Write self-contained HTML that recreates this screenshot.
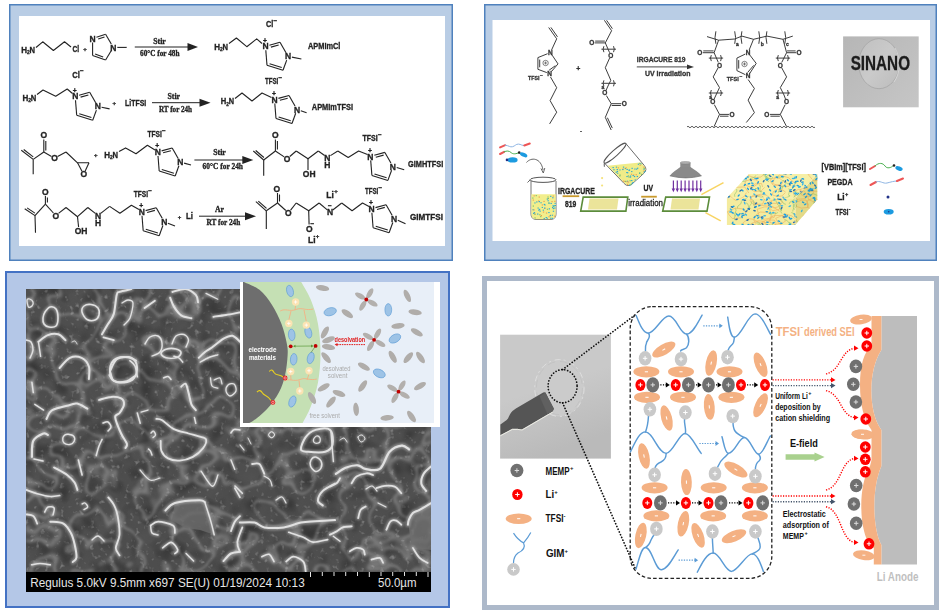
<!DOCTYPE html>
<html><head><meta charset="utf-8"><title>Figure</title>
<style>html,body{margin:0;padding:0;background:#fff;}body{width:942px;height:615px;overflow:hidden;position:relative;}svg{position:absolute;left:0;top:0;}</style>
</head><body>
<svg width="942" height="615" viewBox="0 0 942 615">
<rect x="9.75" y="4.75" width="442.5" height="255.5" fill="#b9cde5" stroke="#4f81bd" stroke-width="1.5"/>
<rect x="19" y="16" width="426" height="230" fill="#fff"/>
<rect x="484.75" y="4.75" width="451.5" height="255.5" fill="#b9cde5" stroke="#4f81bd" stroke-width="1.5"/>
<rect x="492.5" y="20" width="437.5" height="221" fill="#fff"/>
<rect x="6" y="272" width="443" height="335" fill="#b4c7e7" stroke="#4472c4" stroke-width="2"/>
<rect x="484.5" y="278.5" width="452" height="329" fill="#fff" stroke="#adb9ca" stroke-width="5"/>
<defs><filter id="soft" x="0" y="0" width="100%" height="100%" filterUnits="userSpaceOnUse"><feGaussianBlur stdDeviation="0.4"/></filter></defs>
<g filter="url(#soft)">
<text x="21.3" y="53.1" font-family='"Liberation Sans", sans-serif' font-size="8.5" font-weight="bold" fill="#222" text-anchor="start" textLength="5.8" lengthAdjust="spacingAndGlyphs" stroke="#222" stroke-width="0.3">H</text>
<text x="27.1" y="54.2" font-family='"Liberation Sans", sans-serif' font-size="5.525" font-weight="bold" fill="#222" text-anchor="start" textLength="2.7" lengthAdjust="spacingAndGlyphs" stroke="#222" stroke-width="0.3">2</text>
<text x="29.5" y="53.1" font-family='"Liberation Sans", sans-serif' font-size="8.5" font-weight="bold" fill="#222" text-anchor="start" textLength="5.5" lengthAdjust="spacingAndGlyphs" stroke="#222" stroke-width="0.3">N</text>
<polyline points="36.0,47.5 42.7,41.8 53.4,50.5 64.5,41.8 71.0,47.0" fill="none" stroke="#222" stroke-width="1.1" stroke-linejoin="round" />
<text x="72.5" y="52.4" font-family='"Liberation Sans", sans-serif' font-size="8.5" font-weight="bold" fill="#222" text-anchor="start" textLength="6.7" lengthAdjust="spacingAndGlyphs" stroke="#222" stroke-width="0.3">Cl</text>
<text x="85.0" y="50.7" font-family='"Liberation Sans", sans-serif' font-size="6" font-weight="bold" fill="#222" text-anchor="middle" stroke="#222" stroke-width="0.3">+</text>
<polyline points="96.4,37.2 105.6,34.3" fill="none" stroke="#222" stroke-width="1.1" stroke-linejoin="round" />
<polyline points="98.2,39.1 104.5,37.1" fill="none" stroke="#222" stroke-width="1.1" stroke-linejoin="round" />
<polyline points="105.6,34.3 111.3,44.0" fill="none" stroke="#222" stroke-width="1.1" stroke-linejoin="round" />
<polyline points="111.2,50.8 105.6,60.0" fill="none" stroke="#222" stroke-width="1.1" stroke-linejoin="round" />
<polyline points="105.6,60.0 92.6,55.5" fill="none" stroke="#222" stroke-width="1.1" stroke-linejoin="round" />
<polyline points="103.1,57.1 95.1,54.0" fill="none" stroke="#222" stroke-width="1.1" stroke-linejoin="round" />
<polyline points="92.6,55.5 92.6,42.4" fill="none" stroke="#222" stroke-width="1.1" stroke-linejoin="round" />
<text x="92.6" y="41.5" font-family='"Liberation Sans", sans-serif' font-size="8.5" font-weight="bold" fill="#222" text-anchor="middle" stroke="#222" stroke-width="0.3">N</text>
<text x="113.3" y="50.5" font-family='"Liberation Sans", sans-serif' font-size="8.5" font-weight="bold" fill="#222" text-anchor="middle" stroke="#222" stroke-width="0.3">N</text>
<polyline points="117.3,47.4 126.7,47.4" fill="none" stroke="#222" stroke-width="1.1" stroke-linejoin="round" />
<polyline points="134.8,47.0 188.5,47.0" fill="none" stroke="#222" stroke-width="1.0" stroke-linejoin="round" />
<polygon points="187.5,43.0 198.0,47.0 187.5,51.0" fill="#222"/>
<text x="159.5" y="44.1" font-family='"Liberation Serif", serif' font-size="7.8" font-weight="bold" fill="#222" text-anchor="middle" stroke="#222" stroke-width="0.3">Stir</text>
<text x="140.0" y="55.5" font-family='"Liberation Serif", serif' font-size="7.8" font-weight="bold" fill="#222" text-anchor="start" textLength="39.5" lengthAdjust="spacingAndGlyphs" stroke="#222" stroke-width="0.3">60°C for 48h</text>
<text x="266.0" y="26.9" font-family='"Liberation Sans", sans-serif' font-size="8.5" font-weight="bold" fill="#222" text-anchor="start" textLength="7.3" lengthAdjust="spacingAndGlyphs" stroke="#222" stroke-width="0.3">Cl</text>
<text x="273.5" y="22.6" font-family='"Liberation Sans", sans-serif' font-size="6.375" font-weight="bold" fill="#222" text-anchor="start" stroke="#222" stroke-width="0.3">−</text>
<text x="214.3" y="49.8" font-family='"Liberation Sans", sans-serif' font-size="8.5" font-weight="bold" fill="#222" text-anchor="start" textLength="5.8" lengthAdjust="spacingAndGlyphs" stroke="#222" stroke-width="0.3">H</text>
<text x="220.1" y="50.9" font-family='"Liberation Sans", sans-serif' font-size="5.525" font-weight="bold" fill="#222" text-anchor="start" textLength="2.7" lengthAdjust="spacingAndGlyphs" stroke="#222" stroke-width="0.3">2</text>
<text x="222.5" y="49.8" font-family='"Liberation Sans", sans-serif' font-size="8.5" font-weight="bold" fill="#222" text-anchor="start" textLength="5.5" lengthAdjust="spacingAndGlyphs" stroke="#222" stroke-width="0.3">N</text>
<polyline points="229.0,43.5 236.4,38.0 246.8,46.7 256.7,38.9 262.0,43.5" fill="none" stroke="#222" stroke-width="1.1" stroke-linejoin="round" />
<polyline points="269.4,45.2 280.0,42.3" fill="none" stroke="#222" stroke-width="1.1" stroke-linejoin="round" />
<polyline points="270.9,47.1 278.7,45.0" fill="none" stroke="#222" stroke-width="1.1" stroke-linejoin="round" />
<polyline points="280.0,42.3 286.0,52.8" fill="none" stroke="#222" stroke-width="1.1" stroke-linejoin="round" />
<polyline points="286.7,60.1 283.0,70.3" fill="none" stroke="#222" stroke-width="1.1" stroke-linejoin="round" />
<polyline points="283.0,70.3 267.0,65.3" fill="none" stroke="#222" stroke-width="1.1" stroke-linejoin="round" />
<polyline points="281.7,67.6 269.6,63.8" fill="none" stroke="#222" stroke-width="1.1" stroke-linejoin="round" />
<polyline points="267.0,65.3 265.8,50.3" fill="none" stroke="#222" stroke-width="1.1" stroke-linejoin="round" />
<text x="265.5" y="49.4" font-family='"Liberation Sans", sans-serif' font-size="8.5" font-weight="bold" fill="#222" text-anchor="middle" stroke="#222" stroke-width="0.3">N</text>
<text x="288.0" y="59.4" font-family='"Liberation Sans", sans-serif' font-size="8.5" font-weight="bold" fill="#222" text-anchor="middle" stroke="#222" stroke-width="0.3">N</text>
<text x="265.0" y="42.7" font-family='"Liberation Sans", sans-serif' font-size="6.800000000000001" font-weight="bold" fill="#222" text-anchor="middle" stroke="#222" stroke-width="0.3">+</text>
<polyline points="291.9,57.1 301.4,59.0" fill="none" stroke="#222" stroke-width="1.1" stroke-linejoin="round" />
<text x="308.0" y="49.1" font-family='"Liberation Sans", sans-serif' font-size="8.5" font-weight="bold" fill="#222" text-anchor="start" textLength="32.4" lengthAdjust="spacingAndGlyphs" stroke="#222" stroke-width="0.3">APMImCl</text>
<text x="72.2" y="77.6" font-family='"Liberation Sans", sans-serif' font-size="8.5" font-weight="bold" fill="#222" text-anchor="start" textLength="7.6" lengthAdjust="spacingAndGlyphs" stroke="#222" stroke-width="0.3">Cl</text>
<text x="80.0" y="73.3" font-family='"Liberation Sans", sans-serif' font-size="6.375" font-weight="bold" fill="#222" text-anchor="start" stroke="#222" stroke-width="0.3">−</text>
<text x="22.4" y="100.5" font-family='"Liberation Sans", sans-serif' font-size="8.5" font-weight="bold" fill="#222" text-anchor="start" textLength="5.8" lengthAdjust="spacingAndGlyphs" stroke="#222" stroke-width="0.3">H</text>
<text x="28.2" y="101.6" font-family='"Liberation Sans", sans-serif' font-size="5.525" font-weight="bold" fill="#222" text-anchor="start" textLength="2.8" lengthAdjust="spacingAndGlyphs" stroke="#222" stroke-width="0.3">2</text>
<text x="30.7" y="100.5" font-family='"Liberation Sans", sans-serif' font-size="8.5" font-weight="bold" fill="#222" text-anchor="start" textLength="5.5" lengthAdjust="spacingAndGlyphs" stroke="#222" stroke-width="0.3">N</text>
<polyline points="37.0,94.5 43.0,90.0 55.7,96.3 67.2,89.0 72.5,93.5" fill="none" stroke="#222" stroke-width="1.1" stroke-linejoin="round" />
<polyline points="79.1,95.2 89.7,92.3" fill="none" stroke="#222" stroke-width="1.1" stroke-linejoin="round" />
<polyline points="80.6,97.1 88.4,95.0" fill="none" stroke="#222" stroke-width="1.1" stroke-linejoin="round" />
<polyline points="89.7,92.3 95.7,102.8" fill="none" stroke="#222" stroke-width="1.1" stroke-linejoin="round" />
<polyline points="96.4,110.1 92.7,120.3" fill="none" stroke="#222" stroke-width="1.1" stroke-linejoin="round" />
<polyline points="92.7,120.3 76.7,115.3" fill="none" stroke="#222" stroke-width="1.1" stroke-linejoin="round" />
<polyline points="91.4,117.6 79.3,113.8" fill="none" stroke="#222" stroke-width="1.1" stroke-linejoin="round" />
<polyline points="76.7,115.3 75.5,100.3" fill="none" stroke="#222" stroke-width="1.1" stroke-linejoin="round" />
<text x="75.2" y="99.4" font-family='"Liberation Sans", sans-serif' font-size="8.5" font-weight="bold" fill="#222" text-anchor="middle" stroke="#222" stroke-width="0.3">N</text>
<text x="97.7" y="109.4" font-family='"Liberation Sans", sans-serif' font-size="8.5" font-weight="bold" fill="#222" text-anchor="middle" stroke="#222" stroke-width="0.3">N</text>
<text x="74.7" y="92.7" font-family='"Liberation Sans", sans-serif' font-size="6.800000000000001" font-weight="bold" fill="#222" text-anchor="middle" stroke="#222" stroke-width="0.3">+</text>
<polyline points="101.6,107.2 109.6,108.9" fill="none" stroke="#222" stroke-width="1.1" stroke-linejoin="round" />
<text x="114.2" y="105.3" font-family='"Liberation Sans", sans-serif' font-size="6" font-weight="bold" fill="#222" text-anchor="middle" stroke="#222" stroke-width="0.3">+</text>
<text x="125.0" y="106.2" font-family='"Liberation Sans", sans-serif' font-size="8.5" font-weight="bold" fill="#222" text-anchor="start" textLength="21.3" lengthAdjust="spacingAndGlyphs" stroke="#222" stroke-width="0.3">LiTFSI</text>
<polyline points="152.0,102.7 200.5,102.7" fill="none" stroke="#222" stroke-width="1.0" stroke-linejoin="round" />
<polygon points="199.5,98.7 210.5,102.7 199.5,106.7" fill="#222"/>
<text x="173.8" y="99.1" font-family='"Liberation Serif", serif' font-size="7.8" font-weight="bold" fill="#222" text-anchor="middle" stroke="#222" stroke-width="0.3">Stir</text>
<text x="158.9" y="112.4" font-family='"Liberation Serif", serif' font-size="7.8" font-weight="bold" fill="#222" text-anchor="start" textLength="33.2" lengthAdjust="spacingAndGlyphs" stroke="#222" stroke-width="0.3">RT for 24h</text>
<text x="265.0" y="84.1" font-family='"Liberation Sans", sans-serif' font-size="8.5" font-weight="bold" fill="#222" text-anchor="start" textLength="13.3" lengthAdjust="spacingAndGlyphs" stroke="#222" stroke-width="0.3">TFSI</text>
<text x="278.6" y="79.8" font-family='"Liberation Sans", sans-serif' font-size="6.375" font-weight="bold" fill="#222" text-anchor="start" stroke="#222" stroke-width="0.3">−</text>
<text x="220.8" y="104.4" font-family='"Liberation Sans", sans-serif' font-size="8.5" font-weight="bold" fill="#222" text-anchor="start" textLength="5.5" lengthAdjust="spacingAndGlyphs" stroke="#222" stroke-width="0.3">H</text>
<text x="226.3" y="105.5" font-family='"Liberation Sans", sans-serif' font-size="5.525" font-weight="bold" fill="#222" text-anchor="start" textLength="2.6" lengthAdjust="spacingAndGlyphs" stroke="#222" stroke-width="0.3">2</text>
<text x="228.7" y="104.4" font-family='"Liberation Sans", sans-serif' font-size="8.5" font-weight="bold" fill="#222" text-anchor="start" textLength="5.3" lengthAdjust="spacingAndGlyphs" stroke="#222" stroke-width="0.3">N</text>
<polyline points="235.0,98.5 242.0,93.0 252.0,101.0 262.0,93.0 271.5,97.5" fill="none" stroke="#222" stroke-width="1.1" stroke-linejoin="round" />
<polyline points="278.4,98.4 289.0,95.5" fill="none" stroke="#222" stroke-width="1.1" stroke-linejoin="round" />
<polyline points="279.9,100.3 287.7,98.2" fill="none" stroke="#222" stroke-width="1.1" stroke-linejoin="round" />
<polyline points="289.0,95.5 295.0,106.0" fill="none" stroke="#222" stroke-width="1.1" stroke-linejoin="round" />
<polyline points="295.7,113.3 292.0,123.5" fill="none" stroke="#222" stroke-width="1.1" stroke-linejoin="round" />
<polyline points="292.0,123.5 276.0,118.5" fill="none" stroke="#222" stroke-width="1.1" stroke-linejoin="round" />
<polyline points="290.7,120.8 278.6,117.0" fill="none" stroke="#222" stroke-width="1.1" stroke-linejoin="round" />
<polyline points="276.0,118.5 274.8,103.5" fill="none" stroke="#222" stroke-width="1.1" stroke-linejoin="round" />
<text x="274.5" y="102.6" font-family='"Liberation Sans", sans-serif' font-size="8.5" font-weight="bold" fill="#222" text-anchor="middle" stroke="#222" stroke-width="0.3">N</text>
<text x="297.0" y="112.6" font-family='"Liberation Sans", sans-serif' font-size="8.5" font-weight="bold" fill="#222" text-anchor="middle" stroke="#222" stroke-width="0.3">N</text>
<text x="274.0" y="95.9" font-family='"Liberation Sans", sans-serif' font-size="6.800000000000001" font-weight="bold" fill="#222" text-anchor="middle" stroke="#222" stroke-width="0.3">+</text>
<polyline points="300.8,110.8 306.6,112.7" fill="none" stroke="#222" stroke-width="1.1" stroke-linejoin="round" />
<text x="311.8" y="109.6" font-family='"Liberation Sans", sans-serif' font-size="8.5" font-weight="bold" fill="#222" text-anchor="start" textLength="41.2" lengthAdjust="spacingAndGlyphs" stroke="#222" stroke-width="0.3">APMImTFSI</text>
<polyline points="21.3,150.2 33.2,159.4" fill="none" stroke="#222" stroke-width="1.1" stroke-linejoin="round" />
<polyline points="23.7,149.5 33.2,156.9" fill="none" stroke="#222" stroke-width="1.1" stroke-linejoin="round" />
<polyline points="33.2,159.4 33.2,174.3" fill="none" stroke="#222" stroke-width="1.1" stroke-linejoin="round" />
<polyline points="33.2,159.4 43.8,152.0" fill="none" stroke="#222" stroke-width="1.1" stroke-linejoin="round" />
<polyline points="43.8,152.0 43.8,139.5" fill="none" stroke="#222" stroke-width="1.1" stroke-linejoin="round" />
<polyline points="45.8,150.5 45.8,141.0" fill="none" stroke="#222" stroke-width="1.1" stroke-linejoin="round" />
<text x="43.8" y="138.1" font-family='"Liberation Sans", sans-serif' font-size="8.5" font-weight="bold" fill="#222" text-anchor="middle" stroke="#222" stroke-width="0.3">O</text>
<polyline points="43.8,152.0 51.5,156.4" fill="none" stroke="#222" stroke-width="1.1" stroke-linejoin="round" />
<text x="54.5" y="161.3" font-family='"Liberation Sans", sans-serif' font-size="8.5" font-weight="bold" fill="#222" text-anchor="middle" stroke="#222" stroke-width="0.3">O</text>
<polyline points="57.6,156.5 66.0,152.0" fill="none" stroke="#222" stroke-width="1.1" stroke-linejoin="round" />
<polyline points="66.0,152.0 77.5,162.8 89.0,162.8" fill="none" stroke="#222" stroke-width="1.1" stroke-linejoin="round" />
<polyline points="77.5,162.8 82.0,171.2" fill="none" stroke="#222" stroke-width="1.1" stroke-linejoin="round" />
<polyline points="89.0,162.8 85.2,171.1" fill="none" stroke="#222" stroke-width="1.1" stroke-linejoin="round" />
<text x="83.7" y="177.4" font-family='"Liberation Sans", sans-serif' font-size="8.5" font-weight="bold" fill="#222" text-anchor="middle" stroke="#222" stroke-width="0.3">O</text>
<text x="95.8" y="157.0" font-family='"Liberation Sans", sans-serif' font-size="6" font-weight="bold" fill="#222" text-anchor="middle" stroke="#222" stroke-width="0.3">+</text>
<text x="104.3" y="157.5" font-family='"Liberation Sans", sans-serif' font-size="8.5" font-weight="bold" fill="#222" text-anchor="start" textLength="5.8" lengthAdjust="spacingAndGlyphs" stroke="#222" stroke-width="0.3">H</text>
<text x="110.1" y="158.6" font-family='"Liberation Sans", sans-serif' font-size="5.525" font-weight="bold" fill="#222" text-anchor="start" textLength="2.7" lengthAdjust="spacingAndGlyphs" stroke="#222" stroke-width="0.3">2</text>
<text x="112.5" y="157.5" font-family='"Liberation Sans", sans-serif' font-size="8.5" font-weight="bold" fill="#222" text-anchor="start" textLength="5.5" lengthAdjust="spacingAndGlyphs" stroke="#222" stroke-width="0.3">N</text>
<polyline points="119.0,151.5 125.6,147.9 136.0,153.7 147.4,145.2 155.0,150.0" fill="none" stroke="#222" stroke-width="1.1" stroke-linejoin="round" />
<polyline points="161.6,150.9 172.2,148.0" fill="none" stroke="#222" stroke-width="1.1" stroke-linejoin="round" />
<polyline points="163.1,152.8 170.9,150.7" fill="none" stroke="#222" stroke-width="1.1" stroke-linejoin="round" />
<polyline points="172.2,148.0 178.2,158.5" fill="none" stroke="#222" stroke-width="1.1" stroke-linejoin="round" />
<polyline points="178.9,165.8 175.2,176.0" fill="none" stroke="#222" stroke-width="1.1" stroke-linejoin="round" />
<polyline points="175.2,176.0 159.2,171.0" fill="none" stroke="#222" stroke-width="1.1" stroke-linejoin="round" />
<polyline points="173.9,173.3 161.8,169.5" fill="none" stroke="#222" stroke-width="1.1" stroke-linejoin="round" />
<polyline points="159.2,171.0 158.0,156.0" fill="none" stroke="#222" stroke-width="1.1" stroke-linejoin="round" />
<text x="157.7" y="155.1" font-family='"Liberation Sans", sans-serif' font-size="8.5" font-weight="bold" fill="#222" text-anchor="middle" stroke="#222" stroke-width="0.3">N</text>
<text x="180.2" y="165.1" font-family='"Liberation Sans", sans-serif' font-size="8.5" font-weight="bold" fill="#222" text-anchor="middle" stroke="#222" stroke-width="0.3">N</text>
<text x="157.2" y="148.4" font-family='"Liberation Sans", sans-serif' font-size="6.800000000000001" font-weight="bold" fill="#222" text-anchor="middle" stroke="#222" stroke-width="0.3">+</text>
<polyline points="184.1,163.1 191.0,165.0" fill="none" stroke="#222" stroke-width="1.1" stroke-linejoin="round" />
<text x="147.4" y="136.8" font-family='"Liberation Sans", sans-serif' font-size="8.5" font-weight="bold" fill="#222" text-anchor="start" textLength="14.4" lengthAdjust="spacingAndGlyphs" stroke="#222" stroke-width="0.3">TFSI</text>
<text x="162.1" y="132.5" font-family='"Liberation Sans", sans-serif' font-size="6.375" font-weight="bold" fill="#222" text-anchor="start" stroke="#222" stroke-width="0.3">−</text>
<polyline points="194.4,160.0 243.3,160.0" fill="none" stroke="#222" stroke-width="1.0" stroke-linejoin="round" />
<polygon points="242.3,156.0 253.3,160.0 242.3,164.0" fill="#222"/>
<text x="219.5" y="155.1" font-family='"Liberation Serif", serif' font-size="7.8" font-weight="bold" fill="#222" text-anchor="middle" stroke="#222" stroke-width="0.3">Stir</text>
<text x="202.6" y="168.8" font-family='"Liberation Serif", serif' font-size="7.8" font-weight="bold" fill="#222" text-anchor="start" textLength="40.4" lengthAdjust="spacingAndGlyphs" stroke="#222" stroke-width="0.3">60°C for 24h</text>
<polyline points="253.3,151.0 263.7,160.0" fill="none" stroke="#222" stroke-width="1.1" stroke-linejoin="round" />
<polyline points="255.7,150.5 263.9,157.5" fill="none" stroke="#222" stroke-width="1.1" stroke-linejoin="round" />
<polyline points="263.7,160.0 263.7,175.7" fill="none" stroke="#222" stroke-width="1.1" stroke-linejoin="round" />
<polyline points="263.7,160.0 275.4,151.0" fill="none" stroke="#222" stroke-width="1.1" stroke-linejoin="round" />
<polyline points="275.4,151.0 275.4,139.5" fill="none" stroke="#222" stroke-width="1.1" stroke-linejoin="round" />
<polyline points="277.4,149.5 277.4,141.0" fill="none" stroke="#222" stroke-width="1.1" stroke-linejoin="round" />
<text x="275.4" y="138.0" font-family='"Liberation Sans", sans-serif' font-size="8.5" font-weight="bold" fill="#222" text-anchor="middle" stroke="#222" stroke-width="0.3">O</text>
<polyline points="275.4,151.0 284.2,156.9" fill="none" stroke="#222" stroke-width="1.1" stroke-linejoin="round" />
<text x="287.1" y="161.9" font-family='"Liberation Sans", sans-serif' font-size="8.5" font-weight="bold" fill="#222" text-anchor="middle" stroke="#222" stroke-width="0.3">O</text>
<polyline points="289.8,156.5 296.2,151.0" fill="none" stroke="#222" stroke-width="1.1" stroke-linejoin="round" />
<polyline points="296.2,151.0 308.0,158.8 318.3,151.0" fill="none" stroke="#222" stroke-width="1.1" stroke-linejoin="round" />
<polyline points="308.0,158.8 308.0,169.9" fill="none" stroke="#222" stroke-width="1.1" stroke-linejoin="round" />
<text x="309.2" y="177.0" font-family='"Liberation Sans", sans-serif' font-size="8.5" font-weight="bold" fill="#222" text-anchor="middle" stroke="#222" stroke-width="0.3">OH</text>
<polyline points="318.3,151.0 324.6,155.5" fill="none" stroke="#222" stroke-width="1.1" stroke-linejoin="round" />
<text x="327.4" y="160.6" font-family='"Liberation Sans", sans-serif' font-size="8.5" font-weight="bold" fill="#222" text-anchor="middle" stroke="#222" stroke-width="0.3">N</text>
<text x="327.4" y="168.4" font-family='"Liberation Sans", sans-serif' font-size="8.5" font-weight="bold" fill="#222" text-anchor="middle" stroke="#222" stroke-width="0.3">H</text>
<polyline points="330.4,155.6 337.8,151.0" fill="none" stroke="#222" stroke-width="1.1" stroke-linejoin="round" />
<polyline points="337.8,151.0 348.2,157.5 358.6,151.0 367.5,154.5" fill="none" stroke="#222" stroke-width="1.1" stroke-linejoin="round" />
<polyline points="374.3,155.3 384.9,152.4" fill="none" stroke="#222" stroke-width="1.1" stroke-linejoin="round" />
<polyline points="375.8,157.2 383.6,155.1" fill="none" stroke="#222" stroke-width="1.1" stroke-linejoin="round" />
<polyline points="384.9,152.4 390.9,162.9" fill="none" stroke="#222" stroke-width="1.1" stroke-linejoin="round" />
<polyline points="391.6,170.2 387.9,180.4" fill="none" stroke="#222" stroke-width="1.1" stroke-linejoin="round" />
<polyline points="387.9,180.4 371.9,175.4" fill="none" stroke="#222" stroke-width="1.1" stroke-linejoin="round" />
<polyline points="386.6,177.7 374.5,173.9" fill="none" stroke="#222" stroke-width="1.1" stroke-linejoin="round" />
<polyline points="371.9,175.4 370.7,160.4" fill="none" stroke="#222" stroke-width="1.1" stroke-linejoin="round" />
<text x="370.4" y="159.5" font-family='"Liberation Sans", sans-serif' font-size="8.5" font-weight="bold" fill="#222" text-anchor="middle" stroke="#222" stroke-width="0.3">N</text>
<text x="392.9" y="169.5" font-family='"Liberation Sans", sans-serif' font-size="8.5" font-weight="bold" fill="#222" text-anchor="middle" stroke="#222" stroke-width="0.3">N</text>
<text x="369.9" y="152.8" font-family='"Liberation Sans", sans-serif' font-size="6.800000000000001" font-weight="bold" fill="#222" text-anchor="middle" stroke="#222" stroke-width="0.3">+</text>
<polyline points="396.7,167.5 404.2,169.7" fill="none" stroke="#222" stroke-width="1.1" stroke-linejoin="round" />
<text x="362.5" y="141.1" font-family='"Liberation Sans", sans-serif' font-size="8.5" font-weight="bold" fill="#222" text-anchor="start" textLength="15.2" lengthAdjust="spacingAndGlyphs" stroke="#222" stroke-width="0.3">TFSI</text>
<text x="378.1" y="136.8" font-family='"Liberation Sans", sans-serif' font-size="6.375" font-weight="bold" fill="#222" text-anchor="start" stroke="#222" stroke-width="0.3">−</text>
<text x="408.0" y="166.6" font-family='"Liberation Sans", sans-serif' font-size="8.5" font-weight="bold" fill="#222" text-anchor="start" textLength="35.2" lengthAdjust="spacingAndGlyphs" stroke="#222" stroke-width="0.3">GIMHTFSI</text>
<polyline points="24.7,208.7 35.0,215.6" fill="none" stroke="#222" stroke-width="1.1" stroke-linejoin="round" />
<polyline points="27.1,207.9 34.9,213.1" fill="none" stroke="#222" stroke-width="1.1" stroke-linejoin="round" />
<polyline points="35.0,215.6 35.5,232.8" fill="none" stroke="#222" stroke-width="1.1" stroke-linejoin="round" />
<polyline points="35.0,215.6 45.4,204.1" fill="none" stroke="#222" stroke-width="1.1" stroke-linejoin="round" />
<polyline points="45.4,204.1 45.4,196.0" fill="none" stroke="#222" stroke-width="1.1" stroke-linejoin="round" />
<polyline points="47.4,202.6 47.4,197.5" fill="none" stroke="#222" stroke-width="1.1" stroke-linejoin="round" />
<text x="45.4" y="194.6" font-family='"Liberation Sans", sans-serif' font-size="8.5" font-weight="bold" fill="#222" text-anchor="middle" stroke="#222" stroke-width="0.3">O</text>
<polyline points="45.4,204.1 53.4,213.0" fill="none" stroke="#222" stroke-width="1.1" stroke-linejoin="round" />
<text x="55.7" y="218.7" font-family='"Liberation Sans", sans-serif' font-size="8.5" font-weight="bold" fill="#222" text-anchor="middle" stroke="#222" stroke-width="0.3">O</text>
<polyline points="58.5,213.4 66.0,207.5" fill="none" stroke="#222" stroke-width="1.1" stroke-linejoin="round" />
<polyline points="66.0,207.5 77.5,216.7 87.8,207.5" fill="none" stroke="#222" stroke-width="1.1" stroke-linejoin="round" />
<polyline points="77.5,216.7 78.6,227.0" fill="none" stroke="#222" stroke-width="1.1" stroke-linejoin="round" />
<text x="81.0" y="234.1" font-family='"Liberation Sans", sans-serif' font-size="8.5" font-weight="bold" fill="#222" text-anchor="middle" stroke="#222" stroke-width="0.3">OH</text>
<polyline points="87.8,207.5 95.3,213.4" fill="none" stroke="#222" stroke-width="1.1" stroke-linejoin="round" />
<text x="98.0" y="218.7" font-family='"Liberation Sans", sans-serif' font-size="8.5" font-weight="bold" fill="#222" text-anchor="middle" stroke="#222" stroke-width="0.3">N</text>
<text x="98.0" y="225.9" font-family='"Liberation Sans", sans-serif' font-size="8.5" font-weight="bold" fill="#222" text-anchor="middle" stroke="#222" stroke-width="0.3">H</text>
<polyline points="100.7,213.4 109.6,206.4" fill="none" stroke="#222" stroke-width="1.1" stroke-linejoin="round" />
<polyline points="109.6,206.4 119.9,213.3 131.4,205.3 139.0,209.5" fill="none" stroke="#222" stroke-width="1.1" stroke-linejoin="round" />
<polyline points="145.6,210.6 156.2,207.7" fill="none" stroke="#222" stroke-width="1.1" stroke-linejoin="round" />
<polyline points="147.1,212.5 154.9,210.4" fill="none" stroke="#222" stroke-width="1.1" stroke-linejoin="round" />
<polyline points="156.2,207.7 162.2,218.2" fill="none" stroke="#222" stroke-width="1.1" stroke-linejoin="round" />
<polyline points="162.9,225.5 159.2,235.7" fill="none" stroke="#222" stroke-width="1.1" stroke-linejoin="round" />
<polyline points="159.2,235.7 143.2,230.7" fill="none" stroke="#222" stroke-width="1.1" stroke-linejoin="round" />
<polyline points="157.9,233.0 145.8,229.2" fill="none" stroke="#222" stroke-width="1.1" stroke-linejoin="round" />
<polyline points="143.2,230.7 142.0,215.7" fill="none" stroke="#222" stroke-width="1.1" stroke-linejoin="round" />
<text x="141.7" y="214.8" font-family='"Liberation Sans", sans-serif' font-size="8.5" font-weight="bold" fill="#222" text-anchor="middle" stroke="#222" stroke-width="0.3">N</text>
<text x="164.2" y="224.8" font-family='"Liberation Sans", sans-serif' font-size="8.5" font-weight="bold" fill="#222" text-anchor="middle" stroke="#222" stroke-width="0.3">N</text>
<text x="141.2" y="208.1" font-family='"Liberation Sans", sans-serif' font-size="6.800000000000001" font-weight="bold" fill="#222" text-anchor="middle" stroke="#222" stroke-width="0.3">+</text>
<polyline points="167.9,223.2 175.0,226.0" fill="none" stroke="#222" stroke-width="1.1" stroke-linejoin="round" />
<text x="133.7" y="196.9" font-family='"Liberation Sans", sans-serif' font-size="8.5" font-weight="bold" fill="#222" text-anchor="start" textLength="14.3" lengthAdjust="spacingAndGlyphs" stroke="#222" stroke-width="0.3">TFSI</text>
<text x="148.3" y="192.6" font-family='"Liberation Sans", sans-serif' font-size="6.375" font-weight="bold" fill="#222" text-anchor="start" stroke="#222" stroke-width="0.3">−</text>
<text x="179.5" y="218.5" font-family='"Liberation Sans", sans-serif' font-size="6" font-weight="bold" fill="#222" text-anchor="middle" stroke="#222" stroke-width="0.3">+</text>
<text x="186.0" y="218.7" font-family='"Liberation Sans", sans-serif' font-size="8.5" font-weight="bold" fill="#222" text-anchor="start" textLength="7.0" lengthAdjust="spacingAndGlyphs" stroke="#222" stroke-width="0.3">Li</text>
<polyline points="199.0,216.2 246.0,216.2" fill="none" stroke="#222" stroke-width="1.0" stroke-linejoin="round" />
<polygon points="245.0,212.2 256.0,216.2 245.0,220.2" fill="#222"/>
<text x="219.5" y="211.5" font-family='"Liberation Serif", serif' font-size="7.8" font-weight="bold" fill="#222" text-anchor="middle" stroke="#222" stroke-width="0.3">Ar</text>
<text x="206.5" y="224.5" font-family='"Liberation Serif", serif' font-size="7.8" font-weight="bold" fill="#222" text-anchor="start" textLength="33.8" lengthAdjust="spacingAndGlyphs" stroke="#222" stroke-width="0.3">RT for 24h</text>
<polyline points="255.9,201.7 266.3,210.8" fill="none" stroke="#222" stroke-width="1.1" stroke-linejoin="round" />
<polyline points="258.3,201.2 266.5,208.3" fill="none" stroke="#222" stroke-width="1.1" stroke-linejoin="round" />
<polyline points="266.3,210.8 266.3,229.0" fill="none" stroke="#222" stroke-width="1.1" stroke-linejoin="round" />
<polyline points="266.3,210.8 277.5,203.0" fill="none" stroke="#222" stroke-width="1.1" stroke-linejoin="round" />
<polyline points="277.5,203.0 277.5,193.0" fill="none" stroke="#222" stroke-width="1.1" stroke-linejoin="round" />
<polyline points="279.5,201.5 279.5,194.5" fill="none" stroke="#222" stroke-width="1.1" stroke-linejoin="round" />
<text x="276.7" y="191.8" font-family='"Liberation Sans", sans-serif' font-size="8.5" font-weight="bold" fill="#222" text-anchor="middle" stroke="#222" stroke-width="0.3">O</text>
<polyline points="277.5,203.0 285.8,210.5" fill="none" stroke="#222" stroke-width="1.1" stroke-linejoin="round" />
<text x="288.4" y="216.0" font-family='"Liberation Sans", sans-serif' font-size="8.5" font-weight="bold" fill="#222" text-anchor="middle" stroke="#222" stroke-width="0.3">O</text>
<polyline points="290.6,210.2 296.2,203.0" fill="none" stroke="#222" stroke-width="1.1" stroke-linejoin="round" />
<polyline points="296.2,203.0 308.7,210.8 319.1,203.0" fill="none" stroke="#222" stroke-width="1.1" stroke-linejoin="round" />
<polyline points="308.7,210.8 309.1,224.5" fill="none" stroke="#222" stroke-width="1.1" stroke-linejoin="round" />
<text x="309.2" y="231.6" font-family='"Liberation Sans", sans-serif' font-size="8.5" font-weight="bold" fill="#222" text-anchor="middle" stroke="#222" stroke-width="0.3">O</text>
<text x="312.5" y="225.8" font-family='"Liberation Sans", sans-serif' font-size="6.5" font-weight="bold" fill="#222" text-anchor="middle" stroke="#222" stroke-width="0.3">−</text>
<text x="311.8" y="242.5" font-family='"Liberation Sans", sans-serif' font-size="8.5" font-weight="bold" fill="#222" text-anchor="middle" stroke="#222" stroke-width="0.3">Li</text>
<text x="317.5" y="237.7" font-family='"Liberation Sans", sans-serif' font-size="6" font-weight="bold" fill="#222" text-anchor="middle" stroke="#222" stroke-width="0.3">+</text>
<polyline points="319.1,203.0 327.3,209.9" fill="none" stroke="#222" stroke-width="1.1" stroke-linejoin="round" />
<text x="330.0" y="215.2" font-family='"Liberation Sans", sans-serif' font-size="8.5" font-weight="bold" fill="#222" text-anchor="middle" stroke="#222" stroke-width="0.3">N</text>
<text x="330.0" y="208.3" font-family='"Liberation Sans", sans-serif' font-size="6.5" font-weight="bold" fill="#222" text-anchor="middle" stroke="#222" stroke-width="0.3">−</text>
<text x="330.0" y="197.8" font-family='"Liberation Sans", sans-serif' font-size="8.5" font-weight="bold" fill="#222" text-anchor="middle" stroke="#222" stroke-width="0.3">Li</text>
<text x="336.0" y="192.7" font-family='"Liberation Sans", sans-serif' font-size="6" font-weight="bold" fill="#222" text-anchor="middle" stroke="#222" stroke-width="0.3">+</text>
<polyline points="332.8,210.0 341.7,203.0" fill="none" stroke="#222" stroke-width="1.1" stroke-linejoin="round" />
<polyline points="341.7,203.0 352.1,210.8 362.5,203.0 369.0,206.5" fill="none" stroke="#222" stroke-width="1.1" stroke-linejoin="round" />
<polyline points="375.5,207.6 386.1,204.7" fill="none" stroke="#222" stroke-width="1.1" stroke-linejoin="round" />
<polyline points="377.0,209.5 384.8,207.4" fill="none" stroke="#222" stroke-width="1.1" stroke-linejoin="round" />
<polyline points="386.1,204.7 392.1,215.2" fill="none" stroke="#222" stroke-width="1.1" stroke-linejoin="round" />
<polyline points="392.8,222.5 389.1,232.7" fill="none" stroke="#222" stroke-width="1.1" stroke-linejoin="round" />
<polyline points="389.1,232.7 373.1,227.7" fill="none" stroke="#222" stroke-width="1.1" stroke-linejoin="round" />
<polyline points="387.8,230.0 375.7,226.2" fill="none" stroke="#222" stroke-width="1.1" stroke-linejoin="round" />
<polyline points="373.1,227.7 371.9,212.7" fill="none" stroke="#222" stroke-width="1.1" stroke-linejoin="round" />
<text x="371.6" y="211.8" font-family='"Liberation Sans", sans-serif' font-size="8.5" font-weight="bold" fill="#222" text-anchor="middle" stroke="#222" stroke-width="0.3">N</text>
<text x="394.1" y="221.8" font-family='"Liberation Sans", sans-serif' font-size="8.5" font-weight="bold" fill="#222" text-anchor="middle" stroke="#222" stroke-width="0.3">N</text>
<text x="371.1" y="205.1" font-family='"Liberation Sans", sans-serif' font-size="6.800000000000001" font-weight="bold" fill="#222" text-anchor="middle" stroke="#222" stroke-width="0.3">+</text>
<polyline points="397.8,220.3 405.5,223.8" fill="none" stroke="#222" stroke-width="1.1" stroke-linejoin="round" />
<text x="365.0" y="194.4" font-family='"Liberation Sans", sans-serif' font-size="8.5" font-weight="bold" fill="#222" text-anchor="start" textLength="13.3" lengthAdjust="spacingAndGlyphs" stroke="#222" stroke-width="0.3">TFSI</text>
<text x="378.6" y="190.1" font-family='"Liberation Sans", sans-serif' font-size="6.375" font-weight="bold" fill="#222" text-anchor="start" stroke="#222" stroke-width="0.3">−</text>
<text x="410.0" y="220.4" font-family='"Liberation Sans", sans-serif' font-size="8.5" font-weight="bold" fill="#222" text-anchor="start" textLength="33.0" lengthAdjust="spacingAndGlyphs" stroke="#222" stroke-width="0.3">GIMTFSI</text>
</g>
<g filter="url(#soft)">
<polyline points="548.7,27.5 556.7,38.8" fill="none" stroke="#333" stroke-width="0.95" stroke-linejoin="round" />
<polyline points="550.9,27.4 557.5,36.8" fill="none" stroke="#333" stroke-width="0.95" stroke-linejoin="round" />
<polyline points="556.7,38.8 551.6,49.9" fill="none" stroke="#333" stroke-width="0.95" stroke-linejoin="round" />
<polyline points="552.1,55.1 558.0,63.9" fill="none" stroke="#333" stroke-width="0.95" stroke-linejoin="round" />
<polyline points="558.0,63.9 551.6,71.4" fill="none" stroke="#333" stroke-width="0.95" stroke-linejoin="round" />
<polyline points="555.4,65.7 549.1,70.2" fill="none" stroke="#333" stroke-width="0.95" stroke-linejoin="round" />
<polyline points="546.8,72.6 537.9,69.3" fill="none" stroke="#333" stroke-width="0.95" stroke-linejoin="round" />
<polyline points="537.9,69.3 537.9,57.6" fill="none" stroke="#333" stroke-width="0.95" stroke-linejoin="round" />
<polyline points="539.7,67.3 539.7,59.6" fill="none" stroke="#333" stroke-width="0.95" stroke-linejoin="round" />
<polyline points="537.9,57.6 547.6,53.7" fill="none" stroke="#333" stroke-width="0.95" stroke-linejoin="round" />
<text x="550.4" y="54.9" font-family='"Liberation Sans", sans-serif' font-size="6.5" font-weight="bold" fill="#333" text-anchor="middle" stroke="#333" stroke-width="0.3">N</text>
<text x="549.6" y="76.0" font-family='"Liberation Sans", sans-serif' font-size="6.5" font-weight="bold" fill="#333" text-anchor="middle" stroke="#333" stroke-width="0.3">N</text>
<circle cx="545.6" cy="63" r="2.7" fill="none" stroke="#333" stroke-width="0.6"/>
<path d="M544.1,63 h3 M545.6,61.5 v3" stroke="#333" stroke-width="0.6"/>
<text x="528.0" y="80.4" font-family='"Liberation Sans", sans-serif' font-size="6" font-weight="bold" fill="#333" text-anchor="start" textLength="11.5" lengthAdjust="spacingAndGlyphs" stroke="#333" stroke-width="0.3">TFSI</text>
<text x="540.0" y="77.3" font-family='"Liberation Sans", sans-serif' font-size="5" font-weight="bold" fill="#333" text-anchor="start" stroke="#333" stroke-width="0.3">−</text>
<polyline points="550.5,77.0 556.7,87.7 550.1,100.6 556.7,112.2 549.6,123.9" fill="none" stroke="#333" stroke-width="0.95" stroke-linejoin="round" />
<text x="578.2" y="70.5" font-family='"Liberation Sans", sans-serif' font-size="7" font-weight="bold" fill="#333" text-anchor="middle" stroke="#333" stroke-width="0.3">+</text>
<polyline points="604.4,20.3 611.6,30.7" fill="none" stroke="#333" stroke-width="0.95" stroke-linejoin="round" />
<polyline points="606.6,20.3 612.4,28.7" fill="none" stroke="#333" stroke-width="0.95" stroke-linejoin="round" />
<polyline points="611.6,30.7 605.3,42.9" fill="none" stroke="#333" stroke-width="0.95" stroke-linejoin="round" />
<polyline points="605.3,42.9 594.7,42.9" fill="none" stroke="#333" stroke-width="0.95" stroke-linejoin="round" />
<polyline points="604.8,41.1 595.2,41.1" fill="none" stroke="#333" stroke-width="0.95" stroke-linejoin="round" />
<text x="591.7" y="45.2" font-family='"Liberation Sans", sans-serif' font-size="6.5" font-weight="bold" fill="#333" text-anchor="middle" stroke="#333" stroke-width="0.3">O</text>
<polyline points="601.4,49.2 616.0,49.2" fill="none" stroke="#333" stroke-width="0.95" stroke-linejoin="round" />
<path d="M603.9,46.2 q-1.6,3 0,6 M613.5,46.2 q1.6,3 0,6" fill="none" stroke="#333" stroke-width="0.95"/>
<polyline points="605.3,42.9 609.6,52.7" fill="none" stroke="#333" stroke-width="0.95" stroke-linejoin="round" />
<text x="610.8" y="57.7" font-family='"Liberation Sans", sans-serif' font-size="6.5" font-weight="bold" fill="#333" text-anchor="middle" stroke="#333" stroke-width="0.3">O</text>
<polyline points="609.6,58.1 605.3,67.7" fill="none" stroke="#333" stroke-width="0.95" stroke-linejoin="round" />
<polyline points="605.3,67.7 610.8,80.3 608.0,86.0" fill="none" stroke="#333" stroke-width="0.95" stroke-linejoin="round" />
<polyline points="601.4,83.3 616.0,83.3" fill="none" stroke="#333" stroke-width="0.95" stroke-linejoin="round" />
<path d="M603.9,80.3 q-1.6,3 0,6 M613.5,80.3 q1.6,3 0,6" fill="none" stroke="#333" stroke-width="0.95"/>
<text x="603.0" y="89.1" font-family='"Liberation Sans", sans-serif' font-size="5" font-weight="bold" fill="#333" text-anchor="middle" stroke="#333" stroke-width="0.3">a</text>
<polyline points="608.0,86.0 605.9,90.7" fill="none" stroke="#333" stroke-width="0.95" stroke-linejoin="round" />
<text x="604.9" y="95.3" font-family='"Liberation Sans", sans-serif' font-size="6.5" font-weight="bold" fill="#333" text-anchor="middle" stroke="#333" stroke-width="0.3">O</text>
<polyline points="606.4,95.6 611.2,103.7" fill="none" stroke="#333" stroke-width="0.95" stroke-linejoin="round" />
<polyline points="611.2,103.7 621.4,103.7" fill="none" stroke="#333" stroke-width="0.95" stroke-linejoin="round" />
<polyline points="611.7,105.5 620.9,105.5" fill="none" stroke="#333" stroke-width="0.95" stroke-linejoin="round" />
<text x="624.4" y="106.0" font-family='"Liberation Sans", sans-serif' font-size="6.5" font-weight="bold" fill="#333" text-anchor="middle" stroke="#333" stroke-width="0.3">O</text>
<polyline points="611.2,103.7 605.3,117.4" fill="none" stroke="#333" stroke-width="0.95" stroke-linejoin="round" />
<polyline points="605.3,117.4 611.2,130.0" fill="none" stroke="#333" stroke-width="0.95" stroke-linejoin="round" />
<polyline points="607.4,117.7 612.3,128.1" fill="none" stroke="#333" stroke-width="0.95" stroke-linejoin="round" />
<text x="581.0" y="133.2" font-family='"Liberation Sans", sans-serif' font-size="6" font-weight="bold" fill="#333" text-anchor="middle" stroke="#333" stroke-width="0.3">-</text>
<polyline points="636.8,66.9 688.0,66.9" fill="none" stroke="#333" stroke-width="0.9" stroke-linejoin="round" />
<polygon points="687.0,64.5 694.0,66.9 687.0,69.3" fill="#333"/>
<text x="636.8" y="62.2" font-family='"Liberation Sans", sans-serif' font-size="7" font-weight="bold" fill="#333" text-anchor="start" textLength="48.6" lengthAdjust="spacingAndGlyphs" stroke="#333" stroke-width="0.3">IRGACURE 819</text>
<text x="645.0" y="75.7" font-family='"Liberation Sans", sans-serif' font-size="7" font-weight="bold" fill="#333" text-anchor="start" textLength="45.5" lengthAdjust="spacingAndGlyphs" stroke="#333" stroke-width="0.3">UV irradiation</text>
<polyline points="707.0,36.6 718.6,40.2 734.7,39.0 741.9,36.1 753.5,39.3 766.9,36.1 783.0,39.3 792.8,36.1" fill="none" stroke="#333" stroke-width="0.95" stroke-linejoin="round" />
<path d="M715.9,31.3 q-1.8,6.249999999999998 0,12.499999999999996" fill="none" stroke="#333" stroke-width="0.95"/>
<path d="M734.7,31.3 q1.8,6.249999999999998 0,12.499999999999996" fill="none" stroke="#333" stroke-width="0.95"/>
<path d="M741.9,31.3 q-1.8,6.249999999999998 0,12.499999999999996" fill="none" stroke="#333" stroke-width="0.95"/>
<path d="M758.8,31.3 q1.8,6.249999999999998 0,12.499999999999996" fill="none" stroke="#333" stroke-width="0.95"/>
<path d="M766.9,31.3 q-1.8,6.249999999999998 0,12.499999999999996" fill="none" stroke="#333" stroke-width="0.95"/>
<path d="M784.8,31.3 q1.8,6.249999999999998 0,12.499999999999996" fill="none" stroke="#333" stroke-width="0.95"/>
<text x="737.4" y="46.3" font-family='"Liberation Sans", sans-serif' font-size="5" font-weight="bold" fill="#333" text-anchor="middle" stroke="#333" stroke-width="0.3">a</text>
<text x="762.4" y="46.3" font-family='"Liberation Sans", sans-serif' font-size="5" font-weight="bold" fill="#333" text-anchor="middle" stroke="#333" stroke-width="0.3">b</text>
<text x="787.5" y="46.3" font-family='"Liberation Sans", sans-serif' font-size="5" font-weight="bold" fill="#333" text-anchor="middle" stroke="#333" stroke-width="0.3">c</text>
<polyline points="718.6,40.2 714.1,52.7" fill="none" stroke="#333" stroke-width="0.95" stroke-linejoin="round" />
<polyline points="714.1,52.7 702.8,52.7" fill="none" stroke="#333" stroke-width="0.95" stroke-linejoin="round" />
<polyline points="713.6,50.9 703.3,50.9" fill="none" stroke="#333" stroke-width="0.95" stroke-linejoin="round" />
<text x="699.8" y="55.0" font-family='"Liberation Sans", sans-serif' font-size="6.5" font-weight="bold" fill="#333" text-anchor="middle" stroke="#333" stroke-width="0.3">O</text>
<polyline points="708.8,58.1 723.1,58.1" fill="none" stroke="#333" stroke-width="0.95" stroke-linejoin="round" />
<path d="M711.3,55.1 q-1.6,3 0,6 M720.6,55.1 q1.6,3 0,6" fill="none" stroke="#333" stroke-width="0.95"/>
<polyline points="714.1,52.7 718.3,62.4" fill="none" stroke="#333" stroke-width="0.95" stroke-linejoin="round" />
<text x="719.5" y="67.5" font-family='"Liberation Sans", sans-serif' font-size="6.5" font-weight="bold" fill="#333" text-anchor="middle" stroke="#333" stroke-width="0.3">O</text>
<polyline points="718.1,67.8 713.2,76.9" fill="none" stroke="#333" stroke-width="0.95" stroke-linejoin="round" />
<polyline points="713.2,76.9 719.5,87.6 716.0,95.0" fill="none" stroke="#333" stroke-width="0.95" stroke-linejoin="round" />
<polyline points="708.8,93.0 723.1,93.0" fill="none" stroke="#333" stroke-width="0.95" stroke-linejoin="round" />
<path d="M711.3,90 q-1.6,3 0,6 M720.6,90 q1.6,3 0,6" fill="none" stroke="#333" stroke-width="0.95"/>
<text x="710.6" y="98.8" font-family='"Liberation Sans", sans-serif' font-size="5" font-weight="bold" fill="#333" text-anchor="middle" stroke="#333" stroke-width="0.3">a</text>
<polyline points="716.0,95.0 713.9,99.6" fill="none" stroke="#333" stroke-width="0.95" stroke-linejoin="round" />
<text x="712.9" y="104.2" font-family='"Liberation Sans", sans-serif' font-size="6.5" font-weight="bold" fill="#333" text-anchor="middle" stroke="#333" stroke-width="0.3">O</text>
<polyline points="714.3,104.6 719.5,114.4" fill="none" stroke="#333" stroke-width="0.95" stroke-linejoin="round" />
<polyline points="719.5,114.4 729.0,114.4" fill="none" stroke="#333" stroke-width="0.95" stroke-linejoin="round" />
<polyline points="720.0,116.2 728.5,116.2" fill="none" stroke="#333" stroke-width="0.95" stroke-linejoin="round" />
<text x="732.0" y="116.7" font-family='"Liberation Sans", sans-serif' font-size="6.5" font-weight="bold" fill="#333" text-anchor="middle" stroke="#333" stroke-width="0.3">O</text>
<polyline points="719.5,114.4 714.1,126.6" fill="none" stroke="#333" stroke-width="0.95" stroke-linejoin="round" />
<polyline points="753.5,39.3 749.2,49.9" fill="none" stroke="#333" stroke-width="0.95" stroke-linejoin="round" />
<polyline points="749.9,55.1 756.2,63.4" fill="none" stroke="#333" stroke-width="0.95" stroke-linejoin="round" />
<polyline points="756.2,63.4 749.7,73.5" fill="none" stroke="#333" stroke-width="0.95" stroke-linejoin="round" />
<polyline points="753.7,65.4 747.6,72.5" fill="none" stroke="#333" stroke-width="0.95" stroke-linejoin="round" />
<polyline points="745.4,74.7 736.9,70.6" fill="none" stroke="#333" stroke-width="0.95" stroke-linejoin="round" />
<polyline points="736.9,70.6 736.9,58.1" fill="none" stroke="#333" stroke-width="0.95" stroke-linejoin="round" />
<polyline points="738.7,68.6 738.7,60.1" fill="none" stroke="#333" stroke-width="0.95" stroke-linejoin="round" />
<polyline points="736.9,58.1 745.4,54.0" fill="none" stroke="#333" stroke-width="0.95" stroke-linejoin="round" />
<text x="748.1" y="55.0" font-family='"Liberation Sans", sans-serif' font-size="6.5" font-weight="bold" fill="#333" text-anchor="middle" stroke="#333" stroke-width="0.3">N</text>
<text x="748.1" y="78.3" font-family='"Liberation Sans", sans-serif' font-size="6.5" font-weight="bold" fill="#333" text-anchor="middle" stroke="#333" stroke-width="0.3">N</text>
<circle cx="744.5" cy="64" r="2.7" fill="none" stroke="#333" stroke-width="0.6"/>
<path d="M743.0,64 h3 M744.5,62.5 v3" stroke="#333" stroke-width="0.6"/>
<text x="726.7" y="80.8" font-family='"Liberation Sans", sans-serif' font-size="6" font-weight="bold" fill="#333" text-anchor="start" textLength="12.0" lengthAdjust="spacingAndGlyphs" stroke="#333" stroke-width="0.3">TFSI</text>
<text x="739.5" y="77.8" font-family='"Liberation Sans", sans-serif' font-size="5" font-weight="bold" fill="#333" text-anchor="start" stroke="#333" stroke-width="0.3">−</text>
<polyline points="748.1,79.5 754.4,88.5 748.1,100.1 754.4,112.6 746.3,122.5" fill="none" stroke="#333" stroke-width="0.95" stroke-linejoin="round" />
<polyline points="783.0,39.3 786.6,52.7" fill="none" stroke="#333" stroke-width="0.95" stroke-linejoin="round" />
<polyline points="786.6,52.7 796.1,52.7" fill="none" stroke="#333" stroke-width="0.95" stroke-linejoin="round" />
<polyline points="787.1,50.9 795.6,50.9" fill="none" stroke="#333" stroke-width="0.95" stroke-linejoin="round" />
<text x="799.1" y="55.0" font-family='"Liberation Sans", sans-serif' font-size="6.5" font-weight="bold" fill="#333" text-anchor="middle" stroke="#333" stroke-width="0.3">O</text>
<polyline points="775.8,58.1 790.1,58.1" fill="none" stroke="#333" stroke-width="0.95" stroke-linejoin="round" />
<path d="M778.3,55.1 q-1.6,3 0,6 M787.6,55.1 q1.6,3 0,6" fill="none" stroke="#333" stroke-width="0.95"/>
<polyline points="786.6,52.7 781.7,62.5" fill="none" stroke="#333" stroke-width="0.95" stroke-linejoin="round" />
<text x="780.3" y="67.5" font-family='"Liberation Sans", sans-serif' font-size="6.5" font-weight="bold" fill="#333" text-anchor="middle" stroke="#333" stroke-width="0.3">O</text>
<polyline points="781.7,67.8 786.6,76.9" fill="none" stroke="#333" stroke-width="0.95" stroke-linejoin="round" />
<polyline points="786.6,76.9 780.3,87.6 784.0,95.0" fill="none" stroke="#333" stroke-width="0.95" stroke-linejoin="round" />
<polyline points="775.8,93.0 790.1,93.0" fill="none" stroke="#333" stroke-width="0.95" stroke-linejoin="round" />
<path d="M778.3,90 q-1.6,3 0,6 M787.6,90 q1.6,3 0,6" fill="none" stroke="#333" stroke-width="0.95"/>
<text x="777.6" y="98.8" font-family='"Liberation Sans", sans-serif' font-size="5" font-weight="bold" fill="#333" text-anchor="middle" stroke="#333" stroke-width="0.3">a</text>
<polyline points="784.0,95.0 785.7,99.6" fill="none" stroke="#333" stroke-width="0.95" stroke-linejoin="round" />
<text x="786.6" y="104.2" font-family='"Liberation Sans", sans-serif' font-size="6.5" font-weight="bold" fill="#333" text-anchor="middle" stroke="#333" stroke-width="0.3">O</text>
<polyline points="785.2,104.6 780.3,114.4" fill="none" stroke="#333" stroke-width="0.95" stroke-linejoin="round" />
<polyline points="780.3,114.4 769.9,114.4" fill="none" stroke="#333" stroke-width="0.95" stroke-linejoin="round" />
<polyline points="779.8,116.2 770.4,116.2" fill="none" stroke="#333" stroke-width="0.95" stroke-linejoin="round" />
<text x="766.9" y="116.7" font-family='"Liberation Sans", sans-serif' font-size="6.5" font-weight="bold" fill="#333" text-anchor="middle" stroke="#333" stroke-width="0.3">O</text>
<polyline points="780.3,114.4 786.6,126.6" fill="none" stroke="#333" stroke-width="0.95" stroke-linejoin="round" />
<path d="M687,127 q1,-1.6 2,0 q1,1.6 2,0 q1,-1.6 2,0 q1,1.6 2,0 q1,-1.6 2,0 q1,1.6 2,0 q1,-1.6 2,0 q1,1.6 2,0 q1,-1.6 2,0 q1,1.6 2,0 q1,-1.6 2,0 q1,1.6 2,0 q1,-1.6 2,0 q1,1.6 2,0 q1,-1.6 2,0 q1,1.6 2,0 q1,-1.6 2,0 q1,1.6 2,0 q1,-1.6 2,0 q1,1.6 2,0 q1,-1.6 2,0 q1,1.6 2,0 q1,-1.6 2,0 q1,1.6 2,0 q1,-1.6 2,0 q1,1.6 2,0 q1,-1.6 2,0 q1,1.6 2,0 q1,-1.6 2,0 q1,1.6 2,0 q1,-1.6 2,0 q1,1.6 2,0 q1,-1.6 2,0 q1,1.6 2,0 q1,-1.6 2,0 q1,1.6 2,0 q1,-1.6 2,0 q1,1.6 2,0 q1,-1.6 2,0 q1,1.6 2,0 q1,-1.6 2,0 q1,1.6 2,0 q1,-1.6 2,0 q1,1.6 2,0 q1,-1.6 2,0 q1,1.6 2,0 q1,-1.6 2,0 q1,1.6 2,0 q1,-1.6 2,0 q1,1.6 2,0 q1,-1.6 2,0 q1,1.6 2,0 q1,-1.6 2,0 q1,1.6 2,0 q1,-1.6 2,0 q1,1.6 2,0 q1,-1.6 2,0 q1,1.6 2,0 q1,-1.6 2,0 q1,1.6 2,0 q1,-1.6 2,0 q1,1.6 2,0 q1,-1.6 2,0 q1,1.6 2,0" fill="none" stroke="#333" stroke-width="0.8"/>
<defs><linearGradient id="sg" x1="0" y1="0" x2="1" y2="1"><stop offset="0" stop-color="#b6b6b6"/><stop offset="1" stop-color="#c6c6c6"/></linearGradient><linearGradient id="sd" x1="0" y1="0" x2="1" y2="1"><stop offset="0" stop-color="#c0c0c0"/><stop offset="0.5" stop-color="#cacaca"/><stop offset="1" stop-color="#bcbcbc"/></linearGradient></defs>
<rect x="843.1" y="36.4" width="75.6" height="70.9" fill="url(#sg)"/>
<ellipse cx="879" cy="63.7" rx="20.3" ry="25" fill="url(#sd)" stroke="#a2a2a2" stroke-width="0.7"/>
<path d="M895,48 C901,58 901,72 894,82" fill="none" stroke="#dcdcdc" stroke-width="0.8"/>
<text x="850.7" y="70.0" font-family='"Liberation Sans", sans-serif' font-size="19.5" font-weight="bold" fill="#1c1c1c" text-anchor="start" textLength="59.3" lengthAdjust="spacingAndGlyphs" stroke="#1c1c1c" stroke-width="0.3">SINANO</text>
<g stroke-linecap="round" fill="none">
<path d="M500.1,147.4 L505.2,145.2" stroke="#ee5555" stroke-width="2"/>
<path d="M505.2,145.2 C509,145.5 510,147.5 512.6,146.7 C515,146 516,144 518.4,144.1 C521,144.2 522,145.8 524.3,145.5" stroke="#8db4e2" stroke-width="1"/>
<path d="M524.3,145.5 L529.8,143.5" stroke="#ee5555" stroke-width="2"/>
<path d="M500.1,154 L504.1,151.8" stroke="#ee5555" stroke-width="2"/>
<path d="M504.1,151.8 C507,150.5 509,150.8 511,152.5 C513,154.5 516,154 519.2,152.6" stroke="#4caf50" stroke-width="1"/>
</g>
<circle cx="519.2" cy="152.6" r="1.3" fill="#222"/>
<ellipse cx="523.6" cy="154.8" rx="4" ry="2" fill="#1e9be0" transform="rotate(25 523.6 154.8)"/>
<ellipse cx="512.6" cy="159.9" rx="5" ry="2.6" fill="#1e9be0"/>
<circle cx="507" cy="159.9" r="1.3" fill="#223388"/>
<path d="M526.5,162.5 C531,157 541,157.5 543,170" fill="none" stroke="#555" stroke-width="0.9"/>
<path d="M541,168.5 L543.3,173 L544.8,168" fill="none" stroke="#555" stroke-width="0.9"/>
<path d="M531,181 L531,214 Q531,219 536,219.5 L551,219.5 Q556,219 556,214 L556,181" fill="#fff" stroke="#666" stroke-width="0.9"/>
<path d="M531.3,194.3 L555.7,194.3 L555.7,214 Q555.7,219 551,219.2 L536,219.2 Q531.3,219 531.3,214 Z" fill="#f2ee8c"/>
<ellipse cx="543" cy="179.8" rx="13" ry="2.6" fill="#fff" stroke="#555" stroke-width="1"/>
<path d="M530,180 L527.5,182.5" stroke="#555" stroke-width="0.9"/>
<rect x="537.5" y="207.5" width="1.3" height="1.1" fill="#3bb0c8"/>
<rect x="553.1" y="205.9" width="1.3" height="1.1" fill="#7cc070"/>
<rect x="533.5" y="195.3" width="1.3" height="1.1" fill="#f0a050"/>
<rect x="538.0" y="200.4" width="1.3" height="1.1" fill="#f0a050"/>
<rect x="544.4" y="207.6" width="1.3" height="1.1" fill="#f0a050"/>
<rect x="546.7" y="198.5" width="1.3" height="1.1" fill="#29a8d8"/>
<rect x="552.0" y="207.0" width="1.3" height="1.1" fill="#29a8d8"/>
<rect x="547.4" y="196.5" width="1.3" height="1.1" fill="#7cc070"/>
<rect x="533.0" y="212.9" width="1.3" height="1.1" fill="#3bb0c8"/>
<rect x="542.9" y="211.5" width="1.3" height="1.1" fill="#f0a050"/>
<rect x="548.4" y="216.2" width="1.3" height="1.1" fill="#f0a050"/>
<rect x="548.7" y="208.3" width="1.3" height="1.1" fill="#29a8d8"/>
<rect x="552.2" y="197.2" width="1.3" height="1.1" fill="#29a8d8"/>
<rect x="543.4" y="200.9" width="1.3" height="1.1" fill="#f0a050"/>
<rect x="549.9" y="214.7" width="1.3" height="1.1" fill="#f0a050"/>
<rect x="543.7" y="203.9" width="1.3" height="1.1" fill="#3bb0c8"/>
<rect x="544.3" y="204.4" width="1.3" height="1.1" fill="#29a8d8"/>
<rect x="552.8" y="210.7" width="1.3" height="1.1" fill="#29a8d8"/>
<rect x="551.7" y="217.8" width="1.3" height="1.1" fill="#29a8d8"/>
<rect x="548.1" y="202.5" width="1.3" height="1.1" fill="#7cc070"/>
<rect x="552.8" y="208.1" width="1.3" height="1.1" fill="#29a8d8"/>
<rect x="546.6" y="217.7" width="1.3" height="1.1" fill="#3bb0c8"/>
<rect x="538.6" y="196.5" width="1.3" height="1.1" fill="#f0a050"/>
<rect x="534.0" y="213.4" width="1.3" height="1.1" fill="#f0a050"/>
<rect x="552.6" y="195.5" width="1.3" height="1.1" fill="#f0a050"/>
<rect x="549.7" y="215.1" width="1.3" height="1.1" fill="#29a8d8"/>
<rect x="545.9" y="212.5" width="1.3" height="1.1" fill="#f0a050"/>
<rect x="548.5" y="202.6" width="1.3" height="1.1" fill="#3bb0c8"/>
<rect x="543.6" y="218.0" width="1.3" height="1.1" fill="#3bb0c8"/>
<rect x="532.2" y="197.5" width="1.3" height="1.1" fill="#7cc070"/>
<rect x="532.7" y="199.5" width="1.3" height="1.1" fill="#f0a050"/>
<rect x="538.7" y="201.1" width="1.3" height="1.1" fill="#29a8d8"/>
<rect x="554.5" y="202.8" width="1.3" height="1.1" fill="#3bb0c8"/>
<rect x="554.0" y="215.6" width="1.3" height="1.1" fill="#f0a050"/>
<rect x="540.7" y="215.0" width="1.3" height="1.1" fill="#f0a050"/>
<rect x="546.8" y="208.7" width="1.3" height="1.1" fill="#7cc070"/>
<rect x="534.4" y="217.4" width="1.3" height="1.1" fill="#7cc070"/>
<rect x="538.2" y="209.6" width="1.3" height="1.1" fill="#29a8d8"/>
<rect x="553.5" y="205.1" width="1.3" height="1.1" fill="#3bb0c8"/>
<rect x="544.0" y="207.6" width="1.3" height="1.1" fill="#29a8d8"/>
<rect x="550.1" y="217.7" width="1.3" height="1.1" fill="#3bb0c8"/>
<rect x="532.5" y="209.2" width="1.3" height="1.1" fill="#29a8d8"/>
<rect x="533.4" y="209.4" width="1.3" height="1.1" fill="#f0a050"/>
<rect x="540.1" y="216.1" width="1.3" height="1.1" fill="#7cc070"/>
<rect x="548.3" y="212.0" width="1.3" height="1.1" fill="#29a8d8"/>
<rect x="545.6" y="217.0" width="1.3" height="1.1" fill="#29a8d8"/>
<rect x="554.2" y="200.8" width="1.3" height="1.1" fill="#f0a050"/>
<rect x="538.9" y="208.8" width="1.3" height="1.1" fill="#29a8d8"/>
<rect x="540.4" y="202.2" width="1.3" height="1.1" fill="#3bb0c8"/>
<rect x="551.4" y="201.1" width="1.3" height="1.1" fill="#f0a050"/>
<rect x="534.4" y="213.7" width="1.3" height="1.1" fill="#7cc070"/>
<rect x="547.7" y="198.0" width="1.3" height="1.1" fill="#7cc070"/>
<rect x="537.1" y="213.5" width="1.3" height="1.1" fill="#29a8d8"/>
<rect x="539.5" y="210.6" width="1.3" height="1.1" fill="#29a8d8"/>
<rect x="534.3" y="202.4" width="1.3" height="1.1" fill="#3bb0c8"/>
<rect x="547.5" y="200.2" width="1.3" height="1.1" fill="#29a8d8"/>
<rect x="533.8" y="212.1" width="1.3" height="1.1" fill="#29a8d8"/>
<rect x="552.4" y="205.4" width="1.3" height="1.1" fill="#29a8d8"/>
<rect x="550.1" y="195.8" width="1.3" height="1.1" fill="#29a8d8"/>
<rect x="539.2" y="214.2" width="1.3" height="1.1" fill="#7cc070"/>
<rect x="536.2" y="201.4" width="1.3" height="1.1" fill="#29a8d8"/>
<rect x="550.5" y="202.9" width="1.3" height="1.1" fill="#29a8d8"/>
<rect x="541.7" y="206.9" width="1.3" height="1.1" fill="#3bb0c8"/>
<rect x="542.7" y="209.6" width="1.3" height="1.1" fill="#3bb0c8"/>
<rect x="541.7" y="204.4" width="1.3" height="1.1" fill="#f0a050"/>
<rect x="535.6" y="195.1" width="1.3" height="1.1" fill="#7cc070"/>
<rect x="554.7" y="205.0" width="1.3" height="1.1" fill="#29a8d8"/>
<rect x="532.7" y="205.5" width="1.3" height="1.1" fill="#7cc070"/>
<rect x="554.2" y="207.5" width="1.3" height="1.1" fill="#29a8d8"/>
<rect x="551.8" y="214.7" width="1.3" height="1.1" fill="#3bb0c8"/>
<text x="558.0" y="193.5" font-family='"Liberation Sans", sans-serif' font-size="9" font-weight="bold" fill="#222" text-anchor="start" textLength="37.0" lengthAdjust="spacingAndGlyphs" stroke="#222" stroke-width="0.3">IRGACURE</text>
<rect x="562.6" y="195.3" width="16.6" height="1.8" fill="#c99a2e"/>
<text x="565.0" y="206.7" font-family='"Liberation Sans", sans-serif' font-size="9" font-weight="bold" fill="#222" text-anchor="start" textLength="11.3" lengthAdjust="spacingAndGlyphs" stroke="#222" stroke-width="0.3">819</text>
<polygon points="583.2,197.1 627.8,197.1 625.9,211.1 580.7,211.1" fill="#fff" stroke="#5b8c3a" stroke-width="1.6"/>
<polygon points="589.5,198.6 618.5,198.6 617,209.6 588,209.6" fill="#ebe49a"/>
<clipPath id="liqclip"><polygon points="600,166.5 650,161.5 650,200 600,200"/></clipPath>
<g transform="rotate(-42 625 165)">
<path d="M611,149.5 L612,178 Q612,183.5 617.5,183.8 L633.5,183.8 Q639,183.5 639,178 L640,149.5" fill="#fff" stroke="#666" stroke-width="0.9"/>
</g>
<g clip-path="url(#liqclip)"><g transform="rotate(-42 625 165)">
<path d="M611.5,149.5 L612.5,178 Q612.5,183.2 617.5,183.4 L633.5,183.4 Q638.5,183.2 638.5,178 L639.5,149.5 Z" fill="#f0ec88"/>
</g></g>
<g transform="rotate(-42 625 165)">
<ellipse cx="625.5" cy="149.5" rx="14.5" ry="2.9" fill="none" stroke="#555" stroke-width="1"/>
<path d="M610.5,150 L608.5,152.5" stroke="#555" stroke-width="0.9"/>
</g>
<rect x="644.2" y="170.9" width="1.3" height="1.1" fill="#29a8d8"/>
<rect x="633.1" y="174.4" width="1.3" height="1.1" fill="#f0a050"/>
<rect x="628.5" y="169.8" width="1.3" height="1.1" fill="#3bb0c8"/>
<rect x="635.6" y="174.1" width="1.3" height="1.1" fill="#f0a050"/>
<rect x="615.8" y="166.6" width="1.3" height="1.1" fill="#3bb0c8"/>
<rect x="619.3" y="169.4" width="1.3" height="1.1" fill="#3bb0c8"/>
<rect x="627.8" y="181.5" width="1.3" height="1.1" fill="#f0a050"/>
<rect x="632.5" y="175.0" width="1.3" height="1.1" fill="#29a8d8"/>
<rect x="631.1" y="171.0" width="1.3" height="1.1" fill="#3bb0c8"/>
<rect x="631.4" y="183.1" width="1.3" height="1.1" fill="#3bb0c8"/>
<rect x="626.8" y="180.7" width="1.3" height="1.1" fill="#29a8d8"/>
<rect x="640.2" y="163.3" width="1.3" height="1.1" fill="#29a8d8"/>
<rect x="639.5" y="164.7" width="1.3" height="1.1" fill="#f0a050"/>
<rect x="626.5" y="168.9" width="1.3" height="1.1" fill="#29a8d8"/>
<rect x="636.7" y="175.9" width="1.3" height="1.1" fill="#29a8d8"/>
<rect x="619.4" y="174.5" width="1.3" height="1.1" fill="#7cc070"/>
<rect x="629.0" y="184.6" width="1.3" height="1.1" fill="#29a8d8"/>
<rect x="627.7" y="175.4" width="1.3" height="1.1" fill="#7cc070"/>
<rect x="628.4" y="176.5" width="1.3" height="1.1" fill="#7cc070"/>
<rect x="624.2" y="180.8" width="1.3" height="1.1" fill="#f0a050"/>
<rect x="626.9" y="183.8" width="1.3" height="1.1" fill="#f0a050"/>
<rect x="629.8" y="176.6" width="1.3" height="1.1" fill="#3bb0c8"/>
<rect x="643.2" y="170.5" width="1.3" height="1.1" fill="#f0a050"/>
<rect x="631.1" y="180.0" width="1.3" height="1.1" fill="#29a8d8"/>
<rect x="643.3" y="166.6" width="1.3" height="1.1" fill="#f0a050"/>
<rect x="616.6" y="169.0" width="1.3" height="1.1" fill="#29a8d8"/>
<rect x="624.7" y="168.0" width="1.3" height="1.1" fill="#3bb0c8"/>
<rect x="633.9" y="176.0" width="1.3" height="1.1" fill="#29a8d8"/>
<rect x="632.3" y="182.0" width="1.3" height="1.1" fill="#29a8d8"/>
<rect x="629.9" y="175.5" width="1.3" height="1.1" fill="#29a8d8"/>
<rect x="622.9" y="166.6" width="1.3" height="1.1" fill="#29a8d8"/>
<rect x="628.8" y="169.5" width="1.3" height="1.1" fill="#29a8d8"/>
<rect x="613.3" y="169.2" width="1.3" height="1.1" fill="#29a8d8"/>
<rect x="617.7" y="167.3" width="1.3" height="1.1" fill="#f0a050"/>
<rect x="629.5" y="180.2" width="1.3" height="1.1" fill="#7cc070"/>
<rect x="626.4" y="176.0" width="1.3" height="1.1" fill="#29a8d8"/>
<rect x="643.4" y="168.7" width="1.3" height="1.1" fill="#3bb0c8"/>
<rect x="619.2" y="175.4" width="1.3" height="1.1" fill="#7cc070"/>
<rect x="626.5" y="181.2" width="1.3" height="1.1" fill="#f0a050"/>
<rect x="637.8" y="163.7" width="1.3" height="1.1" fill="#29a8d8"/>
<rect x="626.2" y="172.0" width="1.3" height="1.1" fill="#29a8d8"/>
<rect x="639.1" y="162.8" width="1.3" height="1.1" fill="#7cc070"/>
<rect x="630.9" y="173.7" width="1.3" height="1.1" fill="#f0a050"/>
<rect x="637.0" y="167.7" width="1.3" height="1.1" fill="#29a8d8"/>
<rect x="624.9" y="180.9" width="1.3" height="1.1" fill="#7cc070"/>
<rect x="622.9" y="180.6" width="1.3" height="1.1" fill="#f0a050"/>
<rect x="636.0" y="168.6" width="1.3" height="1.1" fill="#3bb0c8"/>
<rect x="622.4" y="168.4" width="1.3" height="1.1" fill="#f0a050"/>
<rect x="631.5" y="167.8" width="1.3" height="1.1" fill="#29a8d8"/>
<rect x="625.5" y="167.3" width="1.3" height="1.1" fill="#f0a050"/>
<rect x="617.0" y="172.7" width="1.3" height="1.1" fill="#3bb0c8"/>
<rect x="639.0" y="172.8" width="1.3" height="1.1" fill="#3bb0c8"/>
<rect x="641.0" y="173.8" width="1.3" height="1.1" fill="#7cc070"/>
<rect x="634.6" y="179.4" width="1.3" height="1.1" fill="#3bb0c8"/>
<rect x="643.6" y="171.6" width="1.3" height="1.1" fill="#3bb0c8"/>
<rect x="615.6" y="171.7" width="1.3" height="1.1" fill="#29a8d8"/>
<rect x="630.2" y="184.2" width="1.3" height="1.1" fill="#7cc070"/>
<rect x="639.1" y="172.3" width="1.3" height="1.1" fill="#7cc070"/>
<rect x="643.6" y="167.8" width="1.3" height="1.1" fill="#7cc070"/>
<rect x="622.2" y="169.0" width="1.3" height="1.1" fill="#29a8d8"/>
<rect x="627.0" y="172.2" width="1.3" height="1.1" fill="#29a8d8"/>
<rect x="634.3" y="168.5" width="1.3" height="1.1" fill="#29a8d8"/>
<rect x="616.8" y="170.9" width="1.3" height="1.1" fill="#29a8d8"/>
<rect x="612.5" y="167.0" width="1.3" height="1.1" fill="#29a8d8"/>
<circle cx="602.1" cy="178.1" r="1.1" fill="#f5e27a"/><circle cx="602.1" cy="185.5" r="1.1" fill="#f5e27a"/>
<text x="643.4" y="191.0" font-family='"Liberation Sans", sans-serif' font-size="9" font-weight="bold" fill="#222" text-anchor="start" textLength="9.6" lengthAdjust="spacingAndGlyphs" stroke="#222" stroke-width="0.3">UV</text>
<rect x="641.2" y="195.8" width="15.6" height="1.8" fill="#c99a2e"/>
<text x="628.2" y="206.3" font-family='"Liberation Sans", sans-serif' font-size="9" font-weight="normal" fill="#222" text-anchor="start" textLength="34.8" lengthAdjust="spacingAndGlyphs" stroke="#222" stroke-width="0.3">irradiation</text>
<polygon points="665.7,197.1 709.5,197.1 707,211.1 662.7,211.1" fill="#fff" stroke="#5b8c3a" stroke-width="1.6"/>
<polygon points="672,198.6 700,198.6 698.5,209.6 670.5,209.6" fill="#ebe49a"/>
<rect x="680.3" y="162.8" width="10.2" height="5" fill="#8c8c8c"/>
<ellipse cx="685.4" cy="162.8" rx="5.1" ry="1.3" fill="#b0b0b0" stroke="#777" stroke-width="0.4"/>
<path d="M680.3,167 L690.5,167 C694,169.5 699,172 701.6,175.8 Q685.7,180 669.8,175.8 C672.4,172 677,169.5 680.3,167 Z" fill="#8a8a8a"/>
<path d="M669.8,175.8 Q685.7,180 701.6,175.8" fill="none" stroke="#6a6a6a" stroke-width="0.7"/>
<line x1="673.4" y1="180.6" x2="673.4" y2="189.5" stroke="#7030a0" stroke-width="1.2"/>
<polygon points="671.7,188.6 675.1,188.6 673.4,192.2" fill="#7030a0"/>
<line x1="677.3" y1="180.6" x2="677.3" y2="189.5" stroke="#7030a0" stroke-width="1.2"/>
<polygon points="675.6,188.6 679.0,188.6 677.3,192.2" fill="#7030a0"/>
<line x1="681.2" y1="180.6" x2="681.2" y2="189.5" stroke="#7030a0" stroke-width="1.2"/>
<polygon points="679.5,188.6 682.9,188.6 681.2,192.2" fill="#7030a0"/>
<line x1="685.1" y1="180.6" x2="685.1" y2="189.5" stroke="#7030a0" stroke-width="1.2"/>
<polygon points="683.4,188.6 686.8,188.6 685.1,192.2" fill="#7030a0"/>
<line x1="689.0" y1="180.6" x2="689.0" y2="189.5" stroke="#7030a0" stroke-width="1.2"/>
<polygon points="687.3,188.6 690.7,188.6 689.0,192.2" fill="#7030a0"/>
<line x1="692.9" y1="180.6" x2="692.9" y2="189.5" stroke="#7030a0" stroke-width="1.2"/>
<polygon points="691.2,188.6 694.6,188.6 692.9,192.2" fill="#7030a0"/>
<line x1="696.8" y1="180.6" x2="696.8" y2="189.5" stroke="#7030a0" stroke-width="1.2"/>
<polygon points="695.1,188.6 698.5,188.6 696.8,192.2" fill="#7030a0"/>
<line x1="700.7" y1="180.6" x2="700.7" y2="189.5" stroke="#7030a0" stroke-width="1.2"/>
<polygon points="699.0,188.6 702.4,188.6 700.7,192.2" fill="#7030a0"/>
<line x1="701.4" y1="194.7" x2="723.5" y2="182.7" stroke="#f8d462" stroke-width="1.5"/>
<line x1="705.5" y1="212.6" x2="720.7" y2="220.9" stroke="#f8d462" stroke-width="1.5"/>
<polygon points="749,174 817.3,174 795.2,198.1 726.9,198.1" fill="#f6efa6"/>
<polygon points="726.9,198.1 795.2,198.1 795.2,225 726.9,225" fill="#f4eb9e"/>
<polygon points="795.2,198.1 817.3,174 817.3,199.5 795.2,225" fill="#ebe293"/>
<clipPath id="boxclip"><polygon points="749,174 817.3,174 817.3,199.5 795.2,225 726.9,225 726.9,198.1"/></clipPath>
<g clip-path="url(#boxclip)">
<polyline points="826.6,205.1 822.4,211.4 812.8,210.8 807.6,207.1 807.4,200.7 813.2,198.1 821.2,200.6 826.1,205.6" fill="none" stroke="#eeb060" stroke-width="0.6"/>
<polyline points="780.8,206.9 778.8,209.5 772.4,210.8 769.9,208.3 768.8,205.1 772.6,203.3 779.8,203.4 782.5,207.4" fill="none" stroke="#eeb060" stroke-width="0.6"/>
<polyline points="813.9,191.8 811.3,195.6 805.5,197.1 800.8,194.3 800.3,189.3 804.9,188.4 810.9,189.7 814.0,191.5" fill="none" stroke="#eeb060" stroke-width="0.6"/>
<polyline points="783.6,180.4 781.3,184.7 773.6,185.6 771.5,183.1 769.9,179.9 774.7,177.7 779.8,178.3 782.2,180.7" fill="none" stroke="#eeb060" stroke-width="0.6"/>
<polyline points="807.4,193.8 804.9,198.6 797.0,199.4 794.7,196.6 793.1,191.9 798.3,189.5 804.6,191.3 806.2,194.1" fill="none" stroke="#eeb060" stroke-width="0.6"/>
<polyline points="796.6,220.4 791.3,226.5 783.3,226.2 778.0,222.7 775.7,218.3 785.6,214.1 791.5,215.8 797.1,220.3" fill="none" stroke="#eeb060" stroke-width="0.6"/>
<polyline points="775.9,223.5 774.0,227.6 765.8,228.6 763.4,225.2 762.3,221.7 767.3,219.9 774.4,220.1 776.2,223.1" fill="none" stroke="#eeb060" stroke-width="0.6"/>
<polyline points="771.8,201.0 769.8,204.8 760.5,205.6 752.6,201.6 750.4,197.3 761.0,194.1 766.8,195.3 770.3,199.0" fill="none" stroke="#eeb060" stroke-width="0.6"/>
<polyline points="822.3,175.8 821.2,180.2 813.5,180.8 810.6,177.4 808.0,174.4 813.6,172.5 820.4,173.0 822.3,176.3" fill="none" stroke="#eeb060" stroke-width="0.6"/>
<polyline points="755.3,224.3 752.7,227.8 747.5,227.3 742.9,226.5 743.4,222.5 748.5,218.7 753.2,219.2 756.0,223.8" fill="none" stroke="#eeb060" stroke-width="0.6"/>
<polyline points="746.4,192.6 744.0,196.8 735.6,200.4 730.2,196.3 727.6,188.6 737.3,187.3 744.7,186.9 748.8,193.0" fill="none" stroke="#eeb060" stroke-width="0.6"/>
<polyline points="764.9,173.7 760.8,177.0 754.4,177.7 748.1,175.5 748.5,171.5 755.7,167.7 761.0,168.3 762.9,173.7" fill="none" stroke="#eeb060" stroke-width="0.6"/>
<polyline points="758.3,183.7 754.8,185.9 751.7,187.7 744.3,184.5 746.1,180.8 751.3,179.5 756.1,179.8 758.8,182.3" fill="none" stroke="#eeb060" stroke-width="0.6"/>
<polyline points="764.6,199.0 762.7,204.1 753.5,204.5 750.2,200.7 751.3,196.7 754.2,194.8 762.3,196.0 764.3,199.6" fill="none" stroke="#eeb060" stroke-width="0.6"/>
<polyline points="824.6,196.5 818.9,201.1 813.3,201.7 808.4,199.4 807.3,193.3 811.3,191.0 820.9,191.5 822.4,196.2" fill="none" stroke="#eeb060" stroke-width="0.6"/>
<polyline points="786.2,220.5 782.4,223.2 775.6,224.4 769.8,222.3 770.4,216.8 774.8,215.6 782.4,215.4 784.1,219.1" fill="none" stroke="#eeb060" stroke-width="0.6"/>
<polyline points="764.6,187.4 761.3,190.8 754.2,191.6 750.7,188.4 752.0,185.6 756.4,183.4 761.6,183.6 762.6,187.0" fill="none" stroke="#eeb060" stroke-width="0.6"/>
<polyline points="808.4,203.6 808.0,207.4 801.5,208.1 796.1,206.3 795.6,202.5 801.1,200.3 806.1,200.0 807.8,204.6" fill="none" stroke="#eeb060" stroke-width="0.6"/>
<polyline points="776.0,211.8 774.1,217.5 763.4,219.4 759.0,215.7 757.2,209.3 764.4,206.9 773.1,206.8 779.7,211.3" fill="none" stroke="#eeb060" stroke-width="0.6"/>
<polyline points="781.8,202.5 778.6,206.7 774.0,208.0 768.7,204.6 769.2,201.7 774.8,199.4 779.7,199.6 782.7,202.7" fill="none" stroke="#eeb060" stroke-width="0.6"/>
<polyline points="817.6,217.7 815.5,222.4 808.8,224.9 800.9,221.8 803.4,215.4 809.4,212.8 814.2,214.0 819.1,217.2" fill="none" stroke="#eeb060" stroke-width="0.6"/>
<polyline points="771.8,217.0 768.2,221.9 761.5,223.4 754.1,220.0 754.3,216.4 760.1,212.0 768.3,212.5 772.9,217.2" fill="none" stroke="#eeb060" stroke-width="0.6"/>
<polyline points="792.4,181.2 788.7,186.4 781.3,186.2 772.7,183.7 774.1,178.9 779.4,175.1 788.5,177.7 794.0,182.4" fill="none" stroke="#eeb060" stroke-width="0.6"/>
<polyline points="768.2,225.0 765.3,229.9 757.3,230.0 750.5,228.3 751.4,223.5 758.5,220.7 764.5,221.6 766.5,226.3" fill="none" stroke="#eeb060" stroke-width="0.6"/>
<polyline points="746.4,212.6 740.8,217.8 732.4,218.6 729.0,214.8 727.4,211.7 735.4,208.1 741.9,208.8 745.7,212.5" fill="none" stroke="#eeb060" stroke-width="0.6"/>
<polyline points="785.1,192.9 781.9,195.9 777.5,196.5 772.3,194.9 773.2,191.8 777.2,189.2 782.4,189.9 785.6,192.1" fill="none" stroke="#eeb060" stroke-width="0.6"/>
<path d="M811.1,218.9 q2,-1.5 4,0 t4,0" transform="rotate(93 811.1 218.9)" fill="none" stroke="#86c06a" stroke-width="0.5"/>
<path d="M763.8,175.6 q2,-1.5 4,0 t4,0" transform="rotate(50 763.8 175.6)" fill="none" stroke="#86c06a" stroke-width="0.5"/>
<path d="M756.3,222.8 q2,-1.5 4,0 t4,0" transform="rotate(21 756.3 222.8)" fill="none" stroke="#86c06a" stroke-width="0.5"/>
<path d="M813.3,197.7 q2,-1.5 4,0 t4,0" transform="rotate(78 813.3 197.7)" fill="none" stroke="#86c06a" stroke-width="0.5"/>
<path d="M751.6,224.0 q2,-1.5 4,0 t4,0" transform="rotate(33 751.6 224.0)" fill="none" stroke="#86c06a" stroke-width="0.5"/>
<path d="M779.4,199.6 q2,-1.5 4,0 t4,0" transform="rotate(36 779.4 199.6)" fill="none" stroke="#86c06a" stroke-width="0.5"/>
<path d="M748.1,225.2 q2,-1.5 4,0 t4,0" transform="rotate(142 748.1 225.2)" fill="none" stroke="#86c06a" stroke-width="0.5"/>
<path d="M794.0,220.8 q2,-1.5 4,0 t4,0" transform="rotate(18 794.0 220.8)" fill="none" stroke="#86c06a" stroke-width="0.5"/>
<path d="M791.3,212.5 q2,-1.5 4,0 t4,0" transform="rotate(41 791.3 212.5)" fill="none" stroke="#86c06a" stroke-width="0.5"/>
<path d="M769.1,224.6 q2,-1.5 4,0 t4,0" transform="rotate(59 769.1 224.6)" fill="none" stroke="#86c06a" stroke-width="0.5"/>
<path d="M796.6,180.9 q2,-1.5 4,0 t4,0" transform="rotate(120 796.6 180.9)" fill="none" stroke="#86c06a" stroke-width="0.5"/>
<path d="M752.3,199.5 q2,-1.5 4,0 t4,0" transform="rotate(67 752.3 199.5)" fill="none" stroke="#86c06a" stroke-width="0.5"/>
<path d="M806.3,212.2 q2,-1.5 4,0 t4,0" transform="rotate(91 806.3 212.2)" fill="none" stroke="#86c06a" stroke-width="0.5"/>
<path d="M789.9,195.1 q2,-1.5 4,0 t4,0" transform="rotate(145 789.9 195.1)" fill="none" stroke="#86c06a" stroke-width="0.5"/>
<path d="M751.2,201.4 q2,-1.5 4,0 t4,0" transform="rotate(105 751.2 201.4)" fill="none" stroke="#86c06a" stroke-width="0.5"/>
<path d="M762.9,174.5 q2,-1.5 4,0 t4,0" transform="rotate(31 762.9 174.5)" fill="none" stroke="#86c06a" stroke-width="0.5"/>
<path d="M785.6,183.4 q2,-1.5 4,0 t4,0" transform="rotate(136 785.6 183.4)" fill="none" stroke="#86c06a" stroke-width="0.5"/>
<path d="M773.4,223.5 q2,-1.5 4,0 t4,0" transform="rotate(153 773.4 223.5)" fill="none" stroke="#86c06a" stroke-width="0.5"/>
<path d="M793.5,192.1 q2,-1.5 4,0 t4,0" transform="rotate(8 793.5 192.1)" fill="none" stroke="#86c06a" stroke-width="0.5"/>
<path d="M778.1,212.3 q2,-1.5 4,0 t4,0" transform="rotate(166 778.1 212.3)" fill="none" stroke="#86c06a" stroke-width="0.5"/>
<path d="M746.2,180.6 q2,-1.5 4,0 t4,0" transform="rotate(176 746.2 180.6)" fill="none" stroke="#86c06a" stroke-width="0.5"/>
<path d="M794.6,198.2 q2,-1.5 4,0 t4,0" transform="rotate(133 794.6 198.2)" fill="none" stroke="#86c06a" stroke-width="0.5"/>
<path d="M741.4,201.4 q2,-1.5 4,0 t4,0" transform="rotate(120 741.4 201.4)" fill="none" stroke="#86c06a" stroke-width="0.5"/>
<path d="M782.3,180.7 q2,-1.5 4,0 t4,0" transform="rotate(25 782.3 180.7)" fill="none" stroke="#86c06a" stroke-width="0.5"/>
<path d="M784.2,219.8 q2,-1.5 4,0 t4,0" transform="rotate(25 784.2 219.8)" fill="none" stroke="#86c06a" stroke-width="0.5"/>
<path d="M728.6,176.5 q2,-1.5 4,0 t4,0" transform="rotate(141 728.6 176.5)" fill="none" stroke="#86c06a" stroke-width="0.5"/>
<path d="M763.2,196.6 q2,-1.5 4,0 t4,0" transform="rotate(179 763.2 196.6)" fill="none" stroke="#86c06a" stroke-width="0.5"/>
<path d="M783.0,186.2 q2,-1.5 4,0 t4,0" transform="rotate(126 783.0 186.2)" fill="none" stroke="#86c06a" stroke-width="0.5"/>
<path d="M728.2,187.2 q2,-1.5 4,0 t4,0" transform="rotate(126 728.2 187.2)" fill="none" stroke="#86c06a" stroke-width="0.5"/>
<path d="M743.4,173.8 q2,-1.5 4,0 t4,0" transform="rotate(93 743.4 173.8)" fill="none" stroke="#86c06a" stroke-width="0.5"/>
<path d="M757.5,224.4 q2,-1.5 4,0 t4,0" transform="rotate(18 757.5 224.4)" fill="none" stroke="#86c06a" stroke-width="0.5"/>
<path d="M800.2,193.0 q2,-1.5 4,0 t4,0" transform="rotate(145 800.2 193.0)" fill="none" stroke="#86c06a" stroke-width="0.5"/>
<path d="M768.1,208.0 q2,-1.5 4,0 t4,0" transform="rotate(59 768.1 208.0)" fill="none" stroke="#86c06a" stroke-width="0.5"/>
<path d="M748.2,196.4 q2,-1.5 4,0 t4,0" transform="rotate(144 748.2 196.4)" fill="none" stroke="#86c06a" stroke-width="0.5"/>
<path d="M759.1,184.4 q2,-1.5 4,0 t4,0" transform="rotate(75 759.1 184.4)" fill="none" stroke="#86c06a" stroke-width="0.5"/>
<path d="M736.6,189.0 q2,-1.5 4,0 t4,0" transform="rotate(103 736.6 189.0)" fill="none" stroke="#86c06a" stroke-width="0.5"/>
<path d="M777.1,204.3 q2,-1.5 4,0 t4,0" transform="rotate(52 777.1 204.3)" fill="none" stroke="#86c06a" stroke-width="0.5"/>
<path d="M730.2,173.4 q2,-1.5 4,0 t4,0" transform="rotate(61 730.2 173.4)" fill="none" stroke="#86c06a" stroke-width="0.5"/>
<path d="M745.7,202.7 q2,-1.5 4,0 t4,0" transform="rotate(48 745.7 202.7)" fill="none" stroke="#86c06a" stroke-width="0.5"/>
<path d="M796.6,204.5 q2,-1.5 4,0 t4,0" transform="rotate(119 796.6 204.5)" fill="none" stroke="#86c06a" stroke-width="0.5"/>
<path d="M794.2,200.2 q2,-1.5 4,0 t4,0" transform="rotate(77 794.2 200.2)" fill="none" stroke="#86c06a" stroke-width="0.5"/>
<path d="M755.8,175.4 q2,-1.5 4,0 t4,0" transform="rotate(143 755.8 175.4)" fill="none" stroke="#86c06a" stroke-width="0.5"/>
<path d="M773.0,177.4 q2,-1.5 4,0 t4,0" transform="rotate(167 773.0 177.4)" fill="none" stroke="#86c06a" stroke-width="0.5"/>
<path d="M780.4,205.7 q2,-1.5 4,0 t4,0" transform="rotate(79 780.4 205.7)" fill="none" stroke="#86c06a" stroke-width="0.5"/>
<path d="M739.4,226.0 q2,-1.5 4,0 t4,0" transform="rotate(30 739.4 226.0)" fill="none" stroke="#86c06a" stroke-width="0.5"/>
<path d="M761.0,226.0 q2,-1.5 4,0 t4,0" transform="rotate(22 761.0 226.0)" fill="none" stroke="#86c06a" stroke-width="0.5"/>
<path d="M773.0,197.9 q2,-1.5 4,0 t4,0" transform="rotate(45 773.0 197.9)" fill="none" stroke="#86c06a" stroke-width="0.5"/>
<path d="M811.2,194.4 q2,-1.5 4,0 t4,0" transform="rotate(2 811.2 194.4)" fill="none" stroke="#86c06a" stroke-width="0.5"/>
<path d="M770.6,172.3 q2,-1.5 4,0 t4,0" transform="rotate(128 770.6 172.3)" fill="none" stroke="#86c06a" stroke-width="0.5"/>
<path d="M806.2,220.9 q2,-1.5 4,0 t4,0" transform="rotate(9 806.2 220.9)" fill="none" stroke="#86c06a" stroke-width="0.5"/>
<path d="M788.8,188.5 q2,-1.5 4,0 t4,0" transform="rotate(85 788.8 188.5)" fill="none" stroke="#86c06a" stroke-width="0.5"/>
<path d="M755.0,188.5 q2,-1.5 4,0 t4,0" transform="rotate(24 755.0 188.5)" fill="none" stroke="#86c06a" stroke-width="0.5"/>
<path d="M784.3,176.8 q2,-1.5 4,0 t4,0" transform="rotate(174 784.3 176.8)" fill="none" stroke="#86c06a" stroke-width="0.5"/>
<path d="M731.9,224.1 q2,-1.5 4,0 t4,0" transform="rotate(34 731.9 224.1)" fill="none" stroke="#86c06a" stroke-width="0.5"/>
<path d="M735.5,212.2 q2,-1.5 4,0 t4,0" transform="rotate(96 735.5 212.2)" fill="none" stroke="#86c06a" stroke-width="0.5"/>
<path d="M797.2,199.5 q2,-1.5 4,0 t4,0" transform="rotate(113 797.2 199.5)" fill="none" stroke="#86c06a" stroke-width="0.5"/>
<path d="M735.4,208.4 q2,-1.5 4,0 t4,0" transform="rotate(92 735.4 208.4)" fill="none" stroke="#86c06a" stroke-width="0.5"/>
<path d="M814.6,172.3 q2,-1.5 4,0 t4,0" transform="rotate(12 814.6 172.3)" fill="none" stroke="#86c06a" stroke-width="0.5"/>
<path d="M788.9,222.0 q2,-1.5 4,0 t4,0" transform="rotate(76 788.9 222.0)" fill="none" stroke="#86c06a" stroke-width="0.5"/>
<path d="M792.0,202.3 q2,-1.5 4,0 t4,0" transform="rotate(70 792.0 202.3)" fill="none" stroke="#86c06a" stroke-width="0.5"/>
<ellipse cx="769.4" cy="204.9" rx="1.5" ry="0.75" fill="#1e9fe0" transform="rotate(-25 769.4 204.9)"/>
<ellipse cx="770.8" cy="206.7" rx="1.5" ry="0.75" fill="#38b6e8" transform="rotate(35 770.8 206.7)"/>
<ellipse cx="745.7" cy="178.2" rx="1.5" ry="0.75" fill="#1e9fe0" transform="rotate(34 745.7 178.2)"/>
<ellipse cx="814.1" cy="198.3" rx="1.5" ry="0.75" fill="#1e9fe0" transform="rotate(31 814.1 198.3)"/>
<ellipse cx="781.6" cy="208.2" rx="1.5" ry="0.75" fill="#2a6fb0" transform="rotate(-63 781.6 208.2)"/>
<ellipse cx="763.6" cy="193.4" rx="1.5" ry="0.75" fill="#1e9fe0" transform="rotate(-56 763.6 193.4)"/>
<ellipse cx="743.3" cy="199.6" rx="1.5" ry="0.75" fill="#1e9fe0" transform="rotate(-10 743.3 199.6)"/>
<ellipse cx="765.4" cy="203.6" rx="1.5" ry="0.75" fill="#38b6e8" transform="rotate(-10 765.4 203.6)"/>
<ellipse cx="730.6" cy="211.8" rx="1.5" ry="0.75" fill="#38b6e8" transform="rotate(-19 730.6 211.8)"/>
<ellipse cx="793.0" cy="187.4" rx="1.5" ry="0.75" fill="#1e9fe0" transform="rotate(-51 793.0 187.4)"/>
<ellipse cx="807.0" cy="213.6" rx="1.5" ry="0.75" fill="#1e9fe0" transform="rotate(20 807.0 213.6)"/>
<ellipse cx="793.2" cy="178.5" rx="1.5" ry="0.75" fill="#38b6e8" transform="rotate(-3 793.2 178.5)"/>
<ellipse cx="761.4" cy="199.7" rx="1.5" ry="0.75" fill="#38b6e8" transform="rotate(16 761.4 199.7)"/>
<ellipse cx="770.2" cy="176.1" rx="1.5" ry="0.75" fill="#2a6fb0" transform="rotate(30 770.2 176.1)"/>
<ellipse cx="810.3" cy="183.3" rx="1.5" ry="0.75" fill="#1e9fe0" transform="rotate(67 810.3 183.3)"/>
<ellipse cx="739.5" cy="214.2" rx="1.5" ry="0.75" fill="#1e9fe0" transform="rotate(-53 739.5 214.2)"/>
<ellipse cx="781.1" cy="223.2" rx="1.5" ry="0.75" fill="#1e9fe0" transform="rotate(7 781.1 223.2)"/>
<ellipse cx="738.7" cy="195.4" rx="1.5" ry="0.75" fill="#1e9fe0" transform="rotate(-48 738.7 195.4)"/>
<ellipse cx="789.8" cy="206.2" rx="1.5" ry="0.75" fill="#38b6e8" transform="rotate(-26 789.8 206.2)"/>
<ellipse cx="767.3" cy="222.2" rx="1.5" ry="0.75" fill="#1e9fe0" transform="rotate(7 767.3 222.2)"/>
<ellipse cx="780.8" cy="191.2" rx="1.5" ry="0.75" fill="#2a6fb0" transform="rotate(-16 780.8 191.2)"/>
<ellipse cx="815.8" cy="187.9" rx="1.5" ry="0.75" fill="#1e9fe0" transform="rotate(-41 815.8 187.9)"/>
<ellipse cx="762.4" cy="218.3" rx="1.5" ry="0.75" fill="#1e9fe0" transform="rotate(-38 762.4 218.3)"/>
<ellipse cx="809.0" cy="190.7" rx="1.5" ry="0.75" fill="#1e9fe0" transform="rotate(38 809.0 190.7)"/>
<ellipse cx="802.8" cy="184.0" rx="1.5" ry="0.75" fill="#38b6e8" transform="rotate(-70 802.8 184.0)"/>
<ellipse cx="785.6" cy="216.3" rx="1.5" ry="0.75" fill="#1e9fe0" transform="rotate(61 785.6 216.3)"/>
<ellipse cx="795.5" cy="216.4" rx="1.5" ry="0.75" fill="#1e9fe0" transform="rotate(41 795.5 216.4)"/>
<ellipse cx="758.3" cy="188.4" rx="1.5" ry="0.75" fill="#1e9fe0" transform="rotate(66 758.3 188.4)"/>
<ellipse cx="809.4" cy="221.5" rx="1.5" ry="0.75" fill="#2a6fb0" transform="rotate(39 809.4 221.5)"/>
<ellipse cx="768.3" cy="186.3" rx="1.5" ry="0.75" fill="#2a6fb0" transform="rotate(57 768.3 186.3)"/>
<ellipse cx="751.2" cy="188.3" rx="1.5" ry="0.75" fill="#2a6fb0" transform="rotate(-42 751.2 188.3)"/>
<ellipse cx="811.0" cy="189.5" rx="1.5" ry="0.75" fill="#1e9fe0" transform="rotate(-55 811.0 189.5)"/>
<ellipse cx="808.8" cy="194.1" rx="1.5" ry="0.75" fill="#1e9fe0" transform="rotate(41 808.8 194.1)"/>
<ellipse cx="797.9" cy="185.6" rx="1.5" ry="0.75" fill="#1e9fe0" transform="rotate(15 797.9 185.6)"/>
<ellipse cx="738.1" cy="182.2" rx="1.5" ry="0.75" fill="#1e9fe0" transform="rotate(-22 738.1 182.2)"/>
<ellipse cx="742.4" cy="190.4" rx="1.5" ry="0.75" fill="#1e9fe0" transform="rotate(39 742.4 190.4)"/>
<ellipse cx="782.3" cy="176.6" rx="1.5" ry="0.75" fill="#1e9fe0" transform="rotate(8 782.3 176.6)"/>
<ellipse cx="728.8" cy="196.4" rx="1.5" ry="0.75" fill="#38b6e8" transform="rotate(70 728.8 196.4)"/>
<ellipse cx="742.3" cy="173.0" rx="1.5" ry="0.75" fill="#1e9fe0" transform="rotate(-18 742.3 173.0)"/>
<ellipse cx="804.7" cy="187.7" rx="1.5" ry="0.75" fill="#2a6fb0" transform="rotate(-42 804.7 187.7)"/>
<ellipse cx="768.9" cy="198.1" rx="1.5" ry="0.75" fill="#1e9fe0" transform="rotate(32 768.9 198.1)"/>
<ellipse cx="812.0" cy="190.5" rx="1.5" ry="0.75" fill="#2a6fb0" transform="rotate(-1 812.0 190.5)"/>
<ellipse cx="768.1" cy="198.0" rx="1.5" ry="0.75" fill="#1e9fe0" transform="rotate(-44 768.1 198.0)"/>
<ellipse cx="816.3" cy="179.1" rx="1.5" ry="0.75" fill="#1e9fe0" transform="rotate(-45 816.3 179.1)"/>
<ellipse cx="799.4" cy="186.8" rx="1.5" ry="0.75" fill="#1e9fe0" transform="rotate(-19 799.4 186.8)"/>
<ellipse cx="727.4" cy="184.7" rx="1.5" ry="0.75" fill="#1e9fe0" transform="rotate(53 727.4 184.7)"/>
<ellipse cx="816.2" cy="175.8" rx="1.5" ry="0.75" fill="#38b6e8" transform="rotate(-47 816.2 175.8)"/>
<ellipse cx="785.3" cy="199.6" rx="1.5" ry="0.75" fill="#1e9fe0" transform="rotate(34 785.3 199.6)"/>
<ellipse cx="799.4" cy="225.9" rx="1.5" ry="0.75" fill="#38b6e8" transform="rotate(53 799.4 225.9)"/>
<ellipse cx="776.9" cy="177.3" rx="1.5" ry="0.75" fill="#1e9fe0" transform="rotate(23 776.9 177.3)"/>
<ellipse cx="745.3" cy="178.5" rx="1.5" ry="0.75" fill="#1e9fe0" transform="rotate(23 745.3 178.5)"/>
<ellipse cx="729.6" cy="184.2" rx="1.5" ry="0.75" fill="#38b6e8" transform="rotate(-65 729.6 184.2)"/>
<ellipse cx="773.5" cy="222.7" rx="1.5" ry="0.75" fill="#1e9fe0" transform="rotate(-24 773.5 222.7)"/>
<ellipse cx="767.5" cy="224.9" rx="1.5" ry="0.75" fill="#1e9fe0" transform="rotate(37 767.5 224.9)"/>
<ellipse cx="790.5" cy="173.8" rx="1.5" ry="0.75" fill="#1e9fe0" transform="rotate(28 790.5 173.8)"/>
<ellipse cx="785.8" cy="173.8" rx="1.5" ry="0.75" fill="#2a6fb0" transform="rotate(-9 785.8 173.8)"/>
<ellipse cx="790.8" cy="191.5" rx="1.5" ry="0.75" fill="#2a6fb0" transform="rotate(3 790.8 191.5)"/>
<ellipse cx="787.9" cy="180.2" rx="1.5" ry="0.75" fill="#1e9fe0" transform="rotate(50 787.9 180.2)"/>
<ellipse cx="752.6" cy="185.4" rx="1.5" ry="0.75" fill="#1e9fe0" transform="rotate(6 752.6 185.4)"/>
<ellipse cx="757.4" cy="215.7" rx="1.5" ry="0.75" fill="#1e9fe0" transform="rotate(3 757.4 215.7)"/>
<ellipse cx="790.6" cy="189.9" rx="1.5" ry="0.75" fill="#1e9fe0" transform="rotate(-22 790.6 189.9)"/>
<ellipse cx="795.3" cy="182.1" rx="1.5" ry="0.75" fill="#1e9fe0" transform="rotate(-60 795.3 182.1)"/>
<ellipse cx="811.5" cy="211.7" rx="1.5" ry="0.75" fill="#2a6fb0" transform="rotate(-6 811.5 211.7)"/>
<ellipse cx="814.9" cy="200.0" rx="1.5" ry="0.75" fill="#1e9fe0" transform="rotate(59 814.9 200.0)"/>
<ellipse cx="784.0" cy="173.4" rx="1.5" ry="0.75" fill="#1e9fe0" transform="rotate(-8 784.0 173.4)"/>
<ellipse cx="732.0" cy="207.0" rx="1.5" ry="0.75" fill="#2a6fb0" transform="rotate(22 732.0 207.0)"/>
<ellipse cx="781.8" cy="205.7" rx="1.5" ry="0.75" fill="#38b6e8" transform="rotate(5 781.8 205.7)"/>
<ellipse cx="794.7" cy="214.2" rx="1.5" ry="0.75" fill="#1e9fe0" transform="rotate(49 794.7 214.2)"/>
<ellipse cx="817.9" cy="177.6" rx="1.5" ry="0.75" fill="#1e9fe0" transform="rotate(44 817.9 177.6)"/>
<ellipse cx="798.2" cy="194.0" rx="1.5" ry="0.75" fill="#1e9fe0" transform="rotate(-42 798.2 194.0)"/>
<ellipse cx="750.9" cy="180.0" rx="1.5" ry="0.75" fill="#2a6fb0" transform="rotate(57 750.9 180.0)"/>
<ellipse cx="750.8" cy="225.5" rx="1.5" ry="0.75" fill="#1e9fe0" transform="rotate(18 750.8 225.5)"/>
<ellipse cx="748.6" cy="208.8" rx="1.5" ry="0.75" fill="#1e9fe0" transform="rotate(-29 748.6 208.8)"/>
<ellipse cx="787.0" cy="216.1" rx="1.5" ry="0.75" fill="#1e9fe0" transform="rotate(-70 787.0 216.1)"/>
<ellipse cx="767.0" cy="198.9" rx="1.5" ry="0.75" fill="#1e9fe0" transform="rotate(58 767.0 198.9)"/>
<ellipse cx="784.9" cy="214.5" rx="1.5" ry="0.75" fill="#1e9fe0" transform="rotate(18 784.9 214.5)"/>
<ellipse cx="780.2" cy="199.3" rx="1.5" ry="0.75" fill="#2a6fb0" transform="rotate(-3 780.2 199.3)"/>
<ellipse cx="748.9" cy="183.7" rx="1.5" ry="0.75" fill="#1e9fe0" transform="rotate(-19 748.9 183.7)"/>
<ellipse cx="775.8" cy="191.4" rx="1.5" ry="0.75" fill="#1e9fe0" transform="rotate(-45 775.8 191.4)"/>
<ellipse cx="770.1" cy="190.3" rx="1.5" ry="0.75" fill="#1e9fe0" transform="rotate(49 770.1 190.3)"/>
<ellipse cx="779.8" cy="185.6" rx="1.5" ry="0.75" fill="#2a6fb0" transform="rotate(19 779.8 185.6)"/>
<ellipse cx="732.6" cy="212.8" rx="1.5" ry="0.75" fill="#1e9fe0" transform="rotate(25 732.6 212.8)"/>
<ellipse cx="756.0" cy="203.3" rx="1.5" ry="0.75" fill="#2a6fb0" transform="rotate(-35 756.0 203.3)"/>
<ellipse cx="805.5" cy="216.4" rx="1.5" ry="0.75" fill="#2a6fb0" transform="rotate(-17 805.5 216.4)"/>
<ellipse cx="768.3" cy="208.5" rx="1.5" ry="0.75" fill="#38b6e8" transform="rotate(-62 768.3 208.5)"/>
<ellipse cx="810.8" cy="217.6" rx="1.5" ry="0.75" fill="#2a6fb0" transform="rotate(-59 810.8 217.6)"/>
<ellipse cx="810.6" cy="195.2" rx="1.5" ry="0.75" fill="#1e9fe0" transform="rotate(-53 810.6 195.2)"/>
<ellipse cx="743.4" cy="215.3" rx="1.5" ry="0.75" fill="#1e9fe0" transform="rotate(-13 743.4 215.3)"/>
<ellipse cx="731.0" cy="209.5" rx="1.5" ry="0.75" fill="#38b6e8" transform="rotate(36 731.0 209.5)"/>
<ellipse cx="789.5" cy="217.8" rx="1.5" ry="0.75" fill="#1e9fe0" transform="rotate(63 789.5 217.8)"/>
<ellipse cx="812.7" cy="182.7" rx="1.5" ry="0.75" fill="#1e9fe0" transform="rotate(53 812.7 182.7)"/>
<ellipse cx="794.3" cy="222.2" rx="1.5" ry="0.75" fill="#2a6fb0" transform="rotate(-20 794.3 222.2)"/>
<ellipse cx="773.2" cy="212.7" rx="1.5" ry="0.75" fill="#38b6e8" transform="rotate(-18 773.2 212.7)"/>
<ellipse cx="759.3" cy="205.6" rx="1.5" ry="0.75" fill="#1e9fe0" transform="rotate(-19 759.3 205.6)"/>
<ellipse cx="794.0" cy="186.0" rx="1.5" ry="0.75" fill="#1e9fe0" transform="rotate(-2 794.0 186.0)"/>
<ellipse cx="744.7" cy="203.2" rx="1.5" ry="0.75" fill="#38b6e8" transform="rotate(67 744.7 203.2)"/>
<ellipse cx="796.1" cy="201.0" rx="1.5" ry="0.75" fill="#38b6e8" transform="rotate(54 796.1 201.0)"/>
<ellipse cx="742.0" cy="216.9" rx="1.5" ry="0.75" fill="#1e9fe0" transform="rotate(69 742.0 216.9)"/>
<ellipse cx="796.1" cy="193.8" rx="1.5" ry="0.75" fill="#1e9fe0" transform="rotate(-17 796.1 193.8)"/>
<ellipse cx="736.6" cy="219.3" rx="1.5" ry="0.75" fill="#2a6fb0" transform="rotate(-19 736.6 219.3)"/>
<ellipse cx="799.1" cy="186.7" rx="1.5" ry="0.75" fill="#38b6e8" transform="rotate(20 799.1 186.7)"/>
<ellipse cx="797.4" cy="181.2" rx="1.5" ry="0.75" fill="#1e9fe0" transform="rotate(2 797.4 181.2)"/>
<ellipse cx="753.0" cy="224.9" rx="1.5" ry="0.75" fill="#2a6fb0" transform="rotate(36 753.0 224.9)"/>
<ellipse cx="752.3" cy="183.3" rx="1.5" ry="0.75" fill="#38b6e8" transform="rotate(21 752.3 183.3)"/>
<ellipse cx="746.4" cy="211.2" rx="1.5" ry="0.75" fill="#2a6fb0" transform="rotate(-37 746.4 211.2)"/>
<ellipse cx="806.2" cy="187.0" rx="1.5" ry="0.75" fill="#1e9fe0" transform="rotate(21 806.2 187.0)"/>
<ellipse cx="795.4" cy="225.1" rx="1.5" ry="0.75" fill="#1e9fe0" transform="rotate(2 795.4 225.1)"/>
<ellipse cx="814.1" cy="174.0" rx="1.5" ry="0.75" fill="#2a6fb0" transform="rotate(-12 814.1 174.0)"/>
<ellipse cx="804.2" cy="223.6" rx="1.5" ry="0.75" fill="#2a6fb0" transform="rotate(7 804.2 223.6)"/>
<ellipse cx="812.4" cy="189.5" rx="1.5" ry="0.75" fill="#1e9fe0" transform="rotate(-52 812.4 189.5)"/>
<ellipse cx="774.8" cy="186.7" rx="1.5" ry="0.75" fill="#1e9fe0" transform="rotate(43 774.8 186.7)"/>
<ellipse cx="770.0" cy="213.0" rx="1.5" ry="0.75" fill="#38b6e8" transform="rotate(-33 770.0 213.0)"/>
<ellipse cx="748.8" cy="208.8" rx="1.5" ry="0.75" fill="#2a6fb0" transform="rotate(37 748.8 208.8)"/>
<ellipse cx="796.2" cy="177.4" rx="1.5" ry="0.75" fill="#1e9fe0" transform="rotate(-68 796.2 177.4)"/>
<ellipse cx="778.4" cy="198.9" rx="1.5" ry="0.75" fill="#1e9fe0" transform="rotate(8 778.4 198.9)"/>
<ellipse cx="766.4" cy="179.1" rx="1.5" ry="0.75" fill="#38b6e8" transform="rotate(-26 766.4 179.1)"/>
<ellipse cx="801.1" cy="191.8" rx="1.5" ry="0.75" fill="#2a6fb0" transform="rotate(-14 801.1 191.8)"/>
<ellipse cx="734.1" cy="224.5" rx="1.5" ry="0.75" fill="#1e9fe0" transform="rotate(25 734.1 224.5)"/>
<ellipse cx="766.8" cy="211.7" rx="1.5" ry="0.75" fill="#1e9fe0" transform="rotate(6 766.8 211.7)"/>
<ellipse cx="805.2" cy="204.3" rx="1.5" ry="0.75" fill="#1e9fe0" transform="rotate(-31 805.2 204.3)"/>
<ellipse cx="785.2" cy="186.1" rx="1.5" ry="0.75" fill="#1e9fe0" transform="rotate(51 785.2 186.1)"/>
<ellipse cx="731.5" cy="177.0" rx="1.5" ry="0.75" fill="#2a6fb0" transform="rotate(-70 731.5 177.0)"/>
<ellipse cx="744.9" cy="184.9" rx="1.5" ry="0.75" fill="#1e9fe0" transform="rotate(-42 744.9 184.9)"/>
<ellipse cx="742.4" cy="213.6" rx="1.5" ry="0.75" fill="#1e9fe0" transform="rotate(-15 742.4 213.6)"/>
<ellipse cx="772.8" cy="174.2" rx="1.5" ry="0.75" fill="#1e9fe0" transform="rotate(45 772.8 174.2)"/>
<ellipse cx="745.9" cy="214.6" rx="1.5" ry="0.75" fill="#38b6e8" transform="rotate(39 745.9 214.6)"/>
<ellipse cx="736.9" cy="177.7" rx="1.5" ry="0.75" fill="#1e9fe0" transform="rotate(9 736.9 177.7)"/>
<ellipse cx="754.6" cy="217.1" rx="1.5" ry="0.75" fill="#1e9fe0" transform="rotate(-44 754.6 217.1)"/>
<ellipse cx="743.7" cy="209.5" rx="1.5" ry="0.75" fill="#1e9fe0" transform="rotate(54 743.7 209.5)"/>
<ellipse cx="772.5" cy="181.1" rx="1.5" ry="0.75" fill="#1e9fe0" transform="rotate(-38 772.5 181.1)"/>
<ellipse cx="771.1" cy="194.4" rx="1.5" ry="0.75" fill="#1e9fe0" transform="rotate(54 771.1 194.4)"/>
<ellipse cx="748.0" cy="188.9" rx="1.5" ry="0.75" fill="#1e9fe0" transform="rotate(53 748.0 188.9)"/>
<ellipse cx="785.3" cy="181.5" rx="1.5" ry="0.75" fill="#2a6fb0" transform="rotate(-66 785.3 181.5)"/>
<ellipse cx="737.0" cy="214.5" rx="1.5" ry="0.75" fill="#1e9fe0" transform="rotate(50 737.0 214.5)"/>
<ellipse cx="803.2" cy="202.4" rx="1.5" ry="0.75" fill="#1e9fe0" transform="rotate(28 803.2 202.4)"/>
<ellipse cx="777.7" cy="195.6" rx="1.5" ry="0.75" fill="#1e9fe0" transform="rotate(-29 777.7 195.6)"/>
<ellipse cx="766.8" cy="199.6" rx="1.5" ry="0.75" fill="#1e9fe0" transform="rotate(-53 766.8 199.6)"/>
<ellipse cx="815.3" cy="203.6" rx="1.5" ry="0.75" fill="#2a6fb0" transform="rotate(55 815.3 203.6)"/>
<ellipse cx="747.6" cy="220.0" rx="1.5" ry="0.75" fill="#2a6fb0" transform="rotate(-33 747.6 220.0)"/>
<ellipse cx="738.4" cy="215.4" rx="1.5" ry="0.75" fill="#38b6e8" transform="rotate(-66 738.4 215.4)"/>
<ellipse cx="762.1" cy="217.1" rx="1.5" ry="0.75" fill="#2a6fb0" transform="rotate(-11 762.1 217.1)"/>
<ellipse cx="794.8" cy="177.7" rx="1.5" ry="0.75" fill="#38b6e8" transform="rotate(-66 794.8 177.7)"/>
<ellipse cx="815.2" cy="185.6" rx="1.5" ry="0.75" fill="#2a6fb0" transform="rotate(45 815.2 185.6)"/>
<ellipse cx="813.9" cy="197.9" rx="1.5" ry="0.75" fill="#38b6e8" transform="rotate(-29 813.9 197.9)"/>
<ellipse cx="802.8" cy="178.8" rx="1.5" ry="0.75" fill="#1e9fe0" transform="rotate(13 802.8 178.8)"/>
<ellipse cx="732.6" cy="222.9" rx="1.5" ry="0.75" fill="#1e9fe0" transform="rotate(-65 732.6 222.9)"/>
<ellipse cx="743.3" cy="179.3" rx="1.5" ry="0.75" fill="#1e9fe0" transform="rotate(26 743.3 179.3)"/>
<ellipse cx="783.5" cy="197.9" rx="1.5" ry="0.75" fill="#1e9fe0" transform="rotate(50 783.5 197.9)"/>
<ellipse cx="801.8" cy="210.9" rx="1.5" ry="0.75" fill="#38b6e8" transform="rotate(-63 801.8 210.9)"/>
<ellipse cx="758.3" cy="217.7" rx="1.5" ry="0.75" fill="#1e9fe0" transform="rotate(-41 758.3 217.7)"/>
<ellipse cx="794.3" cy="190.0" rx="1.5" ry="0.75" fill="#2a6fb0" transform="rotate(-28 794.3 190.0)"/>
<ellipse cx="795.0" cy="193.1" rx="1.5" ry="0.75" fill="#38b6e8" transform="rotate(-34 795.0 193.1)"/>
<ellipse cx="789.7" cy="184.3" rx="1.5" ry="0.75" fill="#2a6fb0" transform="rotate(65 789.7 184.3)"/>
<ellipse cx="762.4" cy="224.0" rx="1.5" ry="0.75" fill="#2a6fb0" transform="rotate(52 762.4 224.0)"/>
<ellipse cx="793.3" cy="202.0" rx="1.5" ry="0.75" fill="#1e9fe0" transform="rotate(26 793.3 202.0)"/>
<ellipse cx="744.8" cy="200.4" rx="1.5" ry="0.75" fill="#2a6fb0" transform="rotate(-15 744.8 200.4)"/>
<ellipse cx="813.8" cy="206.6" rx="1.5" ry="0.75" fill="#1e9fe0" transform="rotate(41 813.8 206.6)"/>
<ellipse cx="800.9" cy="180.6" rx="1.5" ry="0.75" fill="#2a6fb0" transform="rotate(-70 800.9 180.6)"/>
<ellipse cx="742.7" cy="224.7" rx="1.5" ry="0.75" fill="#1e9fe0" transform="rotate(33 742.7 224.7)"/>
<ellipse cx="764.7" cy="215.8" rx="1.5" ry="0.75" fill="#38b6e8" transform="rotate(2 764.7 215.8)"/>
<ellipse cx="754.5" cy="194.5" rx="1.5" ry="0.75" fill="#38b6e8" transform="rotate(41 754.5 194.5)"/>
<ellipse cx="754.6" cy="210.7" rx="1.5" ry="0.75" fill="#2a6fb0" transform="rotate(16 754.6 210.7)"/>
<ellipse cx="755.7" cy="178.6" rx="1.5" ry="0.75" fill="#38b6e8" transform="rotate(15 755.7 178.6)"/>
<ellipse cx="750.6" cy="197.6" rx="1.5" ry="0.75" fill="#1e9fe0" transform="rotate(70 750.6 197.6)"/>
<ellipse cx="768.3" cy="203.2" rx="1.5" ry="0.75" fill="#2a6fb0" transform="rotate(51 768.3 203.2)"/>
<ellipse cx="741.8" cy="178.7" rx="1.5" ry="0.75" fill="#38b6e8" transform="rotate(30 741.8 178.7)"/>
<ellipse cx="746.2" cy="196.2" rx="1.5" ry="0.75" fill="#1e9fe0" transform="rotate(33 746.2 196.2)"/>
<ellipse cx="780.2" cy="188.3" rx="1.5" ry="0.75" fill="#1e9fe0" transform="rotate(-60 780.2 188.3)"/>
<ellipse cx="780.9" cy="183.0" rx="1.5" ry="0.75" fill="#1e9fe0" transform="rotate(-64 780.9 183.0)"/>
<ellipse cx="764.4" cy="193.6" rx="1.5" ry="0.75" fill="#38b6e8" transform="rotate(51 764.4 193.6)"/>
<ellipse cx="766.2" cy="173.8" rx="1.5" ry="0.75" fill="#1e9fe0" transform="rotate(-17 766.2 173.8)"/>
<ellipse cx="806.0" cy="196.9" rx="1.5" ry="0.75" fill="#1e9fe0" transform="rotate(-45 806.0 196.9)"/>
<ellipse cx="790.7" cy="182.4" rx="1.5" ry="0.75" fill="#1e9fe0" transform="rotate(-54 790.7 182.4)"/>
<ellipse cx="778.9" cy="221.1" rx="1.5" ry="0.75" fill="#1e9fe0" transform="rotate(18 778.9 221.1)"/>
<ellipse cx="755.2" cy="206.9" rx="1.5" ry="0.75" fill="#2a6fb0" transform="rotate(-31 755.2 206.9)"/>
<ellipse cx="757.0" cy="173.1" rx="1.5" ry="0.75" fill="#38b6e8" transform="rotate(30 757.0 173.1)"/>
<ellipse cx="816.0" cy="174.9" rx="1.5" ry="0.75" fill="#1e9fe0" transform="rotate(62 816.0 174.9)"/>
<ellipse cx="727.7" cy="186.2" rx="1.5" ry="0.75" fill="#1e9fe0" transform="rotate(11 727.7 186.2)"/>
<ellipse cx="733.3" cy="206.4" rx="1.5" ry="0.75" fill="#1e9fe0" transform="rotate(-17 733.3 206.4)"/>
<ellipse cx="728.7" cy="197.0" rx="1.5" ry="0.75" fill="#2a6fb0" transform="rotate(-51 728.7 197.0)"/>
<ellipse cx="763.7" cy="181.1" rx="1.5" ry="0.75" fill="#2a6fb0" transform="rotate(-57 763.7 181.1)"/>
<ellipse cx="733.7" cy="179.2" rx="1.5" ry="0.75" fill="#1e9fe0" transform="rotate(-35 733.7 179.2)"/>
<ellipse cx="756.4" cy="196.6" rx="1.5" ry="0.75" fill="#2a6fb0" transform="rotate(-63 756.4 196.6)"/>
<ellipse cx="747.6" cy="177.0" rx="1.5" ry="0.75" fill="#1e9fe0" transform="rotate(-3 747.6 177.0)"/>
<ellipse cx="805.5" cy="185.9" rx="1.5" ry="0.75" fill="#1e9fe0" transform="rotate(47 805.5 185.9)"/>
<ellipse cx="802.4" cy="182.1" rx="1.5" ry="0.75" fill="#1e9fe0" transform="rotate(-18 802.4 182.1)"/>
<ellipse cx="757.3" cy="178.4" rx="1.5" ry="0.75" fill="#1e9fe0" transform="rotate(-8 757.3 178.4)"/>
<ellipse cx="758.1" cy="182.4" rx="1.5" ry="0.75" fill="#1e9fe0" transform="rotate(-57 758.1 182.4)"/>
<ellipse cx="814.2" cy="197.9" rx="1.5" ry="0.75" fill="#1e9fe0" transform="rotate(17 814.2 197.9)"/>
<ellipse cx="774.4" cy="199.6" rx="1.5" ry="0.75" fill="#38b6e8" transform="rotate(-61 774.4 199.6)"/>
<ellipse cx="736.4" cy="176.9" rx="1.5" ry="0.75" fill="#2a6fb0" transform="rotate(-36 736.4 176.9)"/>
<ellipse cx="755.8" cy="207.1" rx="1.5" ry="0.75" fill="#1e9fe0" transform="rotate(-46 755.8 207.1)"/>
<ellipse cx="784.0" cy="217.1" rx="1.5" ry="0.75" fill="#2a6fb0" transform="rotate(4 784.0 217.1)"/>
<ellipse cx="791.0" cy="218.7" rx="1.5" ry="0.75" fill="#1e9fe0" transform="rotate(-22 791.0 218.7)"/>
<ellipse cx="816.9" cy="215.0" rx="1.5" ry="0.75" fill="#1e9fe0" transform="rotate(-59 816.9 215.0)"/>
<ellipse cx="804.5" cy="194.2" rx="1.5" ry="0.75" fill="#1e9fe0" transform="rotate(-36 804.5 194.2)"/>
<ellipse cx="752.6" cy="189.4" rx="1.5" ry="0.75" fill="#1e9fe0" transform="rotate(-6 752.6 189.4)"/>
<ellipse cx="809.0" cy="190.6" rx="1.5" ry="0.75" fill="#1e9fe0" transform="rotate(-23 809.0 190.6)"/>
<ellipse cx="779.3" cy="203.1" rx="1.5" ry="0.75" fill="#1e9fe0" transform="rotate(50 779.3 203.1)"/>
<ellipse cx="791.3" cy="183.3" rx="1.5" ry="0.75" fill="#1e9fe0" transform="rotate(11 791.3 183.3)"/>
<ellipse cx="770.9" cy="203.0" rx="1.5" ry="0.75" fill="#1e9fe0" transform="rotate(30 770.9 203.0)"/>
<ellipse cx="790.0" cy="224.3" rx="1.5" ry="0.75" fill="#1e9fe0" transform="rotate(-3 790.0 224.3)"/>
<ellipse cx="737.6" cy="199.4" rx="1.5" ry="0.75" fill="#1e9fe0" transform="rotate(-23 737.6 199.4)"/>
<ellipse cx="740.6" cy="190.6" rx="1.5" ry="0.75" fill="#2a6fb0" transform="rotate(-32 740.6 190.6)"/>
<ellipse cx="810.0" cy="189.1" rx="1.5" ry="0.75" fill="#1e9fe0" transform="rotate(-45 810.0 189.1)"/>
<ellipse cx="767.4" cy="179.8" rx="1.5" ry="0.75" fill="#1e9fe0" transform="rotate(-26 767.4 179.8)"/>
<ellipse cx="816.7" cy="204.5" rx="1.5" ry="0.75" fill="#2a6fb0" transform="rotate(-40 816.7 204.5)"/>
<ellipse cx="755.3" cy="190.1" rx="1.5" ry="0.75" fill="#1e9fe0" transform="rotate(41 755.3 190.1)"/>
<ellipse cx="748.2" cy="224.9" rx="1.5" ry="0.75" fill="#1e9fe0" transform="rotate(-34 748.2 224.9)"/>
<ellipse cx="817.7" cy="178.7" rx="1.5" ry="0.75" fill="#1e9fe0" transform="rotate(2 817.7 178.7)"/>
</g>
<polygon points="795.2,198.1 817.3,174 817.3,199.5 795.2,225" fill="#8a7a00" opacity="0.08"/>
<polyline points="726.9,198.1 795.2,198.1 817.3,174" fill="none" stroke="#fff6c0" stroke-width="0.6"/>
<polyline points="795.2,198.1 795.2,225" fill="none" stroke="#fff6c0" stroke-width="0.6"/>
<text x="821.6" y="169.7" font-family='"Liberation Sans", sans-serif' font-size="8.5" font-weight="bold" fill="#222" text-anchor="start" textLength="44.4" lengthAdjust="spacingAndGlyphs" stroke="#222" stroke-width="0.3">[VBIm][TFSI]</text>
<text x="827.4" y="185.1" font-family='"Liberation Sans", sans-serif' font-size="8.5" font-weight="bold" fill="#222" text-anchor="start" textLength="25.2" lengthAdjust="spacingAndGlyphs" stroke="#222" stroke-width="0.3">PEGDA</text>
<text x="837.2" y="200.2" font-family='"Liberation Sans", sans-serif' font-size="8.5" font-weight="bold" fill="#222" text-anchor="start" textLength="7.5" lengthAdjust="spacingAndGlyphs" stroke="#222" stroke-width="0.3">Li</text>
<text x="845.2" y="196.3" font-family='"Liberation Sans", sans-serif' font-size="5" font-weight="bold" fill="#222" text-anchor="start" stroke="#222" stroke-width="0.3">+</text>
<text x="835.5" y="214.9" font-family='"Liberation Sans", sans-serif' font-size="8.5" font-weight="bold" fill="#222" text-anchor="start" textLength="13.0" lengthAdjust="spacingAndGlyphs" stroke="#222" stroke-width="0.3">TFSI</text>
<text x="848.8" y="211.0" font-family='"Liberation Sans", sans-serif' font-size="5" font-weight="bold" fill="#222" text-anchor="start" stroke="#222" stroke-width="0.3">-</text>
<g stroke-linecap="round" fill="none">
<path d="M870,169 L875,166" stroke="#ee5555" stroke-width="2"/>
<path d="M875,166 C879,162 883,163 885,166 C887,169 891,168 893.5,165.5" stroke="#4caf50" stroke-width="1"/>
<path d="M870.5,185 L876,182" stroke="#ee5555" stroke-width="2"/>
<path d="M876,182 C880,180 883,184 887,183 C891,182 894,181 897,181" stroke="#8db4e2" stroke-width="1"/>
<path d="M897,181 L903,178.5" stroke="#ee5555" stroke-width="2"/>
</g>
<circle cx="894" cy="165.5" r="1.3" fill="#222"/>
<ellipse cx="899" cy="168.5" rx="3.8" ry="2" fill="#1e9be0" transform="rotate(20 899 168.5)"/>
<circle cx="888" cy="197.1" r="1.5" fill="#223388"/>
<ellipse cx="888.7" cy="211.8" rx="5" ry="2.8" fill="#1e9be0"/>
<circle cx="888.7" cy="211.8" r="0.8" fill="#223388"/>
</g>
<defs>
<clipPath id="semclip"><rect x="26" y="289" width="405" height="283"/></clipPath>
<filter id="semnoise" x="0" y="0" width="1" height="1" color-interpolation-filters="sRGB">
 <feTurbulence type="fractalNoise" baseFrequency="0.045" numOctaves="3" seed="7" result="n"/>
 <feColorMatrix in="n" type="matrix" values="0 0 0 0 0.34  0 0 0 0 0.34  0 0 0 0 0.34  0.9 0 0 0 -0.28" result="m"/>
 <feComposite in="m" in2="SourceGraphic" operator="in"/>
</filter>
<filter id="semfine" x="0" y="0" width="1" height="1" color-interpolation-filters="sRGB">
 <feTurbulence type="fractalNoise" baseFrequency="0.2" numOctaves="2" seed="3" result="n"/>
 <feColorMatrix in="n" type="matrix" values="0 0 0 0 0.75  0 0 0 0 0.75  0 0 0 0 0.75  4 0 0 0 -2.45" result="m0"/>
 <feGaussianBlur in="m0" stdDeviation="0.5" result="m"/>
 <feComposite in="m" in2="SourceGraphic" operator="in"/>
</filter>
<filter id="semcont" x="0" y="0" width="1" height="1" color-interpolation-filters="sRGB">
 <feTurbulence type="fractalNoise" baseFrequency="0.035" numOctaves="2" seed="11" result="n"/>
 <feColorMatrix in="n" type="matrix" values="0 0 0 0 1  0 0 0 0 1  0 0 0 0 1  1 0 0 0 0" result="a"/>
 <feComponentTransfer in="a" result="c"><feFuncA type="table" tableValues="0 0 0 0 0 0 0 0 0 0 0 0 0 0.5 1 0.5 0 0 0 0 0 0 0 0 0 0 0 0 0 0 0"/></feComponentTransfer>
 <feGaussianBlur in="c" stdDeviation="0.9" result="b"/>
 <feComposite in="b" in2="SourceGraphic" operator="in"/>
</filter>
<filter id="semdark" x="0" y="0" width="1" height="1" color-interpolation-filters="sRGB">
 <feTurbulence type="fractalNoise" baseFrequency="0.05" numOctaves="2" seed="23" result="n"/>
 <feColorMatrix in="n" type="matrix" values="0 0 0 0 0  0 0 0 0 0  0 0 0 0 0  2.2 0 0 0 -1.05" result="m"/>
 <feComposite in="m" in2="SourceGraphic" operator="in"/>
</filter>
<filter id="semrelief" x="0" y="0" width="1" height="1" color-interpolation-filters="sRGB">
 <feTurbulence type="fractalNoise" baseFrequency="0.06" numOctaves="3" seed="19" result="n"/>
 <feColorMatrix in="n" type="matrix" values="0 0 0 0 0  0 0 0 0 0  0 0 0 0 0  1 0 0 0 0" result="h"/>
 <feDiffuseLighting in="h" surfaceScale="3" diffuseConstant="1" lighting-color="#fff" result="l"><feDistantLight azimuth="235" elevation="50"/></feDiffuseLighting>
 <feComposite in="l" in2="SourceGraphic" operator="in"/>
</filter>
<filter id="glow" x="-20%" y="-20%" width="140%" height="140%"><feGaussianBlur stdDeviation="0.6"/></filter>
<filter id="glow2" x="-20%" y="-20%" width="140%" height="140%"><feGaussianBlur stdDeviation="1.3"/></filter>
</defs>
<g clip-path="url(#semclip)">
<rect x="26" y="289" width="405" height="283" fill="#4d4d4d"/>
<rect x="26" y="289" width="405" height="283" fill="#000" filter="url(#semnoise)"/>
<rect x="26" y="289" width="405" height="283" fill="#000" filter="url(#semfine)" opacity="0.4"/>
<rect x="26" y="289" width="405" height="283" fill="#000" filter="url(#semdark)" opacity="0.35"/>
<rect x="26" y="289" width="405" height="283" fill="#000" filter="url(#semcont)" opacity="0.26"/>
<path d="M174.9,503 L199.2,500.2 L204.8,502.1 L212,526 L214.2,534.8 L200,530 L185,528 L172,520 Z" fill="#6a6a6a" opacity="0.8"/>
<path d="M408,522 L413,513 L431,503 L431,550 L412,548 Z" fill="#6e6e6e" opacity="0.8"/>
<g fill="#3a3a3a" opacity="0.35" filter="url(#glow2)">
<path d="M27.0,300.0 C27.2,298.7 28.7,298.7 29.7,299.0 C30.7,299.3 32.6,300.8 33.0,302.0 C33.4,303.2 32.8,305.2 32.0,306.0 C31.2,306.8 29.3,308.0 28.5,307.0 C27.7,306.0 26.8,301.3 27.0,300.0 Z"/>
<path d="M45.0,312.0 C43.8,313.8 43.2,316.0 43.0,318.0 C42.8,320.0 43.0,322.5 44.0,324.0 C45.0,325.5 47.0,326.7 49.0,327.0 C51.0,327.3 54.5,327.5 56.0,326.0 C57.5,324.5 58.0,320.8 58.0,318.0 C58.0,315.2 57.3,310.8 56.0,309.0 C54.7,307.2 51.8,306.5 50.0,307.0 C48.2,307.5 46.2,310.2 45.0,312.0 Z"/>
<path d="M82.0,312.0 C81.5,309.8 82.5,307.2 84.0,306.0 C85.5,304.8 88.7,304.2 91.0,304.5 C93.3,304.8 96.7,306.2 98.0,308.0 C99.3,309.8 99.5,313.0 99.0,315.0 C98.5,317.0 97.0,319.2 95.0,320.0 C93.0,320.8 89.2,320.8 87.0,319.5 C84.8,318.2 82.5,314.2 82.0,312.0 Z"/>
<path d="M123.0,357.0 C126.2,356.8 130.7,357.3 133.0,359.0 C135.3,360.7 136.8,363.8 137.0,367.0 C137.2,370.2 136.2,375.4 134.0,378.0 C131.8,380.6 127.5,382.2 124.0,382.5 C120.5,382.8 115.3,382.2 113.0,380.0 C110.7,377.8 109.8,372.3 110.0,369.0 C110.2,365.7 111.8,362.0 114.0,360.0 C116.2,358.0 119.8,357.2 123.0,357.0 Z"/>
<path d="M161.0,353.4 C161.0,352.0 163.5,349.9 166.0,349.2 C168.5,348.5 173.5,348.4 176.0,349.0 C178.5,349.6 180.8,351.1 181.0,352.5 C181.2,353.9 179.5,356.6 177.0,357.5 C174.5,358.4 168.7,358.5 166.0,357.8 C163.3,357.1 161.0,354.8 161.0,353.4 Z"/>
<path d="M228.0,385.0 C229.3,383.8 232.7,383.0 234.0,384.0 C235.3,385.0 236.7,389.0 236.0,391.0 C235.3,393.0 231.7,396.0 230.0,396.0 C228.3,396.0 226.3,392.8 226.0,391.0 C225.7,389.2 226.7,386.2 228.0,385.0 Z"/>
<path d="M68.4,434.3 C69.8,434.5 72.5,434.9 73.5,436.0 C74.5,437.1 74.9,439.6 74.3,441.0 C73.7,442.4 71.7,444.2 70.0,444.5 C68.3,444.8 65.2,444.1 64.0,443.0 C62.8,441.9 62.6,439.4 62.8,438.0 C63.0,436.6 64.1,435.4 65.0,434.8 C65.9,434.2 67.0,434.1 68.4,434.3 Z"/>
<path d="M300.9,449.4 C300.5,447.0 303.3,440.4 305.7,437.2 C308.1,433.9 311.4,431.1 315.5,429.9 C319.6,428.7 327.2,427.5 330.1,429.9 C333.0,432.3 333.4,440.9 332.6,444.5 C331.8,448.1 329.3,450.6 325.2,451.8 C321.1,453.0 312.2,452.2 308.2,451.8 C304.1,451.4 301.3,451.8 300.9,449.4 Z"/>
<path d="M316.7,436.0 C317.8,435.8 319.5,436.9 320.0,438.0 C320.5,439.1 320.3,441.7 319.5,442.5 C318.7,443.3 316.0,443.5 315.0,443.0 C314.0,442.5 313.2,440.7 313.5,439.5 C313.8,438.3 315.6,436.2 316.7,436.0 Z"/>
<path d="M315.5,457.0 C317.2,457.2 320.1,459.2 321.0,461.0 C321.9,462.8 321.9,466.2 321.0,468.0 C320.1,469.8 317.2,471.8 315.5,471.5 C313.8,471.2 311.2,467.9 310.5,466.0 C309.8,464.1 310.2,461.5 311.0,460.0 C311.8,458.5 313.8,456.8 315.5,457.0 Z"/>
<path d="M271.6,431.8 C272.6,431.8 274.6,433.8 274.6,434.8 C274.6,435.8 272.6,437.8 271.6,437.8 C270.6,437.8 268.6,435.8 268.6,434.8 C268.6,433.8 270.6,431.8 271.6,431.8 Z"/>
<path d="M358.0,437.0 C358.2,435.8 360.8,434.7 362.0,435.0 C363.2,435.3 365.2,437.8 365.0,439.0 C364.8,440.2 362.2,442.3 361.0,442.0 C359.8,441.7 357.8,438.2 358.0,437.0 Z"/>
</g>
<g fill="none" stroke="#c8c8c8" stroke-linecap="round" opacity="0.5" filter="url(#glow2)">
<path d="M27.0,300.0 C27.2,298.7 28.7,298.7 29.7,299.0 C30.7,299.3 32.6,300.8 33.0,302.0 C33.4,303.2 32.8,305.2 32.0,306.0 C31.2,306.8 29.3,308.0 28.5,307.0 C27.7,306.0 26.8,301.3 27.0,300.0 Z" stroke-width="3.1"/>
<path d="M45.0,312.0 C43.8,313.8 43.2,316.0 43.0,318.0 C42.8,320.0 43.0,322.5 44.0,324.0 C45.0,325.5 47.0,326.7 49.0,327.0 C51.0,327.3 54.5,327.5 56.0,326.0 C57.5,324.5 58.0,320.8 58.0,318.0 C58.0,315.2 57.3,310.8 56.0,309.0 C54.7,307.2 51.8,306.5 50.0,307.0 C48.2,307.5 46.2,310.2 45.0,312.0 Z" stroke-width="3.8"/>
<path d="M82.0,312.0 C81.5,309.8 82.5,307.2 84.0,306.0 C85.5,304.8 88.7,304.2 91.0,304.5 C93.3,304.8 96.7,306.2 98.0,308.0 C99.3,309.8 99.5,313.0 99.0,315.0 C98.5,317.0 97.0,319.2 95.0,320.0 C93.0,320.8 89.2,320.8 87.0,319.5 C84.8,318.2 82.5,314.2 82.0,312.0 Z" stroke-width="3.6"/>
<path d="M102.0,334.3 C103.0,332.6 106.0,327.4 108.0,324.0 C110.0,320.6 112.3,318.8 113.8,313.9 C115.2,309.0 115.7,298.6 116.7,294.9 C117.7,291.2 117.2,292.9 119.6,291.9 C122.0,290.9 129.4,289.5 131.3,289.0" stroke-width="4.8"/>
<path d="M103.5,337.3 L113.8,340.2" stroke-width="4.3"/>
<path d="M122.0,303.0 C123.0,302.5 126.2,300.0 128.0,300.0 C129.8,300.0 132.7,300.0 133.0,303.0 C133.3,306.0 131.5,314.3 130.0,318.0 C128.5,321.7 125.0,323.8 124.0,325.0" stroke-width="3.1"/>
<path d="M38.4,341.7 C40.0,340.6 44.6,336.3 47.9,335.1 C51.2,333.9 55.3,333.5 58.2,334.3 C61.1,335.1 64.3,339.2 65.5,340.2" stroke-width="4.8"/>
<path d="M38.4,341.7 L40.6,356.3" stroke-width="3.4"/>
<path d="M59.6,368.0 C61.3,366.3 66.2,359.5 69.9,357.8 C73.6,356.1 78.4,356.4 81.6,357.8 C84.8,359.2 87.7,363.0 88.9,366.5 C90.1,370.0 88.9,376.9 88.9,379.0" stroke-width="4.8"/>
<path d="M110.1,370.9 C111.2,368.9 113.7,361.5 116.7,359.2 C119.8,356.9 125.2,356.8 128.4,357.0 C131.6,357.2 134.7,360.1 136.0,360.7" stroke-width="4.8"/>
<path d="M110.1,370.9 L112.3,379.0" stroke-width="3.6"/>
<path d="M123.0,357.0 C126.2,356.8 130.7,357.3 133.0,359.0 C135.3,360.7 136.8,363.8 137.0,367.0 C137.2,370.2 136.2,375.4 134.0,378.0 C131.8,380.6 127.5,382.2 124.0,382.5 C120.5,382.8 115.3,382.2 113.0,380.0 C110.7,377.8 109.8,372.3 110.0,369.0 C110.2,365.7 111.8,362.0 114.0,360.0 C116.2,358.0 119.8,357.2 123.0,357.0 Z" stroke-width="4.8"/>
<path d="M26.0,340.0 C26.8,340.3 29.8,340.3 31.0,342.0 C32.2,343.7 33.2,347.3 33.0,350.0 C32.8,352.7 30.5,356.7 30.0,358.0" stroke-width="3.6"/>
<path d="M72.0,342.0 C72.5,341.8 74.2,340.7 75.0,341.0 C75.8,341.3 76.7,343.5 77.0,344.0" stroke-width="2.4"/>
<path d="M170.2,297.8 C170.8,299.3 172.1,303.7 173.9,306.6 C175.7,309.5 178.3,313.4 181.2,315.3 C184.1,317.2 189.7,317.8 191.4,318.3" stroke-width="4.8"/>
<path d="M172.4,291.9 C174.6,291.4 181.7,288.5 185.6,289.0 C189.5,289.5 193.7,292.7 195.8,294.9 C197.9,297.1 197.6,301.0 198.0,302.2" stroke-width="4.8"/>
<path d="M144.6,308.0 L154.9,300.7" stroke-width="4.3"/>
<path d="M206.0,293.4 L217.8,299.2" stroke-width="2.9"/>
<path d="M213.4,316.8 C215.5,316.5 221.6,315.7 226.0,315.0 C230.4,314.3 237.7,312.8 240.0,312.4" stroke-width="4.3"/>
<path d="M145.0,344.0 C145.8,342.8 147.8,338.3 150.0,337.0 C152.2,335.7 156.0,335.0 158.0,336.0 C160.0,337.0 161.7,340.3 162.0,343.0 C162.3,345.7 161.7,349.8 160.0,352.0 C158.3,354.2 153.3,355.3 152.0,356.0" stroke-width="3.4"/>
<path d="M172.0,344.0 C172.7,342.7 174.0,337.6 176.0,336.0 C178.0,334.4 181.9,333.8 184.0,334.5 C186.1,335.2 188.2,337.9 188.5,340.0 C188.8,342.1 186.4,345.8 186.0,347.0" stroke-width="3.4"/>
<path d="M161.0,353.4 C161.0,352.0 163.5,349.9 166.0,349.2 C168.5,348.5 173.5,348.4 176.0,349.0 C178.5,349.6 180.8,351.1 181.0,352.5 C181.2,353.9 179.5,356.6 177.0,357.5 C174.5,358.4 168.7,358.5 166.0,357.8 C163.3,357.1 161.0,354.8 161.0,353.4 Z" stroke-width="4.1"/>
<path d="M173.9,356.3 C174.8,356.6 177.5,357.0 179.0,358.0 C180.5,359.0 182.1,361.4 182.7,362.1" stroke-width="3.6"/>
<path d="M198.8,357.8 C199.8,356.8 202.8,353.7 205.0,352.0 C207.2,350.3 208.8,349.7 211.9,347.5 C215.0,345.3 220.2,340.6 223.6,338.7 C227.0,336.8 229.7,335.3 232.4,335.8 C235.1,336.3 238.7,340.7 240.0,341.7" stroke-width="4.8"/>
<path d="M200.2,362.1 C201.8,361.2 207.1,358.2 210.0,357.0 C212.9,355.8 216.5,355.2 217.8,354.8" stroke-width="3.4"/>
<path d="M130.0,360.7 C130.8,361.6 133.8,363.3 135.0,366.0 C136.2,368.7 136.9,375.0 137.3,376.8" stroke-width="3.8"/>
<path d="M214.0,380.0 C215.0,379.7 218.7,377.3 220.0,378.0 C221.3,378.7 221.7,383.0 222.0,384.0" stroke-width="2.9"/>
<path d="M228.0,385.0 C229.3,383.8 232.7,383.0 234.0,384.0 C235.3,385.0 236.7,389.0 236.0,391.0 C235.3,393.0 231.7,396.0 230.0,396.0 C228.3,396.0 226.3,392.8 226.0,391.0 C225.7,389.2 226.7,386.2 228.0,385.0 Z" stroke-width="3.1"/>
<path d="M109.4,375.0 C110.1,376.0 111.1,379.8 113.8,380.9 C116.5,382.0 122.1,382.3 125.5,381.6 C128.9,380.9 132.8,377.4 134.2,376.5" stroke-width="4.8"/>
<path d="M46.5,418.9 C47.5,417.4 48.4,412.4 52.3,410.1 C56.2,407.8 65.8,406.1 69.9,405.0 C74.1,403.9 74.3,402.9 77.2,403.5 C80.1,404.1 85.7,407.8 87.4,408.6" stroke-width="4.8"/>
<path d="M99.1,399.9 C101.0,399.4 107.1,397.1 110.8,396.9 C114.5,396.6 118.9,397.2 121.1,398.4 C123.3,399.6 124.2,401.9 124.0,404.3 C123.8,406.7 121.1,410.8 119.6,413.0 C118.1,415.2 115.0,414.0 115.2,417.4 C115.5,420.8 119.1,429.1 121.1,433.5 C123.0,437.9 126.2,441.4 126.9,443.8 C127.6,446.2 125.7,447.4 125.5,448.1" stroke-width="4.8"/>
<path d="M68.4,434.3 C69.8,434.5 72.5,434.9 73.5,436.0 C74.5,437.1 74.9,439.6 74.3,441.0 C73.7,442.4 71.7,444.2 70.0,444.5 C68.3,444.8 65.2,444.1 64.0,443.0 C62.8,441.9 62.6,439.4 62.8,438.0 C63.0,436.6 64.1,435.4 65.0,434.8 C65.9,434.2 67.0,434.1 68.4,434.3 Z" stroke-width="3.4"/>
<path d="M31.9,456.9 C32.1,454.2 31.3,444.7 33.3,440.8 C35.2,436.9 41.2,434.5 43.6,433.5 C46.0,432.5 47.2,434.8 47.9,435.0" stroke-width="5.3"/>
<path d="M34.0,459.0 L43.0,461.0" stroke-width="3.8"/>
<path d="M103.0,423.0 C103.8,422.8 106.7,421.3 108.0,422.0 C109.3,422.7 111.0,425.5 111.0,427.0 C111.0,428.5 108.5,430.3 108.0,431.0" stroke-width="3.6"/>
<path d="M31.9,382.3 L33.3,392.6" stroke-width="3.6"/>
<path d="M34.8,404.3 L43.6,410.1" stroke-width="3.4"/>
<path d="M96.2,455.5 C96.7,453.9 98.0,448.7 99.0,446.0 C100.0,443.3 101.6,440.5 102.1,439.4" stroke-width="3.6"/>
<path d="M156.3,418.9 C157.3,419.1 159.3,418.6 162.2,420.3 C165.1,422.0 169.5,426.9 173.9,429.1 C178.3,431.3 184.3,432.3 188.5,433.5 C192.7,434.7 195.9,435.4 198.8,436.4 C201.7,437.4 205.3,437.4 206.0,439.4 C206.7,441.3 205.3,445.2 203.1,448.1 C200.9,451.0 196.8,454.8 192.9,456.9 C189.0,459.0 183.8,460.4 179.7,460.6 C175.5,460.9 171.0,460.0 168.0,458.4 C165.0,456.8 162.7,454.0 161.5,451.1 C160.3,448.2 160.8,442.5 160.7,440.8" stroke-width="4.3"/>
<path d="M181.2,386.7 C181.9,386.2 184.4,382.8 185.6,383.8 C186.8,384.8 187.5,389.2 188.5,392.6 C189.5,396.0 190.2,401.4 191.4,404.3 C192.6,407.2 195.1,409.1 195.8,410.1" stroke-width="4.8"/>
<path d="M163.6,377.9 C164.3,377.7 166.8,376.2 168.0,376.5 C169.2,376.8 170.5,378.9 171.0,379.4" stroke-width="3.6"/>
<path d="M210.5,378.0 C210.8,379.3 210.8,384.3 212.0,386.0 C213.2,387.7 216.8,387.8 217.8,388.2" stroke-width="3.1"/>
<path d="M230.9,433.0 C231.4,432.4 232.5,430.0 234.0,429.5 C235.5,429.0 239.0,429.9 240.0,430.0" stroke-width="3.8"/>
<path d="M137.3,413.0 L140.2,423.3" stroke-width="3.6"/>
<path d="M141.0,412.0 L148.0,410.0" stroke-width="3.1"/>
<path d="M151.0,433.0 C151.4,432.7 152.7,430.7 153.4,431.0 C154.2,431.3 155.6,433.9 155.5,435.0 C155.4,436.1 153.4,437.1 153.0,437.5" stroke-width="3.4"/>
<path d="M148.5,449.0 C148.8,449.4 149.9,450.1 150.5,451.1 C151.1,452.1 151.8,454.4 152.0,455.0" stroke-width="3.4"/>
<path d="M194.4,417.4 L195.8,423.3" stroke-width="3.6"/>
<path d="M54.1,467.5 C56.3,468.8 63.8,472.5 67.2,475.0 C70.6,477.5 72.9,480.0 74.6,482.5 C76.3,485.0 76.9,488.7 77.4,489.9" stroke-width="4.8"/>
<path d="M26.0,489.9 C27.9,490.5 33.2,492.6 37.2,493.7 C41.2,494.8 46.5,496.2 50.3,496.5 C54.0,496.8 58.1,495.7 59.7,495.5" stroke-width="4.1"/>
<path d="M26.0,514.3 C27.2,514.6 31.6,514.5 33.5,516.1 C35.4,517.7 36.6,522.4 37.2,523.6" stroke-width="4.3"/>
<path d="M50.3,521.7 C52.5,522.0 60.0,521.7 63.4,523.6 C66.8,525.5 69.0,529.6 70.9,533.0 C72.8,536.4 73.7,540.2 74.6,544.2 C75.5,548.2 76.8,554.3 76.5,557.3 C76.2,560.3 73.4,561.2 72.8,562.0" stroke-width="4.8"/>
<path d="M108.3,497.4 C109.2,498.6 112.3,501.8 113.9,504.9 C115.5,508.0 116.8,511.1 117.7,516.1 C118.6,521.1 119.8,529.5 119.5,534.8 C119.2,540.1 115.8,544.5 115.8,547.9 C115.8,551.3 118.9,554.1 119.5,555.4" stroke-width="4.3"/>
<path d="M82.1,504.0 C82.6,503.8 84.1,502.5 85.0,503.0 C85.9,503.5 87.9,505.9 87.7,507.0 C87.5,508.1 84.6,509.2 84.0,509.6" stroke-width="3.4"/>
<path d="M44.7,512.0 C45.2,511.2 46.4,507.7 48.0,507.0 C49.6,506.3 53.3,506.7 54.1,508.0 C54.9,509.3 53.2,513.8 53.0,515.0" stroke-width="3.6"/>
<path d="M78.4,460.0 L82.1,475.0" stroke-width="3.8"/>
<path d="M31.6,564.8 C33.0,564.6 36.9,563.5 40.0,563.5 C43.1,563.5 48.6,564.6 50.3,564.8" stroke-width="3.8"/>
<path d="M92.0,540.0 C93.0,539.3 96.0,535.8 98.0,536.0 C100.0,536.2 103.0,540.2 104.0,541.0" stroke-width="3.1"/>
<path d="M165.5,510.5 C167.1,509.2 169.3,504.7 174.9,503.0 C180.5,501.3 194.2,500.3 199.2,500.2 C204.2,500.1 203.9,501.8 204.8,502.1" stroke-width="4.8"/>
<path d="M204.8,502.1 C205.7,505.1 208.8,514.5 210.4,519.9 C212.0,525.3 213.6,532.3 214.2,534.8" stroke-width="3.6"/>
<path d="M150.6,525.5 C151.8,524.9 154.4,521.7 158.1,521.7 C161.8,521.7 170.2,523.6 173.0,525.5 C175.8,527.4 174.6,531.8 174.9,533.0" stroke-width="4.1"/>
<path d="M150.6,525.5 C150.8,526.8 150.8,531.4 152.0,533.0 C153.2,534.6 157.0,534.7 158.0,535.0" stroke-width="3.4"/>
<path d="M162.7,547.9 C164.1,547.0 168.7,542.0 171.2,542.3 C173.7,542.6 177.1,547.9 177.7,549.8 C178.3,551.7 175.4,552.9 174.9,553.5" stroke-width="4.1"/>
<path d="M223.5,561.0 C224.8,559.8 228.2,555.0 231.0,553.5 C233.8,552.0 238.5,552.0 240.0,551.7" stroke-width="4.8"/>
<path d="M231.0,531.1 C231.6,529.5 233.3,524.2 234.8,521.7 C236.3,519.2 239.1,517.0 240.0,516.1" stroke-width="4.3"/>
<path d="M234.8,488.1 L240.0,497.4" stroke-width="3.8"/>
<path d="M231.0,460.0 L234.8,469.4" stroke-width="3.4"/>
<path d="M186.1,553.5 L193.6,561.0" stroke-width="3.6"/>
<path d="M201.1,471.2 C203.0,473.7 209.5,485.6 212.3,486.2 C215.1,486.8 217.0,476.9 217.9,475.0" stroke-width="3.4"/>
<path d="M140.0,470.0 C141.7,471.7 146.7,478.7 150.0,480.0 C153.3,481.3 158.3,478.3 160.0,478.0" stroke-width="2.9"/>
<path d="M300.9,449.4 C300.5,447.0 303.3,440.4 305.7,437.2 C308.1,433.9 311.4,431.1 315.5,429.9 C319.6,428.7 327.2,427.5 330.1,429.9 C333.0,432.3 333.4,440.9 332.6,444.5 C331.8,448.1 329.3,450.6 325.2,451.8 C321.1,453.0 312.2,452.2 308.2,451.8 C304.1,451.4 301.3,451.8 300.9,449.4 Z" stroke-width="4.8"/>
<path d="M316.7,436.0 C317.8,435.8 319.5,436.9 320.0,438.0 C320.5,439.1 320.3,441.7 319.5,442.5 C318.7,443.3 316.0,443.5 315.0,443.0 C314.0,442.5 313.2,440.7 313.5,439.5 C313.8,438.3 315.6,436.2 316.7,436.0 Z" stroke-width="2.9"/>
<path d="M315.5,457.0 C317.2,457.2 320.1,459.2 321.0,461.0 C321.9,462.8 321.9,466.2 321.0,468.0 C320.1,469.8 317.2,471.8 315.5,471.5 C313.8,471.2 311.2,467.9 310.5,466.0 C309.8,464.1 310.2,461.5 311.0,460.0 C311.8,458.5 313.8,456.8 315.5,457.0 Z" stroke-width="3.6"/>
<path d="M271.6,431.8 C272.6,431.8 274.6,433.8 274.6,434.8 C274.6,435.8 272.6,437.8 271.6,437.8 C270.6,437.8 268.6,435.8 268.6,434.8 C268.6,433.8 270.6,431.8 271.6,431.8 Z" stroke-width="2.6"/>
<path d="M252.1,464.0 C253.3,464.0 257.4,462.4 259.4,464.0 C261.4,465.6 263.5,472.2 264.3,473.8" stroke-width="4.3"/>
<path d="M335.0,483.5 C333.0,484.7 325.7,488.0 322.8,490.9 C319.9,493.8 317.9,498.2 317.9,500.6 C317.9,503.0 322.0,504.7 322.8,505.5" stroke-width="4.8"/>
<path d="M239.9,522.6 C242.3,522.6 250.4,521.8 254.5,522.6 C258.6,523.4 259.4,526.6 264.3,527.4 C269.2,528.2 277.7,528.2 283.8,527.4 C289.9,526.6 295.6,523.6 300.9,522.6 C306.2,521.6 309.8,521.7 315.5,521.3 C321.2,520.9 331.8,520.3 335.0,520.1" stroke-width="4.8"/>
<path d="M288.7,532.3 C291.1,533.1 299.2,535.6 303.3,537.2 C307.4,538.8 308.9,541.7 313.0,542.1 C317.1,542.5 325.2,540.0 327.7,539.6" stroke-width="3.8"/>
<path d="M235.0,486.0 L242.3,493.3" stroke-width="3.8"/>
<path d="M286.2,561.6 C287.4,560.8 290.6,556.7 293.5,556.7 C296.4,556.7 301.3,559.2 303.3,561.6 C305.3,564.0 305.3,569.7 305.7,571.3" stroke-width="4.3"/>
<path d="M242.3,527.4 C241.5,529.9 237.8,538.0 237.4,542.1 C237.0,546.2 239.5,550.2 239.9,551.8" stroke-width="4.3"/>
<path d="M261.8,556.7 C263.0,556.3 267.1,553.5 269.1,554.3 C271.1,555.1 273.2,560.4 274.0,561.6" stroke-width="3.8"/>
<path d="M264.0,476.0 C265.0,476.7 268.7,478.3 270.0,480.0 C271.3,481.7 271.7,485.0 272.0,486.0" stroke-width="2.9"/>
<path d="M276.0,500.0 C277.0,499.5 280.3,496.5 282.0,497.0 C283.7,497.5 285.3,502.0 286.0,503.0" stroke-width="3.1"/>
<path d="M240.0,445.0 L244.0,450.0" stroke-width="2.9"/>
<path d="M248.0,438.0 L251.0,444.0" stroke-width="2.4"/>
<path d="M335.9,473.8 C337.5,472.8 342.0,469.1 345.6,467.7 C349.2,466.3 354.5,465.1 357.8,465.3 C361.1,465.5 361.5,468.3 365.2,468.9 C368.9,469.5 375.7,471.8 379.8,468.9 C383.9,466.0 386.0,455.7 389.6,451.8 C393.2,447.9 398.4,446.1 401.7,445.7 C404.9,445.3 407.9,448.8 409.1,449.4" stroke-width="5.3"/>
<path d="M431.0,466.5 C429.8,467.7 425.3,471.0 423.7,473.8 C422.1,476.6 420.9,480.6 421.3,483.5 C421.7,486.4 425.3,489.7 426.1,490.9" stroke-width="4.8"/>
<path d="M431.0,503.2 C429.1,504.3 422.6,508.1 419.6,509.8 C416.6,511.5 414.7,511.4 412.9,513.1 C411.1,514.8 409.6,517.9 408.8,519.8 C408.0,521.7 408.0,523.9 407.9,524.7" stroke-width="4.8"/>
<path d="M330.0,486.6 C331.1,486.1 334.9,484.7 336.6,483.3 C338.3,481.9 339.4,479.1 340.0,478.3" stroke-width="4.3"/>
<path d="M351.6,483.3 C352.4,482.2 354.0,478.3 356.5,476.6 C359.0,474.9 363.7,473.6 366.5,473.3 C369.3,473.0 372.0,474.7 373.1,475.0" stroke-width="4.3"/>
<path d="M376.4,488.2 C377.8,487.8 381.6,486.1 384.7,485.8 C387.8,485.5 391.9,485.4 394.7,486.6 C397.5,487.8 400.2,492.1 401.3,493.2" stroke-width="4.3"/>
<path d="M358.2,518.1 C358.6,516.7 359.4,511.7 360.7,509.8 C361.9,507.9 364.9,507.1 365.7,506.5" stroke-width="4.1"/>
<path d="M386.4,529.7 C387.1,528.3 388.9,522.9 390.5,521.4 C392.1,519.9 394.5,520.0 396.3,520.6 C398.1,521.2 400.5,524.0 401.3,524.7" stroke-width="4.3"/>
<path d="M330.0,534.7 C331.1,534.2 334.4,532.6 336.6,531.4 C338.8,530.1 340.8,528.0 343.3,527.2 C345.8,526.4 350.2,526.5 351.6,526.4" stroke-width="4.6"/>
<path d="M349.9,551.3 C351.0,550.7 354.3,548.2 356.5,547.9 C358.7,547.6 361.8,548.5 363.2,549.6 C364.6,550.7 364.5,553.8 364.8,554.6" stroke-width="4.3"/>
<path d="M371.5,559.6 C372.9,559.3 377.9,557.4 379.8,557.9 C381.7,558.4 382.6,562.1 383.1,562.9" stroke-width="4.1"/>
<path d="M412.9,547.9 C414.0,549.6 417.1,555.4 419.6,557.9 C422.1,560.4 426.4,562.1 427.8,562.9" stroke-width="4.1"/>
<path d="M340.0,541.3 L333.3,536.3" stroke-width="3.4"/>
<path d="M331.0,432.3 L333.4,461.6" stroke-width="3.4"/>
<path d="M366.0,489.0 C367.0,488.5 370.2,485.7 372.0,486.0 C373.8,486.3 376.2,490.2 377.0,491.0" stroke-width="2.9"/>
<path d="M378.0,503.0 L386.0,507.0" stroke-width="2.9"/>
<path d="M340.0,440.0 C340.7,439.7 342.8,437.7 344.0,438.0 C345.2,438.3 346.5,441.3 347.0,442.0" stroke-width="2.4"/>
<path d="M358.0,437.0 C358.2,435.8 360.8,434.7 362.0,435.0 C363.2,435.3 365.2,437.8 365.0,439.0 C364.8,440.2 362.2,442.3 361.0,442.0 C359.8,441.7 357.8,438.2 358.0,437.0 Z" stroke-width="2.4"/>
</g>
<g fill="none" stroke="#e0e0e0" stroke-linecap="round" filter="url(#glow)">
<path d="M27.0,300.0 C27.2,298.7 28.7,298.7 29.7,299.0 C30.7,299.3 32.6,300.8 33.0,302.0 C33.4,303.2 32.8,305.2 32.0,306.0 C31.2,306.8 29.3,308.0 28.5,307.0 C27.7,306.0 26.8,301.3 27.0,300.0 Z" stroke-width="1.3"/>
<path d="M45.0,312.0 C43.8,313.8 43.2,316.0 43.0,318.0 C42.8,320.0 43.0,322.5 44.0,324.0 C45.0,325.5 47.0,326.7 49.0,327.0 C51.0,327.3 54.5,327.5 56.0,326.0 C57.5,324.5 58.0,320.8 58.0,318.0 C58.0,315.2 57.3,310.8 56.0,309.0 C54.7,307.2 51.8,306.5 50.0,307.0 C48.2,307.5 46.2,310.2 45.0,312.0 Z" stroke-width="1.6"/>
<path d="M82.0,312.0 C81.5,309.8 82.5,307.2 84.0,306.0 C85.5,304.8 88.7,304.2 91.0,304.5 C93.3,304.8 96.7,306.2 98.0,308.0 C99.3,309.8 99.5,313.0 99.0,315.0 C98.5,317.0 97.0,319.2 95.0,320.0 C93.0,320.8 89.2,320.8 87.0,319.5 C84.8,318.2 82.5,314.2 82.0,312.0 Z" stroke-width="1.5"/>
<path d="M102.0,334.3 C103.0,332.6 106.0,327.4 108.0,324.0 C110.0,320.6 112.3,318.8 113.8,313.9 C115.2,309.0 115.7,298.6 116.7,294.9 C117.7,291.2 117.2,292.9 119.6,291.9 C122.0,290.9 129.4,289.5 131.3,289.0" stroke-width="2.0"/>
<path d="M103.5,337.3 L113.8,340.2" stroke-width="1.8"/>
<path d="M122.0,303.0 C123.0,302.5 126.2,300.0 128.0,300.0 C129.8,300.0 132.7,300.0 133.0,303.0 C133.3,306.0 131.5,314.3 130.0,318.0 C128.5,321.7 125.0,323.8 124.0,325.0" stroke-width="1.3"/>
<path d="M38.4,341.7 C40.0,340.6 44.6,336.3 47.9,335.1 C51.2,333.9 55.3,333.5 58.2,334.3 C61.1,335.1 64.3,339.2 65.5,340.2" stroke-width="2.0"/>
<path d="M38.4,341.7 L40.6,356.3" stroke-width="1.4"/>
<path d="M59.6,368.0 C61.3,366.3 66.2,359.5 69.9,357.8 C73.6,356.1 78.4,356.4 81.6,357.8 C84.8,359.2 87.7,363.0 88.9,366.5 C90.1,370.0 88.9,376.9 88.9,379.0" stroke-width="2.0"/>
<path d="M110.1,370.9 C111.2,368.9 113.7,361.5 116.7,359.2 C119.8,356.9 125.2,356.8 128.4,357.0 C131.6,357.2 134.7,360.1 136.0,360.7" stroke-width="2.0"/>
<path d="M110.1,370.9 L112.3,379.0" stroke-width="1.5"/>
<path d="M123.0,357.0 C126.2,356.8 130.7,357.3 133.0,359.0 C135.3,360.7 136.8,363.8 137.0,367.0 C137.2,370.2 136.2,375.4 134.0,378.0 C131.8,380.6 127.5,382.2 124.0,382.5 C120.5,382.8 115.3,382.2 113.0,380.0 C110.7,377.8 109.8,372.3 110.0,369.0 C110.2,365.7 111.8,362.0 114.0,360.0 C116.2,358.0 119.8,357.2 123.0,357.0 Z" stroke-width="2.0"/>
<path d="M26.0,340.0 C26.8,340.3 29.8,340.3 31.0,342.0 C32.2,343.7 33.2,347.3 33.0,350.0 C32.8,352.7 30.5,356.7 30.0,358.0" stroke-width="1.5"/>
<path d="M72.0,342.0 C72.5,341.8 74.2,340.7 75.0,341.0 C75.8,341.3 76.7,343.5 77.0,344.0" stroke-width="1.0"/>
<path d="M170.2,297.8 C170.8,299.3 172.1,303.7 173.9,306.6 C175.7,309.5 178.3,313.4 181.2,315.3 C184.1,317.2 189.7,317.8 191.4,318.3" stroke-width="2.0"/>
<path d="M172.4,291.9 C174.6,291.4 181.7,288.5 185.6,289.0 C189.5,289.5 193.7,292.7 195.8,294.9 C197.9,297.1 197.6,301.0 198.0,302.2" stroke-width="2.0"/>
<path d="M144.6,308.0 L154.9,300.7" stroke-width="1.8"/>
<path d="M206.0,293.4 L217.8,299.2" stroke-width="1.2"/>
<path d="M213.4,316.8 C215.5,316.5 221.6,315.7 226.0,315.0 C230.4,314.3 237.7,312.8 240.0,312.4" stroke-width="1.8"/>
<path d="M145.0,344.0 C145.8,342.8 147.8,338.3 150.0,337.0 C152.2,335.7 156.0,335.0 158.0,336.0 C160.0,337.0 161.7,340.3 162.0,343.0 C162.3,345.7 161.7,349.8 160.0,352.0 C158.3,354.2 153.3,355.3 152.0,356.0" stroke-width="1.4"/>
<path d="M172.0,344.0 C172.7,342.7 174.0,337.6 176.0,336.0 C178.0,334.4 181.9,333.8 184.0,334.5 C186.1,335.2 188.2,337.9 188.5,340.0 C188.8,342.1 186.4,345.8 186.0,347.0" stroke-width="1.4"/>
<path d="M161.0,353.4 C161.0,352.0 163.5,349.9 166.0,349.2 C168.5,348.5 173.5,348.4 176.0,349.0 C178.5,349.6 180.8,351.1 181.0,352.5 C181.2,353.9 179.5,356.6 177.0,357.5 C174.5,358.4 168.7,358.5 166.0,357.8 C163.3,357.1 161.0,354.8 161.0,353.4 Z" stroke-width="1.7"/>
<path d="M173.9,356.3 C174.8,356.6 177.5,357.0 179.0,358.0 C180.5,359.0 182.1,361.4 182.7,362.1" stroke-width="1.5"/>
<path d="M198.8,357.8 C199.8,356.8 202.8,353.7 205.0,352.0 C207.2,350.3 208.8,349.7 211.9,347.5 C215.0,345.3 220.2,340.6 223.6,338.7 C227.0,336.8 229.7,335.3 232.4,335.8 C235.1,336.3 238.7,340.7 240.0,341.7" stroke-width="2.0"/>
<path d="M200.2,362.1 C201.8,361.2 207.1,358.2 210.0,357.0 C212.9,355.8 216.5,355.2 217.8,354.8" stroke-width="1.4"/>
<path d="M130.0,360.7 C130.8,361.6 133.8,363.3 135.0,366.0 C136.2,368.7 136.9,375.0 137.3,376.8" stroke-width="1.6"/>
<path d="M214.0,380.0 C215.0,379.7 218.7,377.3 220.0,378.0 C221.3,378.7 221.7,383.0 222.0,384.0" stroke-width="1.2"/>
<path d="M228.0,385.0 C229.3,383.8 232.7,383.0 234.0,384.0 C235.3,385.0 236.7,389.0 236.0,391.0 C235.3,393.0 231.7,396.0 230.0,396.0 C228.3,396.0 226.3,392.8 226.0,391.0 C225.7,389.2 226.7,386.2 228.0,385.0 Z" stroke-width="1.3"/>
<path d="M109.4,375.0 C110.1,376.0 111.1,379.8 113.8,380.9 C116.5,382.0 122.1,382.3 125.5,381.6 C128.9,380.9 132.8,377.4 134.2,376.5" stroke-width="2.0"/>
<path d="M46.5,418.9 C47.5,417.4 48.4,412.4 52.3,410.1 C56.2,407.8 65.8,406.1 69.9,405.0 C74.1,403.9 74.3,402.9 77.2,403.5 C80.1,404.1 85.7,407.8 87.4,408.6" stroke-width="2.0"/>
<path d="M99.1,399.9 C101.0,399.4 107.1,397.1 110.8,396.9 C114.5,396.6 118.9,397.2 121.1,398.4 C123.3,399.6 124.2,401.9 124.0,404.3 C123.8,406.7 121.1,410.8 119.6,413.0 C118.1,415.2 115.0,414.0 115.2,417.4 C115.5,420.8 119.1,429.1 121.1,433.5 C123.0,437.9 126.2,441.4 126.9,443.8 C127.6,446.2 125.7,447.4 125.5,448.1" stroke-width="2.0"/>
<path d="M68.4,434.3 C69.8,434.5 72.5,434.9 73.5,436.0 C74.5,437.1 74.9,439.6 74.3,441.0 C73.7,442.4 71.7,444.2 70.0,444.5 C68.3,444.8 65.2,444.1 64.0,443.0 C62.8,441.9 62.6,439.4 62.8,438.0 C63.0,436.6 64.1,435.4 65.0,434.8 C65.9,434.2 67.0,434.1 68.4,434.3 Z" stroke-width="1.4"/>
<path d="M31.9,456.9 C32.1,454.2 31.3,444.7 33.3,440.8 C35.2,436.9 41.2,434.5 43.6,433.5 C46.0,432.5 47.2,434.8 47.9,435.0" stroke-width="2.2"/>
<path d="M34.0,459.0 L43.0,461.0" stroke-width="1.6"/>
<path d="M103.0,423.0 C103.8,422.8 106.7,421.3 108.0,422.0 C109.3,422.7 111.0,425.5 111.0,427.0 C111.0,428.5 108.5,430.3 108.0,431.0" stroke-width="1.5"/>
<path d="M31.9,382.3 L33.3,392.6" stroke-width="1.5"/>
<path d="M34.8,404.3 L43.6,410.1" stroke-width="1.4"/>
<path d="M96.2,455.5 C96.7,453.9 98.0,448.7 99.0,446.0 C100.0,443.3 101.6,440.5 102.1,439.4" stroke-width="1.5"/>
<path d="M156.3,418.9 C157.3,419.1 159.3,418.6 162.2,420.3 C165.1,422.0 169.5,426.9 173.9,429.1 C178.3,431.3 184.3,432.3 188.5,433.5 C192.7,434.7 195.9,435.4 198.8,436.4 C201.7,437.4 205.3,437.4 206.0,439.4 C206.7,441.3 205.3,445.2 203.1,448.1 C200.9,451.0 196.8,454.8 192.9,456.9 C189.0,459.0 183.8,460.4 179.7,460.6 C175.5,460.9 171.0,460.0 168.0,458.4 C165.0,456.8 162.7,454.0 161.5,451.1 C160.3,448.2 160.8,442.5 160.7,440.8" stroke-width="1.8"/>
<path d="M181.2,386.7 C181.9,386.2 184.4,382.8 185.6,383.8 C186.8,384.8 187.5,389.2 188.5,392.6 C189.5,396.0 190.2,401.4 191.4,404.3 C192.6,407.2 195.1,409.1 195.8,410.1" stroke-width="2.0"/>
<path d="M163.6,377.9 C164.3,377.7 166.8,376.2 168.0,376.5 C169.2,376.8 170.5,378.9 171.0,379.4" stroke-width="1.5"/>
<path d="M210.5,378.0 C210.8,379.3 210.8,384.3 212.0,386.0 C213.2,387.7 216.8,387.8 217.8,388.2" stroke-width="1.3"/>
<path d="M230.9,433.0 C231.4,432.4 232.5,430.0 234.0,429.5 C235.5,429.0 239.0,429.9 240.0,430.0" stroke-width="1.6"/>
<path d="M137.3,413.0 L140.2,423.3" stroke-width="1.5"/>
<path d="M141.0,412.0 L148.0,410.0" stroke-width="1.3"/>
<path d="M151.0,433.0 C151.4,432.7 152.7,430.7 153.4,431.0 C154.2,431.3 155.6,433.9 155.5,435.0 C155.4,436.1 153.4,437.1 153.0,437.5" stroke-width="1.4"/>
<path d="M148.5,449.0 C148.8,449.4 149.9,450.1 150.5,451.1 C151.1,452.1 151.8,454.4 152.0,455.0" stroke-width="1.4"/>
<path d="M194.4,417.4 L195.8,423.3" stroke-width="1.5"/>
<path d="M54.1,467.5 C56.3,468.8 63.8,472.5 67.2,475.0 C70.6,477.5 72.9,480.0 74.6,482.5 C76.3,485.0 76.9,488.7 77.4,489.9" stroke-width="2.0"/>
<path d="M26.0,489.9 C27.9,490.5 33.2,492.6 37.2,493.7 C41.2,494.8 46.5,496.2 50.3,496.5 C54.0,496.8 58.1,495.7 59.7,495.5" stroke-width="1.7"/>
<path d="M26.0,514.3 C27.2,514.6 31.6,514.5 33.5,516.1 C35.4,517.7 36.6,522.4 37.2,523.6" stroke-width="1.8"/>
<path d="M50.3,521.7 C52.5,522.0 60.0,521.7 63.4,523.6 C66.8,525.5 69.0,529.6 70.9,533.0 C72.8,536.4 73.7,540.2 74.6,544.2 C75.5,548.2 76.8,554.3 76.5,557.3 C76.2,560.3 73.4,561.2 72.8,562.0" stroke-width="2.0"/>
<path d="M108.3,497.4 C109.2,498.6 112.3,501.8 113.9,504.9 C115.5,508.0 116.8,511.1 117.7,516.1 C118.6,521.1 119.8,529.5 119.5,534.8 C119.2,540.1 115.8,544.5 115.8,547.9 C115.8,551.3 118.9,554.1 119.5,555.4" stroke-width="1.8"/>
<path d="M82.1,504.0 C82.6,503.8 84.1,502.5 85.0,503.0 C85.9,503.5 87.9,505.9 87.7,507.0 C87.5,508.1 84.6,509.2 84.0,509.6" stroke-width="1.4"/>
<path d="M44.7,512.0 C45.2,511.2 46.4,507.7 48.0,507.0 C49.6,506.3 53.3,506.7 54.1,508.0 C54.9,509.3 53.2,513.8 53.0,515.0" stroke-width="1.5"/>
<path d="M78.4,460.0 L82.1,475.0" stroke-width="1.6"/>
<path d="M31.6,564.8 C33.0,564.6 36.9,563.5 40.0,563.5 C43.1,563.5 48.6,564.6 50.3,564.8" stroke-width="1.6"/>
<path d="M92.0,540.0 C93.0,539.3 96.0,535.8 98.0,536.0 C100.0,536.2 103.0,540.2 104.0,541.0" stroke-width="1.3"/>
<path d="M165.5,510.5 C167.1,509.2 169.3,504.7 174.9,503.0 C180.5,501.3 194.2,500.3 199.2,500.2 C204.2,500.1 203.9,501.8 204.8,502.1" stroke-width="2.0"/>
<path d="M204.8,502.1 C205.7,505.1 208.8,514.5 210.4,519.9 C212.0,525.3 213.6,532.3 214.2,534.8" stroke-width="1.5"/>
<path d="M150.6,525.5 C151.8,524.9 154.4,521.7 158.1,521.7 C161.8,521.7 170.2,523.6 173.0,525.5 C175.8,527.4 174.6,531.8 174.9,533.0" stroke-width="1.7"/>
<path d="M150.6,525.5 C150.8,526.8 150.8,531.4 152.0,533.0 C153.2,534.6 157.0,534.7 158.0,535.0" stroke-width="1.4"/>
<path d="M162.7,547.9 C164.1,547.0 168.7,542.0 171.2,542.3 C173.7,542.6 177.1,547.9 177.7,549.8 C178.3,551.7 175.4,552.9 174.9,553.5" stroke-width="1.7"/>
<path d="M223.5,561.0 C224.8,559.8 228.2,555.0 231.0,553.5 C233.8,552.0 238.5,552.0 240.0,551.7" stroke-width="2.0"/>
<path d="M231.0,531.1 C231.6,529.5 233.3,524.2 234.8,521.7 C236.3,519.2 239.1,517.0 240.0,516.1" stroke-width="1.8"/>
<path d="M234.8,488.1 L240.0,497.4" stroke-width="1.6"/>
<path d="M231.0,460.0 L234.8,469.4" stroke-width="1.4"/>
<path d="M186.1,553.5 L193.6,561.0" stroke-width="1.5"/>
<path d="M201.1,471.2 C203.0,473.7 209.5,485.6 212.3,486.2 C215.1,486.8 217.0,476.9 217.9,475.0" stroke-width="1.4"/>
<path d="M140.0,470.0 C141.7,471.7 146.7,478.7 150.0,480.0 C153.3,481.3 158.3,478.3 160.0,478.0" stroke-width="1.2"/>
<path d="M300.9,449.4 C300.5,447.0 303.3,440.4 305.7,437.2 C308.1,433.9 311.4,431.1 315.5,429.9 C319.6,428.7 327.2,427.5 330.1,429.9 C333.0,432.3 333.4,440.9 332.6,444.5 C331.8,448.1 329.3,450.6 325.2,451.8 C321.1,453.0 312.2,452.2 308.2,451.8 C304.1,451.4 301.3,451.8 300.9,449.4 Z" stroke-width="2.0"/>
<path d="M316.7,436.0 C317.8,435.8 319.5,436.9 320.0,438.0 C320.5,439.1 320.3,441.7 319.5,442.5 C318.7,443.3 316.0,443.5 315.0,443.0 C314.0,442.5 313.2,440.7 313.5,439.5 C313.8,438.3 315.6,436.2 316.7,436.0 Z" stroke-width="1.2"/>
<path d="M315.5,457.0 C317.2,457.2 320.1,459.2 321.0,461.0 C321.9,462.8 321.9,466.2 321.0,468.0 C320.1,469.8 317.2,471.8 315.5,471.5 C313.8,471.2 311.2,467.9 310.5,466.0 C309.8,464.1 310.2,461.5 311.0,460.0 C311.8,458.5 313.8,456.8 315.5,457.0 Z" stroke-width="1.5"/>
<path d="M271.6,431.8 C272.6,431.8 274.6,433.8 274.6,434.8 C274.6,435.8 272.6,437.8 271.6,437.8 C270.6,437.8 268.6,435.8 268.6,434.8 C268.6,433.8 270.6,431.8 271.6,431.8 Z" stroke-width="1.1"/>
<path d="M252.1,464.0 C253.3,464.0 257.4,462.4 259.4,464.0 C261.4,465.6 263.5,472.2 264.3,473.8" stroke-width="1.8"/>
<path d="M335.0,483.5 C333.0,484.7 325.7,488.0 322.8,490.9 C319.9,493.8 317.9,498.2 317.9,500.6 C317.9,503.0 322.0,504.7 322.8,505.5" stroke-width="2.0"/>
<path d="M239.9,522.6 C242.3,522.6 250.4,521.8 254.5,522.6 C258.6,523.4 259.4,526.6 264.3,527.4 C269.2,528.2 277.7,528.2 283.8,527.4 C289.9,526.6 295.6,523.6 300.9,522.6 C306.2,521.6 309.8,521.7 315.5,521.3 C321.2,520.9 331.8,520.3 335.0,520.1" stroke-width="2.0"/>
<path d="M288.7,532.3 C291.1,533.1 299.2,535.6 303.3,537.2 C307.4,538.8 308.9,541.7 313.0,542.1 C317.1,542.5 325.2,540.0 327.7,539.6" stroke-width="1.6"/>
<path d="M235.0,486.0 L242.3,493.3" stroke-width="1.6"/>
<path d="M286.2,561.6 C287.4,560.8 290.6,556.7 293.5,556.7 C296.4,556.7 301.3,559.2 303.3,561.6 C305.3,564.0 305.3,569.7 305.7,571.3" stroke-width="1.8"/>
<path d="M242.3,527.4 C241.5,529.9 237.8,538.0 237.4,542.1 C237.0,546.2 239.5,550.2 239.9,551.8" stroke-width="1.8"/>
<path d="M261.8,556.7 C263.0,556.3 267.1,553.5 269.1,554.3 C271.1,555.1 273.2,560.4 274.0,561.6" stroke-width="1.6"/>
<path d="M264.0,476.0 C265.0,476.7 268.7,478.3 270.0,480.0 C271.3,481.7 271.7,485.0 272.0,486.0" stroke-width="1.2"/>
<path d="M276.0,500.0 C277.0,499.5 280.3,496.5 282.0,497.0 C283.7,497.5 285.3,502.0 286.0,503.0" stroke-width="1.3"/>
<path d="M240.0,445.0 L244.0,450.0" stroke-width="1.2"/>
<path d="M248.0,438.0 L251.0,444.0" stroke-width="1.0"/>
<path d="M335.9,473.8 C337.5,472.8 342.0,469.1 345.6,467.7 C349.2,466.3 354.5,465.1 357.8,465.3 C361.1,465.5 361.5,468.3 365.2,468.9 C368.9,469.5 375.7,471.8 379.8,468.9 C383.9,466.0 386.0,455.7 389.6,451.8 C393.2,447.9 398.4,446.1 401.7,445.7 C404.9,445.3 407.9,448.8 409.1,449.4" stroke-width="2.2"/>
<path d="M431.0,466.5 C429.8,467.7 425.3,471.0 423.7,473.8 C422.1,476.6 420.9,480.6 421.3,483.5 C421.7,486.4 425.3,489.7 426.1,490.9" stroke-width="2.0"/>
<path d="M431.0,503.2 C429.1,504.3 422.6,508.1 419.6,509.8 C416.6,511.5 414.7,511.4 412.9,513.1 C411.1,514.8 409.6,517.9 408.8,519.8 C408.0,521.7 408.0,523.9 407.9,524.7" stroke-width="2.0"/>
<path d="M330.0,486.6 C331.1,486.1 334.9,484.7 336.6,483.3 C338.3,481.9 339.4,479.1 340.0,478.3" stroke-width="1.8"/>
<path d="M351.6,483.3 C352.4,482.2 354.0,478.3 356.5,476.6 C359.0,474.9 363.7,473.6 366.5,473.3 C369.3,473.0 372.0,474.7 373.1,475.0" stroke-width="1.8"/>
<path d="M376.4,488.2 C377.8,487.8 381.6,486.1 384.7,485.8 C387.8,485.5 391.9,485.4 394.7,486.6 C397.5,487.8 400.2,492.1 401.3,493.2" stroke-width="1.8"/>
<path d="M358.2,518.1 C358.6,516.7 359.4,511.7 360.7,509.8 C361.9,507.9 364.9,507.1 365.7,506.5" stroke-width="1.7"/>
<path d="M386.4,529.7 C387.1,528.3 388.9,522.9 390.5,521.4 C392.1,519.9 394.5,520.0 396.3,520.6 C398.1,521.2 400.5,524.0 401.3,524.7" stroke-width="1.8"/>
<path d="M330.0,534.7 C331.1,534.2 334.4,532.6 336.6,531.4 C338.8,530.1 340.8,528.0 343.3,527.2 C345.8,526.4 350.2,526.5 351.6,526.4" stroke-width="1.9"/>
<path d="M349.9,551.3 C351.0,550.7 354.3,548.2 356.5,547.9 C358.7,547.6 361.8,548.5 363.2,549.6 C364.6,550.7 364.5,553.8 364.8,554.6" stroke-width="1.8"/>
<path d="M371.5,559.6 C372.9,559.3 377.9,557.4 379.8,557.9 C381.7,558.4 382.6,562.1 383.1,562.9" stroke-width="1.7"/>
<path d="M412.9,547.9 C414.0,549.6 417.1,555.4 419.6,557.9 C422.1,560.4 426.4,562.1 427.8,562.9" stroke-width="1.7"/>
<path d="M340.0,541.3 L333.3,536.3" stroke-width="1.4"/>
<path d="M331.0,432.3 L333.4,461.6" stroke-width="1.4"/>
<path d="M366.0,489.0 C367.0,488.5 370.2,485.7 372.0,486.0 C373.8,486.3 376.2,490.2 377.0,491.0" stroke-width="1.2"/>
<path d="M378.0,503.0 L386.0,507.0" stroke-width="1.2"/>
<path d="M340.0,440.0 C340.7,439.7 342.8,437.7 344.0,438.0 C345.2,438.3 346.5,441.3 347.0,442.0" stroke-width="1.0"/>
<path d="M358.0,437.0 C358.2,435.8 360.8,434.7 362.0,435.0 C363.2,435.3 365.2,437.8 365.0,439.0 C364.8,440.2 362.2,442.3 361.0,442.0 C359.8,441.7 357.8,438.2 358.0,437.0 Z" stroke-width="1.0"/>
</g>
</g>
<rect x="26" y="572" width="405" height="20" fill="#000"/>
<text x="30.2" y="586.8" font-family='"Liberation Sans", sans-serif' font-size="12.4" font-weight="normal" fill="#e6e6e6" text-anchor="start" textLength="274.5" lengthAdjust="spacingAndGlyphs" >Regulus 5.0kV 9.5mm x697 SE(U) 01/19/2024 10:13</text>
<text x="378.0" y="587.4" font-family='"Liberation Sans", sans-serif' font-size="12.4" font-weight="normal" fill="#e6e6e6" text-anchor="start" textLength="38.5" lengthAdjust="spacingAndGlyphs" >50.0µm</text>
<rect x="310.0" y="572" width="1" height="5" fill="#e6e6e6"/>
<rect x="321.8" y="572" width="1" height="4" fill="#e6e6e6"/>
<rect x="333.5" y="572" width="1" height="4" fill="#e6e6e6"/>
<rect x="345.2" y="572" width="1" height="4" fill="#e6e6e6"/>
<rect x="357.0" y="572" width="1" height="4" fill="#e6e6e6"/>
<rect x="368.8" y="572" width="1" height="5" fill="#e6e6e6"/>
<rect x="380.5" y="572" width="1" height="4" fill="#e6e6e6"/>
<rect x="392.2" y="572" width="1" height="4" fill="#e6e6e6"/>
<rect x="404.0" y="572" width="1" height="4" fill="#e6e6e6"/>
<rect x="415.8" y="572" width="1" height="4" fill="#e6e6e6"/>
<rect x="427.5" y="572" width="1" height="5" fill="#e6e6e6"/>
<rect x="240" y="282" width="200" height="145" fill="#fff"/>
<rect x="243" y="282" width="191" height="141" fill="#e8eff8"/>
<clipPath id="insclip"><rect x="243" y="282" width="191" height="141"/></clipPath>
<g clip-path="url(#insclip)"><g filter="url(#soft)">
<path d="M243,280 L300,280 C301.8,283.2 307.7,292.2 310.7,299.5 C313.7,306.8 316.4,314.9 318.0,323.9 C319.6,332.8 320.5,343.4 320.5,353.2 C320.5,362.9 319.6,373.5 318.0,382.4 C316.4,391.3 313.3,399.9 310.7,406.8 C308.1,413.7 303.8,420.7 302.2,423.9 C300.6,427.1 301.2,425.6 301.0,426.0 L243,426 Z" fill="#c5e0b4"/>
<path d="M243,280 L241.5,281 C244.5,282.5 254.5,285.9 259.5,289.8 C264.5,293.7 268.0,298.7 271.7,304.4 C275.4,310.1 279.0,317.4 281.5,323.9 C284.0,330.4 285.8,338.1 286.8,343.4 C287.8,348.7 287.9,350.3 287.6,355.6 C287.3,360.9 286.5,369.0 285.1,375.1 C283.7,381.2 282.1,386.5 279.0,392.2 C275.9,397.9 271.3,404.4 266.8,409.3 C262.3,414.2 256.2,419.0 252.2,421.5 C248.2,424.0 244.5,424.0 243.0,424.5 L243,426 Z" fill="#6e6e6e"/>
<g fill="none" stroke="#f4b183" stroke-width="0.9">
<path d="M280.2,311 C285,308 290,312 296,309.5 C302,307 306,311 313.2,309"/>
<path d="M295.6,305.5 L295,310"/><path d="M288.8,320 L291,311"/><path d="M306.3,321.5 L304,310"/>
<path d="M283.9,381 C289,378 294,382 300,379.5 C306,377 310,381 316.8,379"/>
<path d="M290.7,375 L291,380"/><path d="M309,374 L307,380"/><path d="M299.8,387.3 L299,380.5"/>
</g>
<ellipse cx="290" cy="291" rx="3.3" ry="5.8" transform="rotate(-15 290 291)" fill="#9dc3e6" stroke="#5b9bd5" stroke-width="0.6"/>
<ellipse cx="291.7" cy="334.9" rx="3.3" ry="5.8" transform="rotate(-5 291.7 334.9)" fill="#9dc3e6" stroke="#5b9bd5" stroke-width="0.6"/>
<ellipse cx="308.3" cy="332.4" rx="3.3" ry="5.8" transform="rotate(-15 308.3 332.4)" fill="#9dc3e6" stroke="#5b9bd5" stroke-width="0.6"/>
<ellipse cx="293.7" cy="359.3" rx="3.3" ry="5.8" transform="rotate(5 293.7 359.3)" fill="#9dc3e6" stroke="#5b9bd5" stroke-width="0.6"/>
<ellipse cx="310.7" cy="358" rx="3.3" ry="5.8" transform="rotate(15 310.7 358)" fill="#9dc3e6" stroke="#5b9bd5" stroke-width="0.6"/>
<ellipse cx="292.4" cy="401.5" rx="3.3" ry="5.8" transform="rotate(20 292.4 401.5)" fill="#9dc3e6" stroke="#5b9bd5" stroke-width="0.6"/>
<ellipse cx="330.2" cy="311.7" rx="6.3" ry="3.9" transform="rotate(-15 330.2 311.7)" fill="#9dc3e6" stroke="#5b9bd5" stroke-width="0.6"/>
<ellipse cx="394.9" cy="338.5" rx="6.3" ry="3.9" transform="rotate(-30 394.9 338.5)" fill="#9dc3e6" stroke="#5b9bd5" stroke-width="0.6"/>
<ellipse cx="379.3" cy="373.4" rx="6.3" ry="3.9" transform="rotate(25 379.3 373.4)" fill="#9dc3e6" stroke="#5b9bd5" stroke-width="0.6"/>
<ellipse cx="388.3" cy="309.8" rx="3.4" ry="6.2" transform="rotate(0 388.3 309.8)" fill="#9dc3e6" stroke="#5b9bd5" stroke-width="0.6"/>
<circle cx="295.6" cy="302" r="3.7" fill="#fbe3b2"/>
<path d="M293.90000000000003,302 h3.4 M295.6,300.3 v3.4" stroke="#fff" stroke-width="0.8"/>
<circle cx="288.8" cy="323.4" r="3.7" fill="#fbe3b2"/>
<path d="M287.1,323.4 h3.4 M288.8,321.7 v3.4" stroke="#fff" stroke-width="0.8"/>
<circle cx="306.3" cy="325.1" r="3.7" fill="#fbe3b2"/>
<path d="M304.6,325.1 h3.4 M306.3,323.40000000000003 v3.4" stroke="#fff" stroke-width="0.8"/>
<circle cx="290.7" cy="371.5" r="3.7" fill="#fbe3b2"/>
<path d="M289.0,371.5 h3.4 M290.7,369.8 v3.4" stroke="#fff" stroke-width="0.8"/>
<circle cx="309" cy="370.7" r="3.7" fill="#fbe3b2"/>
<path d="M307.3,370.7 h3.4 M309,369.0 v3.4" stroke="#fff" stroke-width="0.8"/>
<circle cx="299.8" cy="391" r="3.7" fill="#fbe3b2"/>
<path d="M298.1,391 h3.4 M299.8,389.3 v3.4" stroke="#fff" stroke-width="0.8"/>
<line x1="294" y1="346.2" x2="312.5" y2="346" stroke="#5a9a3a" stroke-width="0.7"/>
<polygon points="293,346.2 295.5,344.8 295.5,347.6" fill="#5a9a3a"/><polygon points="313.5,346 311,344.6 311,347.4" fill="#5a9a3a"/>
<line x1="315.6" y1="346" x2="311" y2="352.5" stroke="#3a6a2a" stroke-width="0.5"/>
<circle cx="290.7" cy="346.3" r="1.9" fill="#c00000"/><circle cx="315.6" cy="345.9" r="1.9" fill="#c00000"/>
<path d="M269.3,371.5 C271,369 273,370 274,372.5 C276,376 280,374 283,377" fill="none" stroke="#e8d020" stroke-width="1.1"/>
<path d="M257,392.2 C259,389.5 261,390.5 262.5,393 C264,396 268,395 271,400.5" fill="none" stroke="#e8d020" stroke-width="1.1"/>
<circle cx="285.1" cy="378" r="2.4" fill="#e02020"/>
<circle cx="285.1" cy="378" r="1.2" fill="none" stroke="#fff" stroke-width="0.5"/>
<circle cx="272.9" cy="402.4" r="2.4" fill="#e02020"/>
<circle cx="272.9" cy="402.4" r="1.2" fill="none" stroke="#fff" stroke-width="0.5"/>
<text x="262.4" y="352.1" font-family='"Liberation Sans", sans-serif' font-size="7.2" font-weight="bold" fill="#fff" text-anchor="middle" textLength="28.0" lengthAdjust="spacingAndGlyphs" >electrode</text>
<text x="262.4" y="360.4" font-family='"Liberation Sans", sans-serif' font-size="7.2" font-weight="bold" fill="#fff" text-anchor="middle" textLength="27.0" lengthAdjust="spacingAndGlyphs" >materials</text>
<ellipse cx="322.6" cy="288" rx="6.7" ry="2.9" transform="rotate(10 322.6 288)" fill="#b0adaa"/>
<ellipse cx="407.3" cy="295.9" rx="6.7" ry="2.7" transform="rotate(65 407.3 295.9)" fill="#b0adaa"/>
<ellipse cx="347.3" cy="313.7" rx="6.7" ry="2.9" transform="rotate(35 347.3 313.7)" fill="#b0adaa"/>
<ellipse cx="415.1" cy="312.2" rx="6.7" ry="2.8" transform="rotate(8 415.1 312.2)" fill="#b0adaa"/>
<ellipse cx="398" cy="325.9" rx="6.7" ry="2.8" transform="rotate(-8 398 325.9)" fill="#b0adaa"/>
<ellipse cx="416.8" cy="332.4" rx="6.7" ry="2.8" transform="rotate(30 416.8 332.4)" fill="#b0adaa"/>
<ellipse cx="324.9" cy="332.4" rx="6.7" ry="2.8" transform="rotate(-60 324.9 332.4)" fill="#b0adaa"/>
<ellipse cx="328.5" cy="339.8" rx="6.7" ry="2.8" transform="rotate(-20 328.5 339.8)" fill="#b0adaa"/>
<ellipse cx="328.5" cy="347.1" rx="6.7" ry="2.8" transform="rotate(10 328.5 347.1)" fill="#b0adaa"/>
<ellipse cx="326.1" cy="357.6" rx="6.7" ry="2.8" transform="rotate(50 326.1 357.6)" fill="#b0adaa"/>
<ellipse cx="392.7" cy="356.8" rx="6.7" ry="2.8" transform="rotate(60 392.7 356.8)" fill="#b0adaa"/>
<ellipse cx="408.3" cy="357.6" rx="6.7" ry="2.8" transform="rotate(-50 408.3 357.6)" fill="#b0adaa"/>
<ellipse cx="420.5" cy="357.6" rx="6.7" ry="2.8" transform="rotate(55 420.5 357.6)" fill="#b0adaa"/>
<ellipse cx="363.9" cy="366.6" rx="6.7" ry="2.8" transform="rotate(30 363.9 366.6)" fill="#b0adaa"/>
<ellipse cx="362.7" cy="386.1" rx="6.7" ry="2.8" transform="rotate(-55 362.7 386.1)" fill="#b0adaa"/>
<ellipse cx="323.7" cy="387.3" rx="6.7" ry="2.8" transform="rotate(-30 323.7 387.3)" fill="#b0adaa"/>
<ellipse cx="339" cy="393.4" rx="6.7" ry="2.8" transform="rotate(20 339 393.4)" fill="#b0adaa"/>
<ellipse cx="420" cy="386.1" rx="6.7" ry="2.8" transform="rotate(-30 420 386.1)" fill="#b0adaa"/>
<ellipse cx="356.1" cy="409.3" rx="6.7" ry="2.8" transform="rotate(85 356.1 409.3)" fill="#b0adaa"/>
<ellipse cx="387.1" cy="417.8" rx="6.7" ry="2.8" transform="rotate(-5 387.1 417.8)" fill="#b0adaa"/>
<ellipse cx="411.5" cy="416.6" rx="6.7" ry="2.8" transform="rotate(55 411.5 416.6)" fill="#b0adaa"/>
<ellipse cx="331" cy="402" rx="6.7" ry="2.8" transform="rotate(-50 331 402)" fill="#b0adaa"/>
<ellipse cx="312" cy="398" rx="6.7" ry="2.8" transform="rotate(60 312 398)" fill="#b0adaa"/>
<ellipse cx="369.8" cy="293.4" rx="5.8" ry="2.5" transform="rotate(-60 369.8 293.4)" fill="#b3b0ad"/>
<ellipse cx="372.4" cy="303.0" rx="5.8" ry="2.5" transform="rotate(30 372.4 303.0)" fill="#b3b0ad"/>
<ellipse cx="362.8" cy="305.6" rx="5.8" ry="2.5" transform="rotate(120 362.8 305.6)" fill="#b3b0ad"/>
<ellipse cx="360.2" cy="296.0" rx="5.8" ry="2.5" transform="rotate(210 360.2 296.0)" fill="#b3b0ad"/>
<circle cx="366.3" cy="299.5" r="1.9" fill="#c00000"/>
<ellipse cx="377.6" cy="333.7" rx="5.8" ry="2.5" transform="rotate(-60 377.6 333.7)" fill="#b3b0ad"/>
<ellipse cx="380.2" cy="343.3" rx="5.8" ry="2.5" transform="rotate(30 380.2 343.3)" fill="#b3b0ad"/>
<ellipse cx="370.6" cy="345.9" rx="5.8" ry="2.5" transform="rotate(120 370.6 345.9)" fill="#b3b0ad"/>
<ellipse cx="368.0" cy="336.3" rx="5.8" ry="2.5" transform="rotate(210 368.0 336.3)" fill="#b3b0ad"/>
<circle cx="374.1" cy="339.8" r="1.9" fill="#c00000"/>
<ellipse cx="402.0" cy="385.6" rx="5.8" ry="2.5" transform="rotate(-60 402.0 385.6)" fill="#b3b0ad"/>
<ellipse cx="404.6" cy="395.2" rx="5.8" ry="2.5" transform="rotate(30 404.6 395.2)" fill="#b3b0ad"/>
<ellipse cx="395.0" cy="397.8" rx="5.8" ry="2.5" transform="rotate(120 395.0 397.8)" fill="#b3b0ad"/>
<ellipse cx="392.4" cy="388.2" rx="5.8" ry="2.5" transform="rotate(210 392.4 388.2)" fill="#b3b0ad"/>
<circle cx="398.5" cy="391.7" r="1.9" fill="#c00000"/>
<text x="334.6" y="342.4" font-family='"Liberation Sans", sans-serif' font-size="7.2" font-weight="bold" fill="#e02020" text-anchor="start" textLength="30.5" lengthAdjust="spacingAndGlyphs" >desolvation</text>
<line x1="337" y1="344.6" x2="365" y2="344.6" stroke="#e02020" stroke-width="1" stroke-dasharray="1.6,0.8"/>
<polygon points="334.6,344.6 337.5,343 337.5,346.2" fill="#e02020"/>
<text x="336.4" y="370.9" font-family='"Liberation Sans", sans-serif' font-size="7.2" font-weight="normal" fill="#aaaaaa" text-anchor="middle" textLength="28.0" lengthAdjust="spacingAndGlyphs" >desolvated</text>
<text x="337.6" y="378.2" font-family='"Liberation Sans", sans-serif' font-size="7.2" font-weight="normal" fill="#aaaaaa" text-anchor="middle" textLength="19.5" lengthAdjust="spacingAndGlyphs" >solvent</text>
<text x="309.5" y="418.0" font-family='"Liberation Sans", sans-serif' font-size="7.2" font-weight="normal" fill="#aaaaaa" text-anchor="start" textLength="30.5" lengthAdjust="spacingAndGlyphs" >free solvent</text>
</g></g>
<defs><linearGradient id="ph" x1="0" y1="0" x2="0.3" y2="1"><stop offset="0" stop-color="#c9c9c9"/><stop offset="0.5" stop-color="#c9c9c9"/><stop offset="1" stop-color="#bababa"/></linearGradient><linearGradient id="tw" x1="0" y1="0" x2="0" y2="1"><stop offset="0" stop-color="#4a4a4a"/><stop offset="0.8" stop-color="#5a5a5a"/><stop offset="1" stop-color="#9a9a9a"/></linearGradient></defs>
<rect x="500.1" y="334.7" width="110.8" height="123.9" fill="url(#ph)"/>
<ellipse cx="559.4" cy="388" rx="24.7" ry="28.4" fill="#cbcbcb" stroke="#dedede" stroke-width="1" stroke-dasharray="6,3,2,4"/>
<ellipse cx="559.4" cy="388" rx="23" ry="26.6" fill="none" stroke="#bababa" stroke-width="0.5" stroke-dasharray="8,5"/>
<path d="M500.4,424.4 C504,422 506.5,420.5 508,418.5 C509.5,415.5 510.5,412.5 512.5,411 L515.9,408.4 L543.2,392.6 Q544.4,391.8 545.4,392.6 L553.9,408.7 L552.6,411.4 L522.1,429.3 Q520,430 517.7,428.8 L512.3,428.8 L500.4,435.1 Z" fill="#555"/>
<path d="M545.4,392.6 L553.9,408.7 L552.6,411.4 L547.5,414.3 L539.6,396.5 Z" fill="#606060"/>
<polyline points="500.4,435.8 512.3,429.4 517.7,429.4 522.1,430 552.8,412" fill="none" stroke="#f0f0e8" stroke-width="0.9"/>
<ellipse cx="562.6" cy="386.2" rx="14.5" ry="16.6" stroke="#111" stroke-width="1.7" stroke-dasharray="0.1,2.9" stroke-linecap="round" fill="none"/>
<line x1="562.6" y1="369.6" x2="636.6" y2="313.8" stroke="#111" stroke-width="1.7" stroke-dasharray="0.1,2.9" stroke-linecap="round" fill="none"/>
<line x1="562.6" y1="402.8" x2="636" y2="570" stroke="#111" stroke-width="1.7" stroke-dasharray="0.1,2.9" stroke-linecap="round" fill="none"/>
<rect x="630.2" y="306.6" width="141.6" height="271.8" rx="22" ry="22" fill="none" stroke="#222" stroke-width="1.3" stroke-dasharray="3.6,2.2"/>
<g fill="none" stroke="#5b9bd5" stroke-width="1.45" stroke-linecap="round">
<path d="M636.2,315.6 C640,325 643,333 648.4,333.2 C655,333 662,316 668.9,316.1 C676,316 680,334 686.5,334.1 C693,334 698,322 702.1,315.1"/>
<path d="M648.4,333.2 C652,337 646,341 646.5,343 C645,346 645.5,349 645.5,351"/>
<path d="M686.5,334.1 C690,338 689,345 686.5,347.8 C684,350 681,349 680.6,351"/>
<path d="M727.7,317.1 C729,325 730,337 734.4,337.2 C741,337 748,314 755,313.9 C761,314 766,326 770.6,334.5"/>
<path d="M734.4,337.2 C734,340 734,341 733.5,342.5 C732,346 729,346 728.2,350"/>
<path d="M630.4,451.8 C635,443 639,432 645.5,431.9 C653,432 658,453 666.2,453.4 C673,453 679,433 685.3,433.5 C691,434 696,447 701.2,453.4"/>
<path d="M645.5,431.9 C647,428 648,424 648.5,416"/>
<path d="M685.3,433.5 C686.5,430 684,424 684.5,419"/>
<path d="M666.2,453.4 C666,458 665,460 661,462 C656,464 655.5,466 655,468"/>
<path d="M722,436.7 C724,444 725,453 728.3,453.4 C735,453 739,437.5 744.2,437.5 C750,437.5 754,454 758.6,454.2 C763,454 767,441 770.5,435.9"/>
<path d="M744.2,437.5 C741,436 737,434 735,431 C733,428 733,424 733,422"/>
<path d="M728.3,453.4 C726,456 725,457 723.5,458.2 C720,461 719,464 717.5,467.5"/>
<path d="M758.6,454.2 C761,457 761,459 759,461 C756,463 755.5,465 755.4,469.5"/>
<path d="M636,569 C639,560 641,547.5 645.5,547.5 C652,547.5 655,570 661.4,569.8 C668,569.5 674,556 678.2,549.9"/>
<path d="M645.5,547.5 C648,546 650,543 651,540 C652,538 653,536 654,535"/>
<path d="M697.3,572.2 C702,563 707,553 713.2,553.1 C720,553 725,571.5 731.5,571.4 C738,571 746,554 752.2,553.9 C757,554 760,562 763.4,571.4"/>
<path d="M713.2,553.1 C713,548 712.5,543 712.4,538"/>
<path d="M752.2,553.9 C756,552 760,551 760.2,547 C760.5,544 759,541 758,538"/>
</g>
<line x1="703.3" y1="325.8" x2="719.8" y2="325.8" stroke="#5b9bd5" stroke-width="1.2" stroke-dasharray="1.3,1.3"/>
<polygon points="719.3,323.40000000000003 722.8,325.8 719.3,328.2" fill="#5b9bd5"/>
<line x1="699.4" y1="443.5" x2="716" y2="443.5" stroke="#5b9bd5" stroke-width="1.2" stroke-dasharray="1.3,1.3"/>
<polygon points="715.5,441.1 719,443.5 715.5,445.9" fill="#5b9bd5"/>
<line x1="678.6" y1="560.2" x2="695.1" y2="560.2" stroke="#5b9bd5" stroke-width="1.2" stroke-dasharray="1.3,1.3"/>
<polygon points="694.6,557.8000000000001 698.1,560.2 694.6,562.6" fill="#5b9bd5"/>
<ellipse cx="646.4" cy="371.8" rx="13" ry="5.6" transform="rotate(0 646.4 371.8)" fill="#f4b183"/>
<line x1="644.8" y1="371.8" x2="648.0" y2="371.8" stroke="#fff" stroke-width="1" transform="rotate(0 646.4 371.8)"/>
<ellipse cx="681" cy="371.8" rx="13" ry="5.6" transform="rotate(0 681 371.8)" fill="#f4b183"/>
<line x1="679.4" y1="371.8" x2="682.6" y2="371.8" stroke="#fff" stroke-width="1" transform="rotate(0 681 371.8)"/>
<ellipse cx="729.5" cy="371.8" rx="13" ry="5.6" transform="rotate(0 729.5 371.8)" fill="#f4b183"/>
<line x1="727.9" y1="371.8" x2="731.1" y2="371.8" stroke="#fff" stroke-width="1" transform="rotate(0 729.5 371.8)"/>
<ellipse cx="647" cy="397.3" rx="13" ry="5.6" transform="rotate(0 647 397.3)" fill="#f4b183"/>
<line x1="645.4" y1="397.3" x2="648.6" y2="397.3" stroke="#fff" stroke-width="1" transform="rotate(0 647 397.3)"/>
<ellipse cx="683" cy="397.3" rx="13" ry="5.6" transform="rotate(0 683 397.3)" fill="#f4b183"/>
<line x1="681.4" y1="397.3" x2="684.6" y2="397.3" stroke="#fff" stroke-width="1" transform="rotate(0 683 397.3)"/>
<ellipse cx="731.4" cy="397.3" rx="13" ry="5.6" transform="rotate(0 731.4 397.3)" fill="#f4b183"/>
<line x1="729.8" y1="397.3" x2="733.0" y2="397.3" stroke="#fff" stroke-width="1" transform="rotate(0 731.4 397.3)"/>
<ellipse cx="654.6" cy="487.8" rx="13" ry="5.6" transform="rotate(0 654.6 487.8)" fill="#f4b183"/>
<line x1="653.0" y1="487.8" x2="656.2" y2="487.8" stroke="#fff" stroke-width="1" transform="rotate(0 654.6 487.8)"/>
<ellipse cx="713.7" cy="487.8" rx="13" ry="5.6" transform="rotate(0 713.7 487.8)" fill="#f4b183"/>
<line x1="712.1" y1="487.8" x2="715.3000000000001" y2="487.8" stroke="#fff" stroke-width="1" transform="rotate(0 713.7 487.8)"/>
<ellipse cx="754.9" cy="487.8" rx="13" ry="5.6" transform="rotate(0 754.9 487.8)" fill="#f4b183"/>
<line x1="753.3" y1="487.8" x2="756.5" y2="487.8" stroke="#fff" stroke-width="1" transform="rotate(0 754.9 487.8)"/>
<ellipse cx="656.4" cy="515.9" rx="13" ry="5.6" transform="rotate(0 656.4 515.9)" fill="#f4b183"/>
<line x1="654.8" y1="515.9" x2="658.0" y2="515.9" stroke="#fff" stroke-width="1" transform="rotate(0 656.4 515.9)"/>
<ellipse cx="713.2" cy="515.9" rx="13" ry="5.6" transform="rotate(0 713.2 515.9)" fill="#f4b183"/>
<line x1="711.6" y1="515.9" x2="714.8000000000001" y2="515.9" stroke="#fff" stroke-width="1" transform="rotate(0 713.2 515.9)"/>
<ellipse cx="754.9" cy="515.9" rx="13" ry="5.6" transform="rotate(0 754.9 515.9)" fill="#f4b183"/>
<line x1="753.3" y1="515.9" x2="756.5" y2="515.9" stroke="#fff" stroke-width="1" transform="rotate(0 754.9 515.9)"/>
<ellipse cx="663.8" cy="349.6" rx="13" ry="5.4" transform="rotate(-30 663.8 349.6)" fill="#f4b183"/>
<line x1="662.1999999999999" y1="349.6" x2="665.4" y2="349.6" stroke="#fff" stroke-width="1" transform="rotate(-30 663.8 349.6)"/>
<ellipse cx="711.2" cy="363.1" rx="13" ry="5.4" transform="rotate(-78 711.2 363.1)" fill="#f4b183"/>
<line x1="709.6" y1="363.1" x2="712.8000000000001" y2="363.1" stroke="#fff" stroke-width="1" transform="rotate(-78 711.2 363.1)"/>
<ellipse cx="760.6" cy="364.7" rx="13" ry="5.4" transform="rotate(68 760.6 364.7)" fill="#f4b183"/>
<line x1="759.0" y1="364.7" x2="762.2" y2="364.7" stroke="#fff" stroke-width="1" transform="rotate(68 760.6 364.7)"/>
<ellipse cx="666.6" cy="418" rx="13" ry="5.4" transform="rotate(75 666.6 418)" fill="#f4b183"/>
<line x1="665.0" y1="418" x2="668.2" y2="418" stroke="#fff" stroke-width="1" transform="rotate(75 666.6 418)"/>
<ellipse cx="709.3" cy="406.9" rx="13" ry="5.4" transform="rotate(85 709.3 406.9)" fill="#f4b183"/>
<line x1="707.6999999999999" y1="406.9" x2="710.9" y2="406.9" stroke="#fff" stroke-width="1" transform="rotate(85 709.3 406.9)"/>
<ellipse cx="760.6" cy="405.3" rx="13" ry="5.4" transform="rotate(-65 760.6 405.3)" fill="#f4b183"/>
<line x1="759.0" y1="405.3" x2="762.2" y2="405.3" stroke="#fff" stroke-width="1" transform="rotate(-65 760.6 405.3)"/>
<ellipse cx="686.4" cy="482.1" rx="13" ry="5.4" transform="rotate(88 686.4 482.1)" fill="#f4b183"/>
<line x1="684.8" y1="482.1" x2="688.0" y2="482.1" stroke="#fff" stroke-width="1" transform="rotate(88 686.4 482.1)"/>
<ellipse cx="683.3" cy="523.7" rx="13" ry="5.4" transform="rotate(-78 683.3 523.7)" fill="#f4b183"/>
<line x1="681.6999999999999" y1="523.7" x2="684.9" y2="523.7" stroke="#fff" stroke-width="1" transform="rotate(-78 683.3 523.7)"/>
<ellipse cx="698.1" cy="535.4" rx="13" ry="5.4" transform="rotate(70 698.1 535.4)" fill="#f4b183"/>
<line x1="696.5" y1="535.4" x2="699.7" y2="535.4" stroke="#fff" stroke-width="1" transform="rotate(70 698.1 535.4)"/>
<ellipse cx="640.8" cy="535.4" rx="13" ry="5.4" transform="rotate(-78 640.8 535.4)" fill="#f4b183"/>
<line x1="639.1999999999999" y1="535.4" x2="642.4" y2="535.4" stroke="#fff" stroke-width="1" transform="rotate(-78 640.8 535.4)"/>
<ellipse cx="644" cy="456" rx="13" ry="5.4" transform="rotate(78 644 456)" fill="#f4b183"/>
<line x1="642.4" y1="456" x2="645.6" y2="456" stroke="#fff" stroke-width="1" transform="rotate(78 644 456)"/>
<ellipse cx="735.9" cy="469.6" rx="13" ry="5.4" transform="rotate(30 735.9 469.6)" fill="#f4b183"/>
<line x1="734.3" y1="469.6" x2="737.5" y2="469.6" stroke="#fff" stroke-width="1" transform="rotate(30 735.9 469.6)"/>
<ellipse cx="734" cy="536.2" rx="13" ry="5.4" transform="rotate(-22 734 536.2)" fill="#f4b183"/>
<line x1="732.4" y1="536.2" x2="735.6" y2="536.2" stroke="#fff" stroke-width="1" transform="rotate(-22 734 536.2)"/>
<ellipse cx="645.1" cy="358.3" rx="6.3" ry="7.2" fill="#c9c9c9"/>
<path d="M642.9,358.3 h4.4 M645.1,356.1 v4.4" stroke="#fff" stroke-width="1"/>
<ellipse cx="681" cy="359.1" rx="6.3" ry="7.2" fill="#c9c9c9"/>
<path d="M678.8,359.1 h4.4 M681.0,356.9 v4.4" stroke="#fff" stroke-width="1"/>
<ellipse cx="727.5" cy="357.2" rx="6.3" ry="7.2" fill="#c9c9c9"/>
<path d="M725.3,357.2 h4.4 M727.5,355.0 v4.4" stroke="#fff" stroke-width="1"/>
<ellipse cx="649.9" cy="409.3" rx="6.3" ry="7.2" fill="#c9c9c9"/>
<path d="M647.7,409.3 h4.4 M649.9,407.1 v4.4" stroke="#fff" stroke-width="1"/>
<ellipse cx="685.4" cy="412.5" rx="6.3" ry="7.2" fill="#c9c9c9"/>
<path d="M683.2,412.5 h4.4 M685.4,410.3 v4.4" stroke="#fff" stroke-width="1"/>
<ellipse cx="732.7" cy="416.1" rx="6.3" ry="7.2" fill="#c9c9c9"/>
<path d="M730.5,416.1 h4.4 M732.7,413.9 v4.4" stroke="#fff" stroke-width="1"/>
<ellipse cx="654.6" cy="474.8" rx="6.3" ry="7.2" fill="#c9c9c9"/>
<path d="M652.4,474.8 h4.4 M654.6,472.6 v4.4" stroke="#fff" stroke-width="1"/>
<ellipse cx="715" cy="473.7" rx="6.3" ry="7.2" fill="#c9c9c9"/>
<path d="M712.8,473.7 h4.4 M715.0,471.5 v4.4" stroke="#fff" stroke-width="1"/>
<ellipse cx="755.4" cy="476.3" rx="6.3" ry="7.2" fill="#c9c9c9"/>
<path d="M753.2,476.3 h4.4 M755.4,474.1 v4.4" stroke="#fff" stroke-width="1"/>
<ellipse cx="656.4" cy="528.9" rx="6.3" ry="7.2" fill="#c9c9c9"/>
<path d="M654.2,528.9 h4.4 M656.4,526.7 v4.4" stroke="#fff" stroke-width="1"/>
<ellipse cx="712.4" cy="531.5" rx="6.3" ry="7.2" fill="#c9c9c9"/>
<path d="M710.2,531.5 h4.4 M712.4,529.3 v4.4" stroke="#fff" stroke-width="1"/>
<ellipse cx="755.4" cy="531.5" rx="6.3" ry="7.2" fill="#c9c9c9"/>
<path d="M753.2,531.5 h4.4 M755.4,529.3 v4.4" stroke="#fff" stroke-width="1"/>
<ellipse cx="640.4" cy="384.9" rx="5" ry="6" fill="#ff0000"/>
<path d="M638.2,384.9 h4.4 M640.4,382.7 v4.4" stroke="#fff" stroke-width="1"/>
<ellipse cx="675.7" cy="384.9" rx="5" ry="6" fill="#ff0000"/>
<path d="M673.5,384.9 h4.4 M675.7,382.7 v4.4" stroke="#fff" stroke-width="1"/>
<ellipse cx="741" cy="384.9" rx="5" ry="6" fill="#ff0000"/>
<path d="M738.8,384.9 h4.4 M741.0,382.7 v4.4" stroke="#fff" stroke-width="1"/>
<ellipse cx="765" cy="384.9" rx="5" ry="6" fill="#ff0000"/>
<path d="M762.8,384.9 h4.4 M765.0,382.7 v4.4" stroke="#fff" stroke-width="1"/>
<ellipse cx="652.8" cy="384.9" rx="6.4" ry="7.6" fill="#6f6f6f"/>
<path d="M650.6,384.9 h4.4 M652.8,382.7 v4.4" stroke="#ddd" stroke-width="1"/>
<ellipse cx="688.4" cy="384.9" rx="6.4" ry="7.6" fill="#6f6f6f"/>
<path d="M686.2,384.9 h4.4 M688.4,382.7 v4.4" stroke="#ddd" stroke-width="1"/>
<ellipse cx="708.5" cy="384.9" rx="6.4" ry="7.6" fill="#6f6f6f"/>
<path d="M706.3,384.9 h4.4 M708.5,382.7 v4.4" stroke="#ddd" stroke-width="1"/>
<ellipse cx="728.4" cy="384.9" rx="6.4" ry="7.6" fill="#6f6f6f"/>
<path d="M726.2,384.9 h4.4 M728.4,382.7 v4.4" stroke="#ddd" stroke-width="1"/>
<line x1="660.3" y1="384.9" x2="666.8" y2="384.9" stroke="#000" stroke-width="1.3" stroke-dasharray="1.2,1.4"/>
<polygon points="665.8,382.29999999999995 669.8,384.9 665.8,387.5" fill="#000"/>
<line x1="696" y1="384.9" x2="698.7" y2="384.9" stroke="#000" stroke-width="1.3" stroke-dasharray="1.2,1.4"/>
<polygon points="697.7,382.29999999999995 701.7,384.9 697.7,387.5" fill="#000"/>
<line x1="716" y1="384.9" x2="718.6" y2="384.9" stroke="#000" stroke-width="1.3" stroke-dasharray="1.2,1.4"/>
<polygon points="717.6,382.29999999999995 721.6,384.9 717.6,387.5" fill="#000"/>
<line x1="747" y1="384.9" x2="755.2" y2="384.9" stroke="#000" stroke-width="1.3" stroke-dasharray="1.2,1.4"/>
<polygon points="754.2,382.29999999999995 758.2,384.9 754.2,387.5" fill="#000"/>
<ellipse cx="647.3" cy="502.9" rx="5" ry="6" fill="#ff0000"/>
<path d="M645.1,502.9 h4.4 M647.3,500.7 v4.4" stroke="#fff" stroke-width="1"/>
<ellipse cx="685.9" cy="502.9" rx="5" ry="6" fill="#ff0000"/>
<path d="M683.7,502.9 h4.4 M685.9,500.7 v4.4" stroke="#fff" stroke-width="1"/>
<ellipse cx="708.5" cy="502.9" rx="5" ry="6" fill="#ff0000"/>
<path d="M706.3,502.9 h4.4 M708.5,500.7 v4.4" stroke="#fff" stroke-width="1"/>
<ellipse cx="748.4" cy="502.9" rx="5" ry="6" fill="#ff0000"/>
<path d="M746.2,502.9 h4.4 M748.4,500.7 v4.4" stroke="#fff" stroke-width="1"/>
<ellipse cx="660.4" cy="502.9" rx="6.4" ry="7.6" fill="#6f6f6f"/>
<path d="M658.2,502.9 h4.4 M660.4,500.7 v4.4" stroke="#ddd" stroke-width="1"/>
<ellipse cx="721" cy="502.9" rx="6.4" ry="7.6" fill="#6f6f6f"/>
<path d="M718.8,502.9 h4.4 M721.0,500.7 v4.4" stroke="#ddd" stroke-width="1"/>
<ellipse cx="762.7" cy="502.9" rx="6.4" ry="7.6" fill="#6f6f6f"/>
<path d="M760.5,502.9 h4.4 M762.7,500.7 v4.4" stroke="#ddd" stroke-width="1"/>
<line x1="668" y1="502.9" x2="677" y2="502.9" stroke="#000" stroke-width="1.3" stroke-dasharray="1.2,1.4"/>
<polygon points="676,500.29999999999995 680,502.9 676,505.5" fill="#000"/>
<line x1="692" y1="502.9" x2="699.5" y2="502.9" stroke="#000" stroke-width="1.3" stroke-dasharray="1.2,1.4"/>
<polygon points="698.5,500.29999999999995 702.5,502.9 698.5,505.5" fill="#000"/>
<line x1="729" y1="502.9" x2="739.5" y2="502.9" stroke="#000" stroke-width="1.3" stroke-dasharray="1.2,1.4"/>
<polygon points="738.5,500.29999999999995 742.5,502.9 738.5,505.5" fill="#000"/>
<path d="M881.4,316.1 L917,316.1 L917,564.6 L881.4,564.6 L881.4,545 C873,530 871,490 881.4,466 L881.4,430 C868,412 868,370 881.4,350 Z" fill="#bdbdbd"/>
<path d="M871.5,316.1 L881.4,316.1 L881.4,350 C868,370 868,412 881.4,430 L881.4,466 C871,490 873,530 881.4,545 L881.4,564.6 L873.8,564.6 L873.8,548 C868,545 864,535 862,520 C860,500 862,480 870,466 L871.5,460 L871.5,430 C864,420 860,405 860,385 C860,365 864,352 871.5,346 Z" fill="#f4b183"/>
<ellipse cx="861" cy="319.5" rx="11" ry="4.8" transform="rotate(-8 861 319.5)" fill="#f4b183"/>
<line x1="859.5" y1="319.5" x2="862.5" y2="319.5" stroke="#fff" stroke-width="0.9"/>
<ellipse cx="862.4" cy="434.6" rx="11" ry="4.8" transform="rotate(8 862.4 434.6)" fill="#f4b183"/>
<line x1="860.9" y1="434.6" x2="863.9" y2="434.6" stroke="#fff" stroke-width="0.9"/>
<ellipse cx="862.5" cy="434.3" rx="11" ry="4.8" transform="rotate(0 862.5 434.3)" fill="#f4b183"/>
<line x1="861.0" y1="434.3" x2="864.0" y2="434.3" stroke="#fff" stroke-width="0.9"/>
<ellipse cx="863.9" cy="555.2" rx="11" ry="4.8" transform="rotate(8 863.9 555.2)" fill="#f4b183"/>
<line x1="862.4" y1="555.2" x2="865.4" y2="555.2" stroke="#fff" stroke-width="0.9"/>
<ellipse cx="866.8" cy="333" rx="5.4" ry="5.8" fill="#ff0000"/>
<path d="M864.6,333.0 h4.4 M866.8,330.8 v4.4" stroke="#fff" stroke-width="1"/>
<ellipse cx="866.8" cy="346" rx="5.4" ry="5.8" fill="#ff0000"/>
<path d="M864.6,346.0 h4.4 M866.8,343.8 v4.4" stroke="#fff" stroke-width="1"/>
<ellipse cx="865.8" cy="419" rx="5.4" ry="5.8" fill="#ff0000"/>
<path d="M863.6,419.0 h4.4 M865.8,416.8 v4.4" stroke="#fff" stroke-width="1"/>
<ellipse cx="865.3" cy="447" rx="5.4" ry="5.8" fill="#ff0000"/>
<path d="M863.1,447.0 h4.4 M865.3,444.8 v4.4" stroke="#fff" stroke-width="1"/>
<ellipse cx="865.3" cy="459.3" rx="5.4" ry="5.8" fill="#ff0000"/>
<path d="M863.1,459.3 h4.4 M865.3,457.1 v4.4" stroke="#fff" stroke-width="1"/>
<ellipse cx="865.3" cy="471.8" rx="5.4" ry="5.8" fill="#ff0000"/>
<path d="M863.1,471.8 h4.4 M865.3,469.6 v4.4" stroke="#fff" stroke-width="1"/>
<ellipse cx="869" cy="543.8" rx="5.4" ry="5.8" fill="#ff0000"/>
<path d="M866.8,543.8 h4.4 M869.0,541.6 v4.4" stroke="#fff" stroke-width="1"/>
<ellipse cx="855.9" cy="366.4" rx="6.3" ry="6.8" fill="#6f6f6f"/>
<path d="M853.7,366.4 h4.4 M855.9,364.2 v4.4" stroke="#ddd" stroke-width="1"/>
<ellipse cx="853.3" cy="384.3" rx="6.3" ry="6.8" fill="#6f6f6f"/>
<path d="M851.1,384.3 h4.4 M853.3,382.1 v4.4" stroke="#ddd" stroke-width="1"/>
<ellipse cx="855.9" cy="402" rx="6.3" ry="6.8" fill="#6f6f6f"/>
<path d="M853.7,402.0 h4.4 M855.9,399.8 v4.4" stroke="#ddd" stroke-width="1"/>
<ellipse cx="856.2" cy="485.5" rx="6.3" ry="6.8" fill="#6f6f6f"/>
<path d="M854.0,485.5 h4.4 M856.2,483.3 v4.4" stroke="#ddd" stroke-width="1"/>
<ellipse cx="853.9" cy="504" rx="6.3" ry="6.8" fill="#6f6f6f"/>
<path d="M851.7,504.0 h4.4 M853.9,501.8 v4.4" stroke="#ddd" stroke-width="1"/>
<ellipse cx="856.2" cy="523.3" rx="6.3" ry="6.8" fill="#6f6f6f"/>
<path d="M854.0,523.3 h4.4 M856.2,521.1 v4.4" stroke="#ddd" stroke-width="1"/>
<line x1="772.6" y1="379.9" x2="832" y2="379.9" stroke="#ff0000" stroke-width="1.4" stroke-dasharray="1.2,1.4" fill="none"/>
<polygon points="831,377.29999999999995 835.5,379.9 831,382.5" fill="#ff0000"/>
<line x1="772.6" y1="385.6" x2="832" y2="385.6" stroke="#44546a" stroke-width="1.4" stroke-dasharray="1.2,1.4" fill="none"/>
<polygon points="831,383.0 835.5,385.6 831,388.20000000000005" fill="#44546a"/>
<path d="M826,373.9 C842,369.9 840,350.2 855,348.2" stroke="#ff0000" stroke-width="1.4" stroke-dasharray="1.2,1.4" fill="none"/>
<polygon points="854,345.59999999999997 858.5,348.2 854,350.8" fill="#ff0000"/>
<path d="M826,390.6 C842,394.6 840,415.6 855,417.6" stroke="#ff0000" stroke-width="1.4" stroke-dasharray="1.2,1.4" fill="none"/>
<polygon points="854,415.0 858.5,417.6 854,420.20000000000005" fill="#ff0000"/>
<line x1="772.6" y1="496" x2="832" y2="496" stroke="#ff0000" stroke-width="1.4" stroke-dasharray="1.2,1.4" fill="none"/>
<polygon points="831,493.4 835.5,496 831,498.6" fill="#ff0000"/>
<line x1="772.6" y1="501.7" x2="832" y2="501.7" stroke="#44546a" stroke-width="1.4" stroke-dasharray="1.2,1.4" fill="none"/>
<polygon points="831,499.09999999999997 835.5,501.7 831,504.3" fill="#44546a"/>
<path d="M826,490 C842,486 840,460.4 855,458.4" stroke="#ff0000" stroke-width="1.4" stroke-dasharray="1.2,1.4" fill="none"/>
<polygon points="854,455.79999999999995 858.5,458.4 854,461.0" fill="#ff0000"/>
<path d="M826,506.7 C842,510.7 840,540.4 855,542.4" stroke="#ff0000" stroke-width="1.4" stroke-dasharray="1.2,1.4" fill="none"/>
<polygon points="854,539.8 858.5,542.4 854,545.0" fill="#ff0000"/>
<text x="775.7" y="335.5" font-family='"Liberation Sans", sans-serif' font-size="12.5" font-weight="bold" fill="#f4b183" text-anchor="start" textLength="24.5" lengthAdjust="spacingAndGlyphs" >TFSI</text>
<text x="800.5" y="329.4" font-family='"Liberation Sans", sans-serif' font-size="8" font-weight="bold" fill="#f4b183" text-anchor="start" >-</text>
<text x="804.0" y="335.5" font-family='"Liberation Sans", sans-serif' font-size="12.5" font-weight="bold" fill="#f4b183" text-anchor="start" textLength="50.6" lengthAdjust="spacingAndGlyphs" >derived SEI</text>
<text x="775.2" y="399.1" font-family='"Liberation Sans", sans-serif' font-size="8.6" font-weight="bold" fill="#111" text-anchor="start" textLength="32.5" lengthAdjust="spacingAndGlyphs" >Uniform Li</text>
<text x="775.2" y="410.1" font-family='"Liberation Sans", sans-serif' font-size="8.6" font-weight="bold" fill="#111" text-anchor="start" textLength="45.5" lengthAdjust="spacingAndGlyphs" >deposition by</text>
<text x="775.2" y="421.1" font-family='"Liberation Sans", sans-serif' font-size="8.6" font-weight="bold" fill="#111" text-anchor="start" textLength="55.0" lengthAdjust="spacingAndGlyphs" >cation shielding</text>
<text x="808.3" y="395.3" font-family='"Liberation Sans", sans-serif' font-size="5.5" font-weight="bold" fill="#111" text-anchor="start" >+</text>
<text x="789.9" y="447.4" font-family='"Liberation Sans", sans-serif' font-size="11" font-weight="bold" fill="#111" text-anchor="start" textLength="27.9" lengthAdjust="spacingAndGlyphs" >E-field</text>
<polygon points="785.6,454.2 814.5,454.2 814.5,452.5 824.6,457 814.5,461.5 814.5,459.8 785.6,459.8" fill="#a9d18e"/>
<text x="782.8" y="517.0" font-family='"Liberation Sans", sans-serif' font-size="8.6" font-weight="bold" fill="#111" text-anchor="start" textLength="43.0" lengthAdjust="spacingAndGlyphs" >Electrostatic</text>
<text x="782.8" y="528.0" font-family='"Liberation Sans", sans-serif' font-size="8.6" font-weight="bold" fill="#111" text-anchor="start" textLength="46.0" lengthAdjust="spacingAndGlyphs" >adsorption of</text>
<text x="782.8" y="539.0" font-family='"Liberation Sans", sans-serif' font-size="8.6" font-weight="bold" fill="#111" text-anchor="start" textLength="21.0" lengthAdjust="spacingAndGlyphs" >MEMP</text>
<text x="804.5" y="535.0" font-family='"Liberation Sans", sans-serif' font-size="5.5" font-weight="bold" fill="#111" text-anchor="start" >+</text>
<text x="876.7" y="581.4" font-family='"Liberation Sans", sans-serif' font-size="12" font-weight="bold" fill="#bfbfbf" text-anchor="start" textLength="41.8" lengthAdjust="spacingAndGlyphs" >Li Anode</text>
<ellipse cx="516.9" cy="470.5" rx="6.5" ry="6.8" fill="#707070"/>
<path d="M514.7,470.5 h4.4 M516.9,468.3 v4.4" stroke="#ddd" stroke-width="1"/>
<ellipse cx="517.4" cy="494.5" rx="5.2" ry="5.6" fill="#ff0000"/>
<path d="M515.2,494.5 h4.4 M517.4,492.3 v4.4" stroke="#fff" stroke-width="1"/>
<ellipse cx="518.7" cy="518.7" rx="13" ry="5.2" transform="rotate(0 518.7 518.7)" fill="#f4b183"/>
<line x1="517.1" y1="518.7" x2="520.3000000000001" y2="518.7" stroke="#fff" stroke-width="1" transform="rotate(0 518.7 518.7)"/>
<path d="M513.5,533.1 C516,537 520,541 523.6,542.9 C526,540 529,536 530.8,532.5 M523.6,542.9 C526,548 522,551 518,553 C514,556 513.5,559 513.5,563" fill="none" stroke="#5b9bd5" stroke-width="1.2"/>
<ellipse cx="513.5" cy="569.4" rx="6.3" ry="6.3" fill="#c9c9c9"/>
<path d="M511.3,569.4 h4.4 M513.5,567.2 v4.4" stroke="#fff" stroke-width="1"/>
<text x="545.5" y="474.6" font-family='"Liberation Sans", sans-serif' font-size="10" font-weight="bold" fill="#111" text-anchor="start" textLength="24.0" lengthAdjust="spacingAndGlyphs" >MEMP</text>
<text x="570.0" y="470.2" font-family='"Liberation Sans", sans-serif' font-size="6" font-weight="bold" fill="#111" text-anchor="start" >+</text>
<text x="545.5" y="498.1" font-family='"Liberation Sans", sans-serif' font-size="10" font-weight="bold" fill="#111" text-anchor="start" textLength="8.6" lengthAdjust="spacingAndGlyphs" >Li</text>
<text x="554.2" y="493.7" font-family='"Liberation Sans", sans-serif' font-size="6" font-weight="bold" fill="#111" text-anchor="start" >+</text>
<text x="545.5" y="522.0" font-family='"Liberation Sans", sans-serif' font-size="10" font-weight="bold" fill="#111" text-anchor="start" textLength="18.0" lengthAdjust="spacingAndGlyphs" >TFSI</text>
<text x="563.6" y="517.7" font-family='"Liberation Sans", sans-serif' font-size="6" font-weight="bold" fill="#111" text-anchor="start" >-</text>
<text x="546.0" y="557.2" font-family='"Liberation Sans", sans-serif' font-size="10" font-weight="bold" fill="#111" text-anchor="start" textLength="18.5" lengthAdjust="spacingAndGlyphs" >GIM</text>
<text x="564.5" y="552.7" font-family='"Liberation Sans", sans-serif' font-size="6" font-weight="bold" fill="#111" text-anchor="start" >+</text>
</svg>
</body></html>
